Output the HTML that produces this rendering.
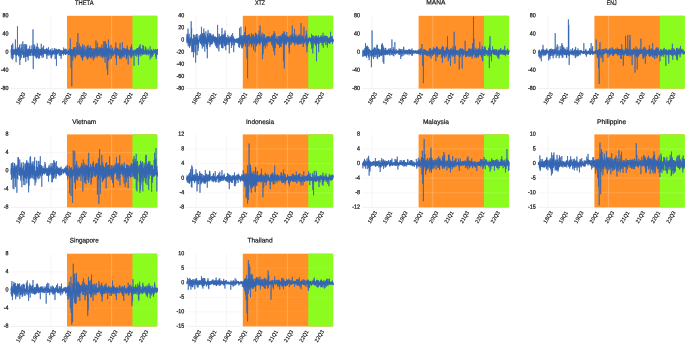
<!DOCTYPE html>
<html><head><meta charset="utf-8"><title>Returns</title>
<style>html,body{margin:0;padding:0;background:#fff;overflow:hidden}svg{display:block;font-family:"Liberation Sans",sans-serif}</style>
</head><body>
<svg width="685" height="343" viewBox="0 0 685 343">
<rect width="685" height="343" fill="#fff"/>
<g>
<line x1="11.00" x2="157.50" y1="88.60" y2="88.60" stroke="#e6e6e6" stroke-width="0.6"/>
<line x1="50.80" x2="50.80" y1="15.80" y2="88.60" stroke="#efefef" stroke-width="0.6"/>
<line x1="111.60" x2="111.60" y1="15.80" y2="88.60" stroke="#efefef" stroke-width="0.6"/>
<rect x="67.00" y="15.80" width="89.50" height="72.80" fill="#FF9128"/>
<rect x="132.45" y="15.80" width="25.05" height="72.80" fill="#8CFC1E"/>
<line x1="111.60" x2="111.60" y1="15.80" y2="88.60" stroke="#fff" stroke-opacity="0.38" stroke-width="0.6"/>
<polyline points="11.00,52.41 11.09,52.58 11.17,49.54 11.26,52.92 11.34,58.27 11.43,52.49 11.52,54.47 11.60,45.08 11.69,51.14 11.78,53.37 11.86,45.47 11.95,54.21 12.03,50.25 12.12,54.34 12.21,52.45 12.29,54.25 12.38,59.71 12.47,50.58 12.55,56.48 12.64,48.94 12.72,50.54 12.81,43.41 12.90,53.72 12.98,55.18 13.07,58.39 13.16,53.93 13.24,50.70 13.33,51.80 13.41,51.49 13.50,54.36 13.59,53.84 13.67,50.15 13.76,54.76 13.85,54.64 13.93,49.18 14.02,51.13 14.10,50.45 14.19,52.99 14.28,54.11 14.36,52.60 14.45,51.78 14.54,49.88 14.62,49.07 14.71,52.96 14.79,51.15 14.88,53.39 14.97,53.10 15.05,52.38 15.14,54.70 15.23,54.30 15.31,47.27 15.40,39.46 15.48,48.81 15.57,53.55 15.66,51.25 15.74,55.31 15.83,47.50 15.91,50.83 16.00,55.18 16.09,62.21 16.17,50.64 16.26,55.19 16.35,48.99 16.43,52.83 16.52,52.28 16.60,55.61 16.69,52.91 16.78,49.67 16.86,52.16 16.95,53.45 17.04,54.59 17.12,53.77 17.21,49.87 17.29,52.66 17.38,54.62 17.47,26.27 17.55,52.25 17.64,48.53 17.73,48.35 17.81,51.62 17.90,54.57 17.98,53.59 18.07,50.29 18.16,50.59 18.24,52.45 18.33,50.65 18.42,52.10 18.50,56.34 18.59,50.90 18.67,52.80 18.76,47.11 18.85,53.31 18.93,48.25 19.02,51.87 19.11,56.22 19.19,52.60 19.28,47.93 19.36,52.99 19.45,54.27 19.54,44.73 19.62,51.26 19.71,51.28 19.80,64.94 19.88,52.68 19.97,52.81 20.05,50.49 20.14,52.55 20.23,50.98 20.31,55.59 20.40,51.55 20.48,59.92 20.57,51.81 20.66,54.24 20.74,50.28 20.83,53.41 20.92,48.42 21.00,53.23 21.09,50.71 21.17,43.92 21.26,50.06 21.35,52.49 21.43,48.62 21.52,47.53 21.61,57.74 21.69,52.23 21.78,52.62 21.86,52.19 21.95,51.72 22.04,51.04 22.12,50.54 22.21,52.82 22.30,51.71 22.38,52.46 22.47,53.72 22.55,54.81 22.64,53.43 22.73,50.52 22.81,41.43 22.90,52.61 22.99,54.03 23.07,52.27 23.16,44.55 23.24,54.34 23.33,54.40 23.42,49.77 23.50,56.58 23.59,57.97 23.68,54.82 23.76,55.21 23.85,56.91 23.93,50.21 24.02,58.01 24.11,51.94 24.19,53.42 24.28,54.91 24.37,53.41 24.45,47.98 24.54,47.46 24.62,48.48 24.71,47.51 24.80,43.96 24.88,48.59 24.97,50.23 25.06,56.24 25.14,56.60 25.23,54.50 25.31,54.58 25.40,49.90 25.49,51.38 25.57,57.07 25.66,44.01 25.74,61.90 25.83,50.58 25.92,53.48 26.00,55.29 26.09,45.57 26.18,53.18 26.26,56.80 26.35,55.28 26.43,51.25 26.52,49.95 26.61,44.67 26.69,53.52 26.78,49.34 26.87,56.42 26.95,55.25 27.04,53.08 27.12,51.00 27.21,56.24 27.30,50.09 27.38,53.24 27.47,53.05 27.56,54.01 27.64,48.90 27.73,54.68 27.81,57.02 27.90,51.26 27.99,50.39 28.07,51.69 28.16,60.37 28.25,50.68 28.33,53.82 28.42,55.53 28.50,50.36 28.59,48.53 28.68,55.11 28.76,52.45 28.85,54.40 28.94,52.06 29.02,52.61 29.11,50.72 29.19,53.32 29.28,55.71 29.37,51.20 29.45,51.66 29.54,49.23 29.63,55.21 29.71,45.76 29.80,48.64 29.88,52.71 29.97,50.24 30.06,51.36 30.14,50.94 30.23,53.80 30.31,54.65 30.40,55.63 30.49,54.42 30.57,51.01 30.66,49.16 30.75,53.60 30.83,51.68 30.92,50.41 31.00,56.03 31.09,52.94 31.18,49.48 31.26,51.32 31.35,52.15 31.44,51.66 31.52,52.46 31.61,49.33 31.69,51.30 31.78,52.61 31.87,49.80 31.95,45.34 32.04,51.41 32.13,50.86 32.21,52.97 32.30,53.07 32.38,50.82 32.47,50.06 32.56,55.49 32.64,51.70 32.73,53.42 32.82,54.19 32.90,55.13 32.99,29.45 33.07,55.23 33.16,51.87 33.25,69.03 33.33,49.93 33.42,54.05 33.51,55.93 33.59,53.10 33.68,48.03 33.76,53.62 33.85,56.12 33.94,44.06 34.02,51.63 34.11,47.46 34.20,53.52 34.28,47.02 34.37,54.51 34.45,55.39 34.54,53.20 34.63,49.90 34.71,45.42 34.80,53.68 34.88,52.37 34.97,49.06 35.06,51.17 35.14,51.53 35.23,56.39 35.32,52.86 35.40,51.41 35.49,50.53 35.57,50.25 35.66,55.76 35.75,49.19 35.83,54.14 35.92,48.88 36.01,57.77 36.09,49.99 36.18,51.77 36.26,46.63 36.35,52.31 36.44,58.54 36.52,50.63 36.61,53.38 36.70,54.36 36.78,47.17 36.87,49.24 36.95,51.12 37.04,51.60 37.13,50.44 37.21,49.42 37.30,43.31 37.39,53.14 37.47,55.37 37.56,57.53 37.64,55.32 37.73,51.61 37.82,55.25 37.90,52.40 37.99,52.70 38.08,46.86 38.16,52.14 38.25,50.65 38.33,49.34 38.42,57.18 38.51,49.60 38.59,51.60 38.68,58.68 38.77,52.72 38.85,49.14 38.94,52.64 39.02,51.45 39.11,48.50 39.20,49.06 39.28,54.63 39.37,53.32 39.45,52.16 39.54,58.39 39.63,52.06 39.71,51.98 39.80,54.40 39.89,50.40 39.97,49.59 40.06,54.71 40.14,53.13 40.23,49.23 40.32,54.31 40.40,55.24 40.49,53.29 40.58,54.72 40.66,53.06 40.75,49.03 40.83,51.90 40.92,52.10 41.01,54.65 41.09,55.78 41.18,49.16 41.27,43.78 41.35,54.70 41.44,48.21 41.52,52.24 41.61,55.24 41.70,48.91 41.78,53.17 41.87,52.00 41.96,48.84 42.04,53.72 42.13,57.83 42.21,52.03 42.30,49.86 42.39,50.98 42.47,50.83 42.56,54.32 42.65,51.31 42.73,47.34 42.82,48.61 42.90,52.43 42.99,48.78 43.08,52.84 43.16,55.05 43.25,51.23 43.34,51.91 43.42,57.27 43.51,52.84 43.59,45.56 43.68,52.57 43.77,48.99 43.85,51.04 43.94,49.12 44.03,53.10 44.11,53.05 44.20,53.16 44.28,52.00 44.37,52.09 44.46,51.32 44.54,53.56 44.63,51.04 44.71,49.79 44.80,53.51 44.89,53.63 44.97,50.92 45.06,51.90 45.15,50.74 45.23,53.95 45.32,52.84 45.40,51.36 45.49,53.34 45.58,51.67 45.66,52.03 45.75,53.62 45.84,49.08 45.92,53.80 46.01,54.10 46.09,53.40 46.18,49.05 46.27,52.32 46.35,51.51 46.44,53.20 46.53,52.90 46.61,52.15 46.70,55.50 46.78,47.98 46.87,58.85 46.96,49.67 47.04,50.97 47.13,54.48 47.22,53.49 47.30,51.14 47.39,55.17 47.47,49.09 47.56,51.49 47.65,49.64 47.73,51.67 47.82,50.51 47.91,51.55 47.99,52.95 48.08,50.50 48.16,50.39 48.25,51.68 48.34,49.96 48.42,49.78 48.51,47.31 48.60,55.12 48.68,55.63 48.77,51.83 48.85,50.85 48.94,52.21 49.03,53.71 49.11,51.49 49.20,54.04 49.28,53.55 49.37,52.15 49.46,50.79 49.54,50.69 49.63,52.65 49.72,51.42 49.80,55.29 49.89,50.89 49.97,49.82 50.06,51.09 50.15,50.48 50.23,51.98 50.32,52.81 50.41,49.27 50.49,52.70 50.58,52.02 50.66,55.07 50.75,51.22 50.84,52.72 50.92,53.40 51.01,55.54 51.10,57.91 51.18,53.65 51.27,52.09 51.35,51.56 51.44,58.44 51.53,53.54 51.61,50.85 51.70,55.25 51.79,54.48 51.87,56.69 51.96,48.43 52.04,48.32 52.13,48.58 52.22,53.89 52.30,52.00 52.39,50.92 52.48,54.60 52.56,54.17 52.65,54.16 52.73,51.35 52.82,50.38 52.91,50.63 52.99,52.93 53.08,51.55 53.17,52.91 53.25,54.30 53.34,51.86 53.42,54.30 53.51,50.28 53.60,53.92 53.68,52.32 53.77,51.35 53.85,52.63 53.94,51.89 54.03,53.54 54.11,50.60 54.20,52.80 54.29,53.33 54.37,48.01 54.46,51.00 54.54,53.62 54.63,50.73 54.72,54.37 54.80,52.34 54.89,53.96 54.98,53.41 55.06,52.14 55.15,59.14 55.23,49.94 55.32,52.55 55.41,52.04 55.49,51.60 55.58,51.90 55.67,49.92 55.75,51.46 55.84,48.64 55.92,50.47 56.01,52.42 56.10,57.98 56.18,52.08 56.27,48.98 56.36,53.57 56.44,65.85 56.53,51.11 56.61,53.83 56.70,50.69 56.79,54.52 56.87,50.25 56.96,51.51 57.05,52.41 57.13,52.15 57.22,54.28 57.30,50.63 57.39,50.77 57.48,53.96 57.56,51.53 57.65,52.26 57.74,52.14 57.82,53.83 57.91,49.66 57.99,50.72 58.08,52.88 58.17,52.00 58.25,49.13 58.34,52.07 58.42,52.27 58.51,51.32 58.60,48.99 58.68,52.23 58.77,51.96 58.86,50.37 58.94,52.95 59.03,53.23 59.11,55.40 59.20,55.57 59.29,54.21 59.37,51.43 59.46,49.30 59.55,51.66 59.63,52.98 59.72,52.33 59.80,53.64 59.89,55.94 59.98,55.73 60.06,49.73 60.15,53.10 60.24,51.94 60.32,50.86 60.41,50.61 60.49,53.46 60.58,55.48 60.67,53.74 60.75,52.75 60.84,53.12 60.93,52.58 61.01,56.24 61.10,58.81 61.18,54.51 61.27,50.40 61.36,54.37 61.44,55.74 61.53,51.72 61.62,50.08 61.70,51.00 61.79,51.09 61.87,51.47 61.96,52.21 62.05,52.46 62.13,53.70 62.22,51.86 62.31,50.67 62.39,50.89 62.48,53.82 62.56,50.78 62.65,52.55 62.74,51.62 62.82,51.27 62.91,53.50 62.99,52.54 63.08,51.49 63.17,53.64 63.25,53.06 63.34,51.83 63.43,55.36 63.51,55.07 63.60,53.21 63.68,47.53 63.77,53.84 63.86,49.94 63.94,51.64 64.03,50.81 64.12,54.21 64.20,50.98 64.29,52.63 64.37,49.97 64.46,53.36 64.55,51.76 64.63,51.50 64.72,49.24 64.81,51.38 64.89,53.87 64.98,51.88 65.06,49.11 65.15,53.37 65.24,54.36 65.32,53.06 65.41,50.98 65.50,54.98 65.58,54.04 65.67,48.63 65.75,52.73 65.84,52.66 65.93,51.94 66.01,52.01 66.10,53.21 66.19,52.61 66.27,54.35 66.36,51.66 66.44,52.05 66.53,49.33 66.62,53.37 66.70,52.99 66.79,53.21 66.88,52.69 66.96,51.47 67.05,53.55 67.13,52.84 67.22,52.42 67.31,53.05 67.39,51.13 67.48,53.89 67.57,53.32 67.65,52.41 67.74,51.73 67.82,54.08 67.91,51.98 68.00,52.71 68.08,51.61 68.17,53.22 68.25,53.11 68.34,50.17 68.43,51.25 68.51,49.84 68.60,54.45 68.69,51.47 68.77,50.92 68.86,55.10 68.94,54.32 69.03,52.85 69.12,50.87 69.20,52.14 69.29,53.52 69.38,54.85 69.46,49.74 69.55,54.37 69.63,52.08 69.72,52.24 69.81,53.04 69.89,51.50 69.98,51.88 70.07,48.44 70.15,55.00 70.24,53.20 70.32,38.55 70.41,55.91 70.50,50.26 70.58,51.67 70.67,52.04 70.76,52.90 70.84,51.31 70.93,49.97 71.01,56.27 71.10,68.12 71.19,50.03 71.27,52.44 71.36,59.01 71.45,49.14 71.53,53.51 71.62,54.00 71.70,50.83 71.79,86.32 71.88,53.17 71.96,52.56 72.05,50.61 72.14,52.11 72.22,52.58 72.31,55.24 72.39,49.63 72.48,55.67 72.57,54.64 72.65,50.78 72.74,53.48 72.82,60.74 72.91,55.61 73.00,52.64 73.08,50.58 73.17,49.36 73.26,52.95 73.34,49.91 73.43,51.29 73.51,47.43 73.60,54.70 73.69,48.56 73.77,54.50 73.86,51.41 73.95,48.44 74.03,56.21 74.12,50.50 74.20,57.31 74.29,50.19 74.38,51.75 74.46,47.27 74.55,50.45 74.64,50.54 74.72,52.92 74.81,48.54 74.89,54.14 74.98,55.33 75.07,52.33 75.15,50.12 75.24,50.01 75.33,52.48 75.41,53.67 75.50,58.23 75.58,57.85 75.67,52.63 75.76,49.90 75.84,47.04 75.93,48.74 76.02,50.12 76.10,52.98 76.19,55.55 76.27,52.83 76.36,54.07 76.45,53.65 76.53,50.36 76.62,53.49 76.71,53.16 76.79,51.80 76.88,51.32 76.96,42.19 77.05,46.90 77.14,55.31 77.22,48.56 77.31,52.93 77.39,54.25 77.48,49.77 77.57,53.58 77.65,51.70 77.74,45.95 77.83,49.53 77.91,33.09 78.00,44.07 78.08,44.57 78.17,48.92 78.26,52.64 78.34,52.46 78.43,53.54 78.52,53.86 78.60,53.05 78.69,53.23 78.77,50.24 78.86,50.43 78.95,54.76 79.03,51.88 79.12,50.32 79.21,55.19 79.29,43.52 79.38,49.00 79.46,51.42 79.55,51.95 79.64,50.45 79.72,54.21 79.81,49.43 79.90,46.65 79.98,49.00 80.07,51.36 80.15,53.53 80.24,53.63 80.33,53.88 80.41,55.04 80.50,49.02 80.59,53.16 80.67,52.61 80.76,51.82 80.84,55.43 80.93,48.87 81.02,46.24 81.10,47.62 81.19,56.75 81.28,51.46 81.36,47.72 81.45,57.82 81.53,54.06 81.62,56.21 81.71,51.98 81.79,50.51 81.88,51.57 81.96,53.50 82.05,50.73 82.14,54.97 82.22,59.03 82.31,52.34 82.40,58.09 82.48,52.70 82.57,50.80 82.65,60.68 82.74,44.17 82.83,54.43 82.91,47.86 83.00,48.42 83.09,47.21 83.17,48.86 83.26,51.31 83.34,52.65 83.43,56.55 83.52,49.96 83.60,57.12 83.69,49.15 83.78,49.10 83.86,56.36 83.95,55.94 84.03,49.57 84.12,54.88 84.21,53.42 84.29,45.18 84.38,50.12 84.47,52.79 84.55,54.38 84.64,51.14 84.72,52.49 84.81,52.00 84.90,51.96 84.98,56.37 85.07,52.20 85.16,52.38 85.24,51.69 85.33,53.92 85.41,51.70 85.50,52.09 85.59,50.43 85.67,55.84 85.76,53.98 85.85,53.64 85.93,53.70 86.02,46.73 86.10,51.24 86.19,52.60 86.28,56.21 86.36,51.10 86.45,57.09 86.54,56.15 86.62,53.03 86.71,48.81 86.79,49.64 86.88,51.34 86.97,50.31 87.05,58.64 87.14,49.71 87.22,52.34 87.31,50.64 87.40,50.60 87.48,58.65 87.57,46.15 87.66,59.13 87.74,59.54 87.83,50.70 87.91,51.72 88.00,48.90 88.09,44.95 88.17,53.72 88.26,48.28 88.35,48.20 88.43,50.49 88.52,57.72 88.60,55.42 88.69,55.05 88.78,51.28 88.86,48.69 88.95,55.10 89.04,53.88 89.12,52.49 89.21,53.72 89.29,56.75 89.38,47.78 89.47,50.87 89.55,48.78 89.64,55.09 89.73,49.57 89.81,55.75 89.90,49.91 89.98,50.36 90.07,49.56 90.16,49.41 90.24,49.99 90.33,53.43 90.42,45.70 90.50,57.59 90.59,47.85 90.67,51.65 90.76,53.09 90.85,55.14 90.93,53.61 91.02,53.65 91.11,58.60 91.19,51.29 91.28,56.38 91.36,54.41 91.45,56.17 91.54,47.94 91.62,52.18 91.71,51.25 91.79,51.96 91.88,51.92 91.97,52.37 92.05,54.10 92.14,48.40 92.23,50.70 92.31,55.06 92.40,51.26 92.48,54.03 92.57,55.95 92.66,56.74 92.74,53.48 92.83,56.56 92.92,54.57 93.00,52.68 93.09,55.87 93.17,53.38 93.26,54.62 93.35,60.49 93.43,52.64 93.52,48.30 93.61,49.09 93.69,49.72 93.78,54.06 93.86,53.04 93.95,49.10 94.04,49.78 94.12,54.52 94.21,58.40 94.30,48.79 94.38,54.09 94.47,51.46 94.55,49.66 94.64,50.23 94.73,53.34 94.81,57.98 94.90,49.24 94.99,50.80 95.07,53.48 95.16,51.88 95.24,52.09 95.33,52.59 95.42,52.60 95.50,51.53 95.59,53.42 95.68,52.49 95.76,48.33 95.85,54.89 95.93,40.37 96.02,56.14 96.11,48.61 96.19,51.03 96.28,48.39 96.36,55.73 96.45,50.08 96.54,49.66 96.62,50.71 96.71,50.44 96.80,47.74 96.88,47.68 96.97,54.89 97.05,57.01 97.14,57.70 97.23,53.60 97.31,42.79 97.40,53.61 97.49,53.86 97.57,52.12 97.66,52.37 97.74,51.08 97.83,55.47 97.92,52.73 98.00,50.94 98.09,47.04 98.18,50.54 98.26,53.10 98.35,50.74 98.43,49.63 98.52,51.66 98.61,52.68 98.69,53.81 98.78,56.07 98.87,51.06 98.95,55.53 99.04,51.68 99.12,55.00 99.21,49.74 99.30,51.36 99.38,50.23 99.47,51.75 99.56,52.77 99.64,51.86 99.73,48.75 99.81,55.16 99.90,47.09 99.99,49.44 100.07,52.43 100.16,48.49 100.25,51.79 100.33,51.90 100.42,48.64 100.50,49.96 100.59,53.67 100.68,52.51 100.76,49.78 100.85,57.12 100.93,52.93 101.02,49.99 101.11,48.10 101.19,51.81 101.28,50.70 101.37,50.44 101.45,49.64 101.54,56.80 101.62,55.29 101.71,47.67 101.80,53.30 101.88,44.62 101.97,55.01 102.06,50.39 102.14,48.31 102.23,55.58 102.31,49.43 102.40,52.31 102.49,50.59 102.57,48.27 102.66,49.94 102.75,50.26 102.83,58.32 102.92,52.50 103.00,48.09 103.09,52.93 103.18,52.73 103.26,49.97 103.35,52.65 103.44,52.54 103.52,51.48 103.61,56.60 103.69,51.41 103.78,41.12 103.87,54.44 103.95,55.37 104.04,56.04 104.13,55.15 104.21,49.15 104.30,49.49 104.38,53.01 104.47,53.58 104.56,49.82 104.64,57.31 104.73,50.62 104.82,54.18 104.90,49.00 104.99,41.09 105.07,62.74 105.16,51.51 105.25,41.53 105.33,55.68 105.42,46.86 105.51,50.30 105.59,52.07 105.68,53.33 105.76,53.11 105.85,54.26 105.94,49.27 106.02,54.88 106.11,53.36 106.19,53.81 106.28,56.58 106.37,43.88 106.45,47.15 106.54,50.35 106.63,54.70 106.71,53.90 106.80,48.21 106.88,52.11 106.97,69.49 107.06,55.88 107.14,48.98 107.23,51.04 107.32,48.43 107.40,52.97 107.49,55.97 107.57,53.27 107.66,74.95 107.75,48.89 107.83,49.14 107.92,49.69 108.01,55.31 108.09,49.30 108.18,52.20 108.26,53.05 108.35,52.75 108.44,39.46 108.52,60.68 108.61,51.92 108.70,49.40 108.78,56.21 108.87,52.44 108.95,46.16 109.04,51.27 109.13,49.47 109.21,49.42 109.30,50.15 109.39,49.99 109.47,52.30 109.56,53.18 109.64,48.53 109.73,53.07 109.82,53.29 109.90,50.11 109.99,59.47 110.08,52.45 110.16,53.05 110.25,50.95 110.33,50.12 110.42,54.19 110.51,48.63 110.59,50.07 110.68,53.54 110.76,55.11 110.85,56.09 110.94,50.12 111.02,44.84 111.11,50.72 111.20,53.05 111.28,52.44 111.37,58.49 111.45,52.92 111.54,50.67 111.63,49.94 111.71,52.63 111.80,50.53 111.89,50.14 111.97,50.15 112.06,53.94 112.14,51.89 112.23,53.58 112.32,52.60 112.40,52.53 112.49,51.57 112.58,47.80 112.66,56.23 112.75,51.74 112.83,51.77 112.92,54.14 113.01,53.48 113.09,52.89 113.18,51.11 113.27,52.81 113.35,53.34 113.44,50.79 113.52,53.99 113.61,55.32 113.70,52.54 113.78,53.97 113.87,53.20 113.96,52.37 114.04,54.53 114.13,50.70 114.21,52.94 114.30,50.01 114.39,48.86 114.47,50.36 114.56,51.21 114.65,50.90 114.73,50.63 114.82,50.62 114.90,52.93 114.99,52.40 115.08,52.00 115.16,47.60 115.25,47.09 115.33,49.32 115.42,49.37 115.51,54.81 115.59,51.83 115.68,58.04 115.77,56.28 115.85,42.44 115.94,49.25 116.02,51.47 116.11,54.62 116.20,48.68 116.28,50.52 116.37,51.05 116.46,64.94 116.54,53.58 116.63,49.22 116.71,52.72 116.80,48.55 116.89,52.76 116.97,51.78 117.06,52.49 117.15,47.90 117.23,55.16 117.32,48.44 117.40,48.81 117.49,52.32 117.58,49.07 117.66,51.17 117.75,54.08 117.84,48.78 117.92,54.46 118.01,53.61 118.09,48.91 118.18,55.84 118.27,54.88 118.35,54.38 118.44,52.05 118.53,50.28 118.61,51.34 118.70,50.63 118.78,53.50 118.87,49.16 118.96,51.49 119.04,52.85 119.13,56.38 119.22,50.44 119.30,53.85 119.39,52.17 119.47,55.67 119.56,58.73 119.65,51.13 119.73,53.26 119.82,49.87 119.90,51.72 119.99,51.36 120.08,43.26 120.16,54.39 120.25,51.15 120.34,56.50 120.42,52.55 120.51,57.68 120.59,57.94 120.68,53.36 120.77,52.08 120.85,54.70 120.94,53.63 121.03,49.58 121.11,53.55 121.20,59.37 121.28,51.45 121.37,54.57 121.46,54.44 121.54,55.02 121.63,53.01 121.72,52.03 121.80,50.76 121.89,52.10 121.97,57.81 122.06,49.74 122.15,51.03 122.23,55.70 122.32,42.19 122.41,50.40 122.49,49.19 122.58,52.65 122.66,55.00 122.75,50.96 122.84,56.87 122.92,48.25 123.01,53.00 123.10,55.66 123.18,52.93 123.27,55.23 123.35,51.56 123.44,53.66 123.53,52.34 123.61,48.69 123.70,47.81 123.79,51.52 123.87,53.44 123.96,51.39 124.04,51.10 124.13,57.30 124.22,54.91 124.30,52.95 124.39,48.64 124.47,50.29 124.56,48.64 124.65,55.30 124.73,52.20 124.82,53.11 124.91,51.54 124.99,48.86 125.08,50.34 125.16,53.30 125.25,51.20 125.34,48.98 125.42,50.30 125.51,52.29 125.60,49.43 125.68,54.42 125.77,54.05 125.85,49.82 125.94,51.35 126.03,54.80 126.11,51.88 126.20,51.34 126.29,59.32 126.37,50.21 126.46,54.13 126.54,57.95 126.63,54.21 126.72,52.60 126.80,48.12 126.89,56.10 126.98,56.19 127.06,51.17 127.15,57.37 127.23,45.62 127.32,53.82 127.41,50.74 127.49,50.87 127.58,53.94 127.67,52.77 127.75,53.15 127.84,53.13 127.92,49.35 128.01,51.36 128.10,52.77 128.18,64.48 128.27,50.26 128.36,50.16 128.44,53.18 128.53,54.23 128.61,50.96 128.70,51.06 128.79,51.16 128.87,49.97 128.96,53.66 129.05,52.05 129.13,51.63 129.22,51.92 129.30,54.00 129.39,49.88 129.48,50.16 129.56,51.16 129.65,51.26 129.73,52.01 129.82,55.46 129.91,53.10 129.99,54.63 130.08,50.19 130.17,55.62 130.25,54.46 130.34,49.07 130.42,53.67 130.51,49.62 130.60,54.79 130.68,47.10 130.77,49.46 130.86,54.41 130.94,58.19 131.03,48.88 131.11,51.61 131.20,56.80 131.29,46.38 131.37,52.50 131.46,50.91 131.55,47.87 131.63,44.37 131.72,57.45 131.80,47.59 131.89,53.92 131.98,50.02 132.06,55.88 132.15,56.14 132.24,53.69 132.32,53.70 132.41,54.50 132.49,52.20 132.58,52.63 132.67,52.45 132.75,50.85 132.84,51.40 132.93,53.16 133.01,52.85 133.10,51.64 133.18,50.81 133.27,54.64 133.36,55.37 133.44,50.33 133.53,54.11 133.62,55.27 133.70,51.31 133.79,51.92 133.87,55.30 133.96,52.62 134.05,65.85 134.13,52.51 134.22,51.73 134.30,52.95 134.39,51.81 134.48,52.66 134.56,51.94 134.65,49.80 134.74,50.10 134.82,51.73 134.91,51.53 134.99,51.76 135.08,52.05 135.17,52.57 135.25,50.59 135.34,51.95 135.43,51.47 135.51,52.02 135.60,55.72 135.68,51.93 135.77,49.58 135.86,53.63 135.94,52.12 136.03,50.12 136.12,52.90 136.20,50.56 136.29,51.49 136.37,49.64 136.46,53.24 136.55,52.84 136.63,48.66 136.72,56.59 136.81,52.29 136.89,51.97 136.98,52.44 137.06,49.34 137.15,53.92 137.24,54.65 137.32,48.44 137.41,51.11 137.50,54.01 137.58,52.65 137.67,53.11 137.75,52.11 137.84,52.15 137.93,48.29 138.01,50.22 138.10,48.33 138.19,50.50 138.27,52.98 138.36,50.41 138.44,64.94 138.53,49.68 138.62,55.61 138.70,54.82 138.79,52.54 138.87,56.73 138.96,46.74 139.05,48.09 139.13,53.83 139.22,51.50 139.31,48.31 139.39,54.58 139.48,48.20 139.56,46.18 139.65,51.86 139.74,50.90 139.82,49.38 139.91,51.07 140.00,54.08 140.08,51.91 140.17,44.16 140.25,53.89 140.34,51.28 140.43,51.81 140.51,51.71 140.60,52.71 140.69,51.74 140.77,48.19 140.86,56.29 140.94,51.05 141.03,51.84 141.12,52.50 141.20,52.98 141.29,52.77 141.38,48.92 141.46,52.78 141.55,51.65 141.63,52.02 141.72,53.32 141.81,50.24 141.89,54.08 141.98,50.35 142.07,50.20 142.15,51.59 142.24,55.16 142.32,48.79 142.41,51.02 142.50,50.16 142.58,49.77 142.67,53.11 142.76,52.60 142.84,44.92 142.93,53.70 143.01,51.83 143.10,52.49 143.19,49.90 143.27,53.93 143.36,51.39 143.44,50.79 143.53,50.93 143.62,46.04 143.70,54.62 143.79,49.15 143.88,52.75 143.96,53.64 144.05,50.94 144.13,51.31 144.22,53.47 144.31,53.04 144.39,52.38 144.48,51.25 144.57,52.81 144.65,52.44 144.74,50.74 144.82,52.23 144.91,51.97 145.00,52.73 145.08,51.75 145.17,54.74 145.26,50.92 145.34,52.61 145.43,46.58 145.51,51.30 145.60,53.98 145.69,49.91 145.77,47.45 145.86,53.43 145.95,49.84 146.03,52.30 146.12,50.71 146.20,51.76 146.29,51.81 146.38,52.79 146.46,53.82 146.55,52.41 146.64,52.31 146.72,49.53 146.81,53.85 146.89,55.18 146.98,53.45 147.07,54.17 147.15,51.69 147.24,50.21 147.33,53.75 147.41,52.83 147.50,52.77 147.58,52.57 147.67,53.20 147.76,52.56 147.84,52.20 147.93,51.02 148.02,52.61 148.10,48.79 148.19,50.39 148.27,51.74 148.36,50.69 148.45,50.74 148.53,50.44 148.62,55.30 148.70,51.39 148.79,52.81 148.88,52.64 148.96,51.91 149.05,52.11 149.14,51.79 149.22,53.21 149.31,51.67 149.39,51.10 149.48,51.06 149.57,52.88 149.65,52.11 149.74,51.66 149.83,53.28 149.91,53.81 150.00,49.86 150.08,46.30 150.17,59.48 150.26,50.88 150.34,51.84 150.43,51.37 150.52,50.70 150.60,52.67 150.69,51.76 150.77,52.02 150.86,54.70 150.95,51.20 151.03,50.38 151.12,55.15 151.21,49.45 151.29,57.68 151.38,51.85 151.46,52.58 151.55,49.74 151.64,52.34 151.72,54.50 151.81,51.83 151.90,53.09 151.98,56.13 152.07,54.10 152.15,53.73 152.24,52.52 152.33,51.17 152.41,51.09 152.50,53.99 152.59,56.49 152.67,52.18 152.76,51.77 152.84,50.15 152.93,52.31 153.02,54.12 153.10,53.47 153.19,54.94 153.27,53.53 153.36,48.87 153.45,50.66 153.53,52.39 153.62,51.75 153.71,52.22 153.79,53.29 153.88,53.63 153.96,52.65 154.05,51.61 154.14,51.70 154.22,52.15 154.31,50.43 154.40,52.47 154.48,50.60 154.57,51.13 154.65,51.28 154.74,53.17 154.83,49.91 154.91,51.97 155.00,51.22 155.09,49.74 155.17,51.94 155.26,52.38 155.34,53.02 155.43,50.32 155.52,51.53 155.60,52.50 155.69,48.95 155.78,53.64 155.86,56.87 155.95,52.14 156.03,54.14 156.12,53.60 156.21,59.12 156.29,49.64 156.38,51.04 156.47,55.09 156.55,51.63 156.64,49.77 156.72,54.93 156.81,52.73 156.90,50.69 156.98,53.86 157.07,54.52 157.16,52.91 157.24,54.26 157.33,51.70 157.41,48.89 157.50,51.69" fill="none" stroke="#3566B2" stroke-width="0.72" stroke-linejoin="round"/>
<text transform="translate(75.00,4.60) rotate(0.03)" textLength="18.50" lengthAdjust="spacingAndGlyphs" font-size="6.7" fill="#15171c" stroke="#15171c" stroke-width="0.2">THETA</text>
<text transform="translate(8.40,17.23) rotate(0.03) scale(0.88,1)" text-anchor="end" font-size="6.1" fill="#111" stroke="#111" stroke-width="0.24">80</text>
<text transform="translate(8.40,35.43) rotate(0.03) scale(0.88,1)" text-anchor="end" font-size="6.1" fill="#111" stroke="#111" stroke-width="0.24">40</text>
<text transform="translate(8.40,53.63) rotate(0.03) scale(0.88,1)" text-anchor="end" font-size="6.1" fill="#111" stroke="#111" stroke-width="0.24">0</text>
<text transform="translate(8.40,71.83) rotate(0.03) scale(0.88,1)" text-anchor="end" font-size="6.1" fill="#111" stroke="#111" stroke-width="0.24">-40</text>
<text transform="translate(8.40,90.03) rotate(0.03) scale(0.88,1)" text-anchor="end" font-size="6.1" fill="#111" stroke="#111" stroke-width="0.24">-80</text>
<text transform="translate(20.55,98.30) rotate(-59) scale(0.96,1)" text-anchor="middle" y="1.95" font-size="5.5" fill="#000" stroke="#000" stroke-width="0.1">18Q3</text>
<text transform="translate(35.91,98.30) rotate(-59) scale(0.96,1)" text-anchor="middle" y="1.95" font-size="5.5" fill="#000" stroke="#000" stroke-width="0.1">19Q1</text>
<text transform="translate(51.27,98.30) rotate(-59) scale(0.96,1)" text-anchor="middle" y="1.95" font-size="5.5" fill="#000" stroke="#000" stroke-width="0.1">19Q3</text>
<text transform="translate(66.63,98.30) rotate(-59) scale(0.96,1)" text-anchor="middle" y="1.95" font-size="5.5" fill="#000" stroke="#000" stroke-width="0.1">20Q1</text>
<text transform="translate(81.99,98.30) rotate(-59) scale(0.96,1)" text-anchor="middle" y="1.95" font-size="5.5" fill="#000" stroke="#000" stroke-width="0.1">20Q3</text>
<text transform="translate(97.35,98.30) rotate(-59) scale(0.96,1)" text-anchor="middle" y="1.95" font-size="5.5" fill="#000" stroke="#000" stroke-width="0.1">21Q1</text>
<text transform="translate(112.71,98.30) rotate(-59) scale(0.96,1)" text-anchor="middle" y="1.95" font-size="5.5" fill="#000" stroke="#000" stroke-width="0.1">21Q3</text>
<text transform="translate(128.07,98.30) rotate(-59) scale(0.96,1)" text-anchor="middle" y="1.95" font-size="5.5" fill="#000" stroke="#000" stroke-width="0.1">22Q1</text>
<text transform="translate(143.43,98.30) rotate(-59) scale(0.96,1)" text-anchor="middle" y="1.95" font-size="5.5" fill="#000" stroke="#000" stroke-width="0.1">22Q3</text>
</g>
<g>
<line x1="186.80" x2="333.30" y1="88.60" y2="88.60" stroke="#e6e6e6" stroke-width="0.6"/>
<line x1="196.20" x2="196.20" y1="15.80" y2="88.60" stroke="#efefef" stroke-width="0.6"/>
<line x1="226.60" x2="226.60" y1="15.80" y2="88.60" stroke="#efefef" stroke-width="0.6"/>
<line x1="257.00" x2="257.00" y1="15.80" y2="88.60" stroke="#efefef" stroke-width="0.6"/>
<line x1="287.40" x2="287.40" y1="15.80" y2="88.60" stroke="#efefef" stroke-width="0.6"/>
<rect x="242.80" y="15.80" width="89.50" height="72.80" fill="#FF9128"/>
<rect x="308.25" y="15.80" width="25.05" height="72.80" fill="#8CFC1E"/>
<line x1="257.00" x2="257.00" y1="15.80" y2="88.60" stroke="#fff" stroke-opacity="0.38" stroke-width="0.6"/>
<line x1="287.40" x2="287.40" y1="15.80" y2="88.60" stroke="#fff" stroke-opacity="0.38" stroke-width="0.6"/>
<polyline points="186.80,41.98 186.89,41.01 186.97,34.06 187.06,33.83 187.14,43.39 187.23,36.23 187.32,41.68 187.40,38.04 187.49,38.98 187.58,41.22 187.66,34.41 187.75,38.45 187.83,42.83 187.92,40.07 188.01,28.55 188.09,34.71 188.18,46.42 188.27,40.28 188.35,39.55 188.44,36.46 188.52,40.09 188.61,37.92 188.70,37.87 188.78,44.78 188.87,41.72 188.96,42.04 189.04,39.92 189.13,44.18 189.21,33.80 189.30,41.22 189.39,39.59 189.47,47.83 189.56,41.71 189.65,39.39 189.73,45.11 189.82,41.26 189.90,38.39 189.99,42.45 190.08,42.96 190.16,40.29 190.25,44.01 190.34,38.21 190.42,46.10 190.51,42.99 190.59,40.13 190.68,40.61 190.77,41.92 190.85,41.97 190.94,43.00 191.03,37.20 191.11,40.62 191.20,21.26 191.28,38.98 191.37,38.75 191.46,35.89 191.54,34.04 191.63,28.33 191.71,36.08 191.80,52.18 191.89,38.11 191.97,41.73 192.06,40.29 192.15,41.51 192.23,48.36 192.32,42.24 192.40,47.16 192.49,39.05 192.58,51.46 192.66,39.59 192.75,48.05 192.84,44.06 192.92,51.68 193.01,38.73 193.09,45.37 193.18,40.83 193.27,48.91 193.35,40.88 193.44,57.45 193.53,40.65 193.61,34.74 193.70,36.69 193.78,34.75 193.87,40.67 193.96,41.12 194.04,52.51 194.13,44.62 194.22,44.15 194.30,37.06 194.39,41.98 194.47,43.87 194.56,41.39 194.65,43.06 194.73,44.35 194.82,45.07 194.91,36.98 194.99,34.99 195.08,40.78 195.16,39.35 195.25,51.66 195.34,41.82 195.42,39.36 195.51,44.47 195.60,62.51 195.68,42.93 195.77,36.85 195.85,40.78 195.94,44.23 196.03,39.23 196.11,37.07 196.20,43.28 196.28,41.07 196.37,34.03 196.46,41.49 196.54,39.91 196.63,42.73 196.72,45.00 196.80,45.04 196.89,37.01 196.97,38.78 197.06,55.23 197.15,33.90 197.23,41.24 197.32,39.78 197.41,37.78 197.49,42.04 197.58,43.17 197.66,41.85 197.75,43.69 197.84,39.70 197.92,39.39 198.01,51.00 198.10,46.57 198.18,41.80 198.27,43.88 198.35,41.37 198.44,40.30 198.53,48.30 198.61,42.60 198.70,43.65 198.79,39.81 198.87,41.61 198.96,39.65 199.04,35.50 199.13,38.47 199.22,38.95 199.30,41.32 199.39,41.88 199.48,40.82 199.56,38.38 199.65,37.86 199.73,38.52 199.82,40.43 199.91,40.15 199.99,37.75 200.08,35.49 200.17,41.18 200.25,42.39 200.34,43.70 200.42,37.32 200.51,37.66 200.60,36.82 200.68,34.19 200.77,40.52 200.86,37.07 200.94,43.47 201.03,36.13 201.11,40.35 201.20,40.49 201.29,44.07 201.37,34.96 201.46,26.72 201.54,31.80 201.63,45.40 201.72,42.94 201.80,35.65 201.89,40.62 201.98,39.23 202.06,38.60 202.15,41.80 202.23,35.25 202.32,48.56 202.41,33.62 202.49,34.04 202.58,38.04 202.67,37.16 202.75,40.56 202.84,32.99 202.92,42.15 203.01,43.16 203.10,38.71 203.18,41.75 203.27,41.02 203.36,34.93 203.44,46.83 203.53,37.80 203.61,43.37 203.70,39.55 203.79,28.53 203.87,41.03 203.96,45.85 204.05,39.95 204.13,38.31 204.22,33.85 204.30,39.11 204.39,41.11 204.48,42.67 204.56,32.98 204.65,35.99 204.74,37.46 204.82,51.60 204.91,35.59 204.99,35.28 205.08,43.60 205.17,38.35 205.25,41.04 205.34,39.47 205.43,40.42 205.51,44.22 205.60,43.01 205.68,38.96 205.77,36.31 205.86,40.66 205.94,31.34 206.03,38.48 206.11,43.37 206.20,43.38 206.29,37.91 206.37,38.53 206.46,43.05 206.55,47.05 206.63,42.56 206.72,42.41 206.80,38.68 206.89,41.65 206.98,40.65 207.06,48.94 207.15,38.31 207.24,41.88 207.32,58.27 207.41,38.52 207.49,33.57 207.58,42.74 207.67,45.74 207.75,41.72 207.84,39.08 207.93,44.07 208.01,39.58 208.10,30.08 208.18,41.85 208.27,40.86 208.36,35.29 208.44,40.69 208.53,41.96 208.62,36.81 208.70,42.04 208.79,37.86 208.87,41.90 208.96,39.97 209.05,41.26 209.13,42.28 209.22,39.62 209.31,32.88 209.39,37.24 209.48,40.22 209.56,34.69 209.65,38.70 209.74,39.50 209.82,43.18 209.91,47.11 210.00,42.19 210.08,40.64 210.17,43.58 210.25,39.73 210.34,44.89 210.43,38.45 210.51,38.37 210.60,33.30 210.68,42.05 210.77,41.44 210.86,34.35 210.94,38.91 211.03,38.93 211.12,43.89 211.20,44.74 211.29,38.07 211.37,38.91 211.46,43.74 211.55,35.67 211.63,39.38 211.72,41.33 211.81,40.95 211.89,38.31 211.98,40.68 212.06,40.91 212.15,36.66 212.24,44.16 212.32,39.13 212.41,39.09 212.50,35.87 212.58,38.71 212.67,36.66 212.75,36.34 212.84,35.37 212.93,42.69 213.01,40.78 213.10,40.40 213.19,33.96 213.27,36.67 213.36,38.43 213.44,38.02 213.53,39.70 213.62,36.12 213.70,40.25 213.79,37.72 213.88,38.84 213.96,41.96 214.05,37.10 214.13,38.33 214.22,39.70 214.31,42.03 214.39,38.17 214.48,41.32 214.57,42.59 214.65,37.00 214.74,41.71 214.82,39.15 214.91,40.55 215.00,36.20 215.08,42.83 215.17,44.70 215.25,37.10 215.34,40.88 215.43,39.31 215.51,37.55 215.60,43.54 215.69,42.01 215.77,45.40 215.86,46.21 215.94,39.03 216.03,39.99 216.12,39.76 216.20,37.33 216.29,43.98 216.38,45.72 216.46,47.95 216.55,37.65 216.63,45.27 216.72,43.76 216.81,38.54 216.89,43.98 216.98,42.59 217.07,43.65 217.15,38.33 217.24,42.76 217.32,37.73 217.41,42.27 217.50,39.40 217.58,24.90 217.67,37.70 217.76,48.54 217.84,33.52 217.93,39.15 218.01,46.49 218.10,42.82 218.19,40.57 218.27,39.87 218.36,42.41 218.45,41.39 218.53,40.67 218.62,42.51 218.70,40.04 218.79,37.29 218.88,51.32 218.96,42.79 219.05,36.70 219.14,38.90 219.22,37.87 219.31,33.94 219.39,34.66 219.48,43.85 219.57,44.57 219.65,38.59 219.74,37.05 219.83,40.75 219.91,38.59 220.00,42.02 220.08,37.52 220.17,43.86 220.26,39.25 220.34,38.13 220.43,40.61 220.51,39.90 220.60,39.78 220.69,37.10 220.77,42.40 220.86,42.93 220.95,44.81 221.03,36.01 221.12,40.37 221.20,37.19 221.29,36.01 221.38,38.51 221.46,35.60 221.55,47.76 221.64,39.70 221.72,36.08 221.81,34.74 221.89,46.37 221.98,27.93 222.07,47.55 222.15,39.61 222.24,39.74 222.33,40.06 222.41,36.09 222.50,36.05 222.58,37.14 222.67,48.39 222.76,35.32 222.84,41.80 222.93,47.95 223.02,39.36 223.10,40.61 223.19,41.11 223.27,34.93 223.36,40.74 223.45,42.78 223.53,37.09 223.62,43.03 223.71,36.58 223.79,43.13 223.88,37.71 223.96,33.83 224.05,37.04 224.14,42.16 224.22,45.18 224.31,41.32 224.40,41.49 224.48,35.22 224.57,36.62 224.65,46.31 224.74,41.19 224.83,38.44 224.91,37.20 225.00,30.43 225.08,39.77 225.17,43.38 225.26,32.95 225.34,37.53 225.43,45.77 225.52,39.92 225.60,37.71 225.69,44.44 225.77,50.19 225.86,46.10 225.95,38.84 226.03,37.21 226.12,37.89 226.21,45.37 226.29,37.02 226.38,44.15 226.46,41.93 226.55,37.72 226.64,42.64 226.72,41.63 226.81,41.10 226.90,40.71 226.98,42.60 227.07,40.16 227.15,38.40 227.24,43.42 227.33,44.77 227.41,40.83 227.50,39.85 227.59,39.00 227.67,39.32 227.76,40.21 227.84,34.94 227.93,38.46 228.02,39.72 228.10,38.42 228.19,42.11 228.28,40.40 228.36,39.26 228.45,40.85 228.53,40.96 228.62,36.58 228.71,45.02 228.79,41.66 228.88,42.06 228.97,37.84 229.05,41.06 229.14,42.87 229.22,39.10 229.31,53.41 229.40,38.04 229.48,39.84 229.57,41.22 229.65,40.00 229.74,43.15 229.83,37.88 229.91,41.79 230.00,40.53 230.09,40.82 230.17,36.17 230.26,41.11 230.34,40.01 230.43,37.34 230.52,39.35 230.60,41.24 230.69,38.26 230.78,40.43 230.86,38.41 230.95,37.11 231.03,41.57 231.12,42.36 231.21,41.24 231.29,38.77 231.38,47.91 231.47,38.63 231.55,34.74 231.64,40.92 231.72,39.85 231.81,39.25 231.90,44.82 231.98,40.99 232.07,41.26 232.16,45.45 232.24,37.14 232.33,39.45 232.41,37.75 232.50,38.49 232.59,34.98 232.67,33.12 232.76,40.26 232.85,39.77 232.93,40.75 233.02,38.93 233.10,41.98 233.19,40.07 233.28,39.94 233.36,43.06 233.45,37.01 233.54,36.53 233.62,41.77 233.71,52.20 233.79,41.83 233.88,40.37 233.97,37.97 234.05,38.54 234.14,41.27 234.22,40.71 234.31,39.03 234.40,40.24 234.48,42.33 234.57,45.33 234.66,41.10 234.74,39.24 234.83,39.50 234.91,39.63 235.00,41.82 235.09,41.19 235.17,39.40 235.26,42.35 235.35,41.42 235.43,39.77 235.52,39.70 235.60,41.51 235.69,40.70 235.78,41.03 235.86,42.82 235.95,41.81 236.04,41.95 236.12,39.47 236.21,39.93 236.29,38.74 236.38,40.72 236.47,39.70 236.55,40.40 236.64,40.67 236.73,38.59 236.81,40.60 236.90,42.95 236.98,41.56 237.07,40.45 237.16,39.01 237.24,41.34 237.33,38.43 237.42,43.34 237.50,41.21 237.59,40.20 237.67,40.93 237.76,41.54 237.85,38.81 237.93,42.48 238.02,41.24 238.11,40.85 238.19,42.22 238.28,40.41 238.36,39.89 238.45,39.72 238.54,37.91 238.62,41.84 238.71,38.14 238.79,47.23 238.88,41.69 238.97,43.17 239.05,37.96 239.14,44.45 239.23,38.40 239.31,40.11 239.40,37.57 239.48,47.75 239.57,27.93 239.66,40.11 239.74,44.16 239.83,38.33 239.92,40.21 240.00,41.08 240.09,41.17 240.17,39.05 240.26,44.37 240.35,40.60 240.43,39.59 240.52,35.40 240.61,42.64 240.69,43.67 240.78,35.26 240.86,39.40 240.95,26.62 241.04,42.93 241.12,46.13 241.21,42.09 241.30,38.69 241.38,37.74 241.47,36.92 241.55,43.81 241.64,40.42 241.73,48.37 241.81,46.06 241.90,43.22 241.99,41.46 242.07,35.61 242.16,38.28 242.24,35.58 242.33,48.12 242.42,40.02 242.50,45.31 242.59,37.66 242.68,42.29 242.76,39.97 242.85,38.33 242.93,40.49 243.02,43.54 243.11,42.59 243.19,43.14 243.28,42.37 243.37,46.29 243.45,39.00 243.54,45.41 243.62,34.96 243.71,40.78 243.80,40.28 243.88,41.87 243.97,38.04 244.05,40.55 244.14,42.26 244.23,37.60 244.31,41.16 244.40,40.50 244.49,41.78 244.57,32.20 244.66,42.15 244.74,38.70 244.83,36.84 244.92,43.55 245.00,42.84 245.09,44.19 245.18,38.99 245.26,38.57 245.35,36.95 245.43,26.72 245.52,39.89 245.61,41.35 245.69,38.99 245.78,46.90 245.87,34.97 245.95,41.71 246.04,38.23 246.12,42.22 246.21,39.52 246.30,41.31 246.38,41.40 246.47,36.25 246.56,35.50 246.64,42.96 246.73,41.14 246.81,44.59 246.90,58.27 246.99,37.43 247.07,37.91 247.16,43.81 247.25,39.54 247.33,41.27 247.42,41.86 247.50,40.00 247.59,78.29 247.68,35.82 247.76,38.26 247.85,34.99 247.94,39.24 248.02,40.34 248.11,38.07 248.19,39.32 248.28,39.56 248.37,35.02 248.45,36.69 248.54,39.32 248.62,40.56 248.71,38.03 248.80,36.89 248.88,40.60 248.97,42.81 249.06,46.56 249.14,33.97 249.23,42.83 249.31,44.95 249.40,37.16 249.49,34.52 249.57,42.91 249.66,35.23 249.75,42.17 249.83,37.00 249.92,40.78 250.00,40.09 250.09,38.37 250.18,39.10 250.26,39.74 250.35,37.22 250.44,38.29 250.52,41.77 250.61,43.96 250.69,40.17 250.78,40.03 250.87,42.89 250.95,42.56 251.04,43.55 251.13,40.60 251.21,36.80 251.30,37.59 251.38,40.77 251.47,39.47 251.56,33.14 251.64,47.15 251.73,45.50 251.82,36.37 251.90,40.28 251.99,45.20 252.07,44.91 252.16,40.68 252.25,41.48 252.33,35.24 252.42,42.62 252.51,38.47 252.59,38.77 252.68,43.04 252.76,38.78 252.85,40.56 252.94,41.40 253.02,40.03 253.11,37.09 253.19,38.70 253.28,34.22 253.37,40.36 253.45,42.12 253.54,49.67 253.63,45.37 253.71,35.60 253.80,38.63 253.88,36.18 253.97,38.41 254.06,40.26 254.14,43.41 254.23,41.67 254.32,38.61 254.40,39.19 254.49,37.55 254.57,43.37 254.66,38.36 254.75,40.77 254.83,42.64 254.92,42.21 255.01,39.28 255.09,38.34 255.18,51.90 255.26,42.05 255.35,34.49 255.44,32.79 255.52,38.20 255.61,40.57 255.70,42.43 255.78,33.03 255.87,40.17 255.95,36.60 256.04,46.33 256.13,42.83 256.21,33.62 256.30,36.97 256.39,39.17 256.47,46.06 256.56,38.20 256.64,37.92 256.73,35.69 256.82,44.67 256.90,43.41 256.99,39.81 257.08,40.02 257.16,40.87 257.25,41.61 257.33,42.84 257.42,40.13 257.51,43.63 257.59,41.25 257.68,38.50 257.76,42.23 257.85,40.67 257.94,34.86 258.02,43.08 258.11,41.46 258.20,39.25 258.28,41.40 258.37,38.06 258.45,37.03 258.54,38.23 258.63,34.41 258.71,41.30 258.80,40.22 258.89,42.77 258.97,40.98 259.06,41.02 259.14,30.65 259.23,37.80 259.32,44.13 259.40,39.29 259.49,36.32 259.58,41.02 259.66,41.29 259.75,44.95 259.83,39.56 259.92,40.21 260.01,41.53 260.09,25.51 260.18,41.79 260.27,41.70 260.35,43.26 260.44,40.24 260.52,38.27 260.61,41.67 260.70,42.23 260.78,37.18 260.87,40.70 260.96,42.57 261.04,41.70 261.13,35.32 261.21,39.56 261.30,40.86 261.39,39.66 261.47,40.06 261.56,38.47 261.65,35.51 261.73,39.94 261.82,40.78 261.90,40.93 261.99,41.35 262.08,38.18 262.16,32.73 262.25,37.39 262.34,42.79 262.42,41.18 262.51,59.16 262.59,40.19 262.68,46.12 262.77,54.89 262.85,39.29 262.94,53.41 263.02,40.30 263.11,40.22 263.20,39.49 263.28,39.74 263.37,36.74 263.46,43.30 263.54,46.70 263.63,39.27 263.71,33.96 263.80,41.81 263.89,39.01 263.97,41.30 264.06,45.19 264.15,36.79 264.23,38.07 264.32,45.64 264.40,40.75 264.49,34.46 264.58,38.33 264.66,44.36 264.75,38.08 264.84,39.67 264.92,43.84 265.01,40.93 265.09,38.17 265.18,37.47 265.27,43.39 265.35,48.51 265.44,40.05 265.53,39.11 265.61,41.84 265.70,42.10 265.78,39.82 265.87,42.94 265.96,44.04 266.04,41.75 266.13,41.95 266.22,40.29 266.30,38.39 266.39,40.31 266.47,42.25 266.56,39.31 266.65,43.08 266.73,40.17 266.82,36.49 266.91,40.38 266.99,45.85 267.08,46.26 267.16,37.61 267.25,38.01 267.34,40.19 267.42,36.72 267.51,38.82 267.59,40.55 267.68,42.42 267.77,36.98 267.85,38.64 267.94,36.25 268.03,40.54 268.11,39.33 268.20,37.55 268.28,40.57 268.37,38.40 268.46,41.28 268.54,37.12 268.63,37.19 268.72,36.40 268.80,38.71 268.89,42.51 268.97,39.27 269.06,39.41 269.15,40.22 269.23,39.99 269.32,36.28 269.41,39.11 269.49,37.82 269.58,38.65 269.66,41.20 269.75,39.04 269.84,40.42 269.92,37.59 270.01,41.41 270.10,42.21 270.18,39.89 270.27,39.39 270.35,40.83 270.44,40.71 270.53,38.84 270.61,40.01 270.70,40.54 270.79,38.00 270.87,39.51 270.96,37.84 271.04,38.72 271.13,41.98 271.22,40.30 271.30,37.28 271.39,39.34 271.48,35.90 271.56,39.88 271.65,40.45 271.73,42.15 271.82,44.82 271.91,42.29 271.99,35.57 272.08,44.78 272.16,38.45 272.25,37.40 272.34,37.61 272.42,42.15 272.51,35.86 272.60,35.63 272.68,37.34 272.77,38.65 272.85,36.11 272.94,38.61 273.03,47.73 273.11,42.22 273.20,45.35 273.29,40.97 273.37,33.59 273.46,38.99 273.54,48.24 273.63,38.33 273.72,51.53 273.80,41.01 273.89,39.29 273.98,42.02 274.06,38.25 274.15,31.16 274.23,42.73 274.32,35.11 274.41,46.07 274.49,37.70 274.58,36.01 274.67,55.23 274.75,39.81 274.84,39.73 274.92,33.07 275.01,39.76 275.10,40.98 275.18,40.90 275.27,48.08 275.36,41.32 275.44,38.60 275.53,41.26 275.61,40.83 275.70,39.72 275.79,37.80 275.87,39.50 275.96,39.69 276.05,39.57 276.13,42.14 276.22,42.14 276.30,42.05 276.39,38.51 276.48,39.47 276.56,40.50 276.65,41.68 276.73,40.40 276.82,38.34 276.91,36.17 276.99,39.45 277.08,44.02 277.17,40.69 277.25,39.24 277.34,38.89 277.42,41.53 277.51,43.88 277.60,40.36 277.68,41.51 277.77,41.84 277.86,43.62 277.94,44.58 278.03,44.38 278.11,41.84 278.20,41.06 278.29,41.46 278.37,40.62 278.46,36.42 278.55,36.20 278.63,40.87 278.72,42.98 278.80,44.33 278.89,43.96 278.98,43.64 279.06,37.87 279.15,38.97 279.24,45.07 279.32,43.38 279.41,35.97 279.49,47.71 279.58,39.12 279.67,36.63 279.75,42.58 279.84,38.37 279.93,38.87 280.01,40.20 280.10,44.04 280.18,40.83 280.27,44.66 280.36,44.52 280.44,35.79 280.53,42.29 280.62,46.62 280.70,37.74 280.79,36.95 280.87,37.00 280.96,38.65 281.05,39.46 281.13,47.03 281.22,38.27 281.31,42.42 281.39,40.83 281.48,37.11 281.56,38.99 281.65,39.83 281.74,37.04 281.82,35.88 281.91,41.47 281.99,41.88 282.08,33.98 282.17,41.51 282.25,39.94 282.34,41.85 282.43,35.43 282.51,34.44 282.60,33.65 282.68,40.76 282.77,43.65 282.86,35.78 282.94,38.79 283.03,34.19 283.12,37.69 283.20,38.83 283.29,41.94 283.37,38.83 283.46,61.30 283.55,36.59 283.63,38.80 283.72,37.86 283.81,38.11 283.89,37.75 283.98,31.34 284.06,39.42 284.15,35.62 284.24,68.58 284.32,47.98 284.41,32.35 284.50,37.02 284.58,43.80 284.67,44.67 284.75,36.33 284.84,39.64 284.93,40.07 285.01,42.40 285.10,36.73 285.19,38.59 285.27,41.66 285.36,43.40 285.44,43.75 285.53,34.68 285.62,41.59 285.70,41.02 285.79,41.60 285.88,43.51 285.96,43.08 286.05,39.11 286.13,44.75 286.22,37.33 286.31,43.33 286.39,44.21 286.48,39.58 286.56,40.01 286.65,41.19 286.74,31.95 286.82,38.57 286.91,40.53 287.00,38.26 287.08,39.31 287.17,39.82 287.25,39.08 287.34,36.47 287.43,40.86 287.51,36.17 287.60,39.81 287.69,37.04 287.77,37.90 287.86,42.63 287.94,41.69 288.03,37.64 288.12,39.60 288.20,37.21 288.29,39.39 288.38,39.82 288.46,41.64 288.55,41.25 288.63,37.69 288.72,41.02 288.81,40.17 288.89,41.34 288.98,38.78 289.07,47.66 289.15,41.25 289.24,35.86 289.32,53.41 289.41,40.01 289.50,39.13 289.58,45.34 289.67,41.73 289.76,40.45 289.84,38.20 289.93,38.70 290.01,41.07 290.10,41.95 290.19,40.02 290.27,42.02 290.36,38.59 290.45,36.39 290.53,37.36 290.62,37.76 290.70,41.85 290.79,44.98 290.88,42.73 290.96,38.50 291.05,34.67 291.13,37.00 291.22,38.92 291.31,41.51 291.39,38.87 291.48,41.57 291.57,43.62 291.65,42.16 291.74,42.82 291.82,35.27 291.91,41.47 292.00,35.58 292.08,39.34 292.17,39.75 292.26,25.51 292.34,38.39 292.43,35.31 292.51,41.84 292.60,36.22 292.69,38.94 292.77,38.23 292.86,42.42 292.95,40.52 293.03,36.22 293.12,39.96 293.20,40.28 293.29,40.49 293.38,41.55 293.46,37.26 293.55,42.44 293.64,38.44 293.72,38.17 293.81,41.50 293.89,38.20 293.98,36.98 294.07,33.58 294.15,41.88 294.24,39.60 294.33,38.39 294.41,43.59 294.50,28.91 294.58,36.88 294.67,42.32 294.76,45.48 294.84,43.79 294.93,40.72 295.02,41.28 295.10,36.05 295.19,38.91 295.27,41.08 295.36,37.82 295.45,39.39 295.53,42.22 295.62,43.23 295.70,41.06 295.79,35.63 295.88,37.52 295.96,34.47 296.05,41.00 296.14,38.51 296.22,41.74 296.31,41.60 296.39,42.49 296.48,38.58 296.57,37.01 296.65,40.62 296.74,40.47 296.83,43.60 296.91,40.38 297.00,39.69 297.08,39.42 297.17,39.27 297.26,43.13 297.34,44.48 297.43,39.08 297.52,40.31 297.60,35.97 297.69,41.12 297.77,39.32 297.86,41.53 297.95,44.68 298.03,36.93 298.12,44.55 298.21,38.02 298.29,36.88 298.38,43.11 298.46,41.44 298.55,40.53 298.64,41.62 298.72,37.75 298.81,34.66 298.90,43.82 298.98,39.71 299.07,42.99 299.15,38.20 299.24,43.09 299.33,42.24 299.41,36.69 299.50,41.99 299.59,43.19 299.67,40.79 299.76,39.96 299.84,40.15 299.93,40.84 300.02,34.17 300.10,43.74 300.19,40.42 300.27,38.08 300.36,44.03 300.45,37.31 300.53,38.15 300.62,44.19 300.71,36.06 300.79,36.05 300.88,44.18 300.96,37.95 301.05,23.08 301.14,40.57 301.22,38.73 301.31,38.42 301.40,40.99 301.48,42.63 301.57,37.04 301.65,42.07 301.74,40.64 301.83,41.82 301.91,39.98 302.00,42.58 302.09,39.78 302.17,39.95 302.26,39.06 302.34,38.69 302.43,35.41 302.52,40.20 302.60,40.19 302.69,37.48 302.78,42.23 302.86,42.21 302.95,41.34 303.03,44.18 303.12,41.73 303.21,38.03 303.29,46.97 303.38,36.72 303.47,38.19 303.55,39.75 303.64,41.73 303.72,41.76 303.81,38.52 303.90,32.52 303.98,26.72 304.07,43.40 304.16,39.08 304.24,42.91 304.33,39.18 304.41,40.63 304.50,40.65 304.59,40.62 304.67,41.56 304.76,40.46 304.85,39.13 304.93,39.86 305.02,39.19 305.10,40.33 305.19,40.17 305.28,41.66 305.36,40.16 305.45,36.71 305.53,39.41 305.62,37.73 305.71,41.02 305.79,36.39 305.88,35.72 305.97,41.24 306.05,38.05 306.14,44.80 306.22,41.19 306.31,30.66 306.40,38.75 306.48,37.68 306.57,40.82 306.66,38.47 306.74,40.26 306.83,34.36 306.91,52.20 307.00,40.92 307.09,42.28 307.17,39.74 307.26,45.26 307.35,47.11 307.43,38.76 307.52,39.11 307.60,44.53 307.69,40.82 307.78,39.61 307.86,40.40 307.95,40.67 308.04,43.87 308.12,42.27 308.21,40.81 308.29,38.30 308.38,43.02 308.47,40.06 308.55,41.27 308.64,40.10 308.73,38.32 308.81,40.41 308.90,40.34 308.98,38.77 309.07,41.19 309.16,40.07 309.24,40.94 309.33,37.08 309.42,40.43 309.50,38.68 309.59,37.61 309.67,41.15 309.76,38.22 309.85,38.30 309.93,40.35 310.02,41.23 310.10,38.42 310.19,39.59 310.28,40.64 310.36,39.54 310.45,40.41 310.54,39.64 310.62,38.18 310.71,42.19 310.79,41.48 310.88,39.58 310.97,42.21 311.05,42.84 311.14,39.62 311.23,38.01 311.31,44.72 311.40,36.95 311.48,33.91 311.57,35.53 311.66,48.62 311.74,38.39 311.83,39.58 311.92,37.99 312.00,36.59 312.09,39.36 312.17,43.77 312.26,41.55 312.35,39.68 312.43,35.59 312.52,38.35 312.61,39.75 312.69,36.30 312.78,53.41 312.86,41.49 312.95,37.86 313.04,47.70 313.12,35.54 313.21,41.81 313.30,43.74 313.38,40.61 313.47,38.22 313.55,41.29 313.64,41.76 313.73,38.91 313.81,39.82 313.90,39.57 313.99,40.40 314.07,42.35 314.16,36.03 314.24,41.20 314.33,38.12 314.42,43.15 314.50,41.03 314.59,42.81 314.67,42.43 314.76,42.72 314.85,39.01 314.93,40.42 315.02,39.06 315.11,39.16 315.19,43.51 315.28,41.01 315.36,44.74 315.45,35.95 315.54,38.36 315.62,40.63 315.71,45.13 315.80,37.01 315.88,42.64 315.97,44.16 316.05,45.80 316.14,35.38 316.23,37.30 316.31,41.63 316.40,37.94 316.49,61.30 316.57,45.27 316.66,39.51 316.74,36.15 316.83,38.72 316.92,41.85 317.00,43.85 317.09,37.57 317.18,42.51 317.26,38.18 317.35,37.52 317.43,42.15 317.52,39.61 317.61,37.94 317.69,39.67 317.78,41.45 317.87,43.37 317.95,39.14 318.04,40.63 318.12,41.61 318.21,37.01 318.30,43.55 318.38,35.40 318.47,40.23 318.56,37.79 318.64,52.20 318.73,37.07 318.81,40.04 318.90,39.28 318.99,41.30 319.07,41.18 319.16,44.08 319.24,43.45 319.33,37.85 319.42,38.42 319.50,40.02 319.59,39.67 319.68,37.37 319.76,40.05 319.85,40.95 319.93,39.52 320.02,40.81 320.11,38.38 320.19,40.34 320.28,42.48 320.37,42.88 320.45,38.80 320.54,37.00 320.62,40.03 320.71,39.12 320.80,36.98 320.88,40.61 320.97,35.38 321.06,40.34 321.14,39.08 321.23,41.60 321.31,39.19 321.40,40.96 321.49,41.83 321.57,36.10 321.66,38.70 321.75,42.78 321.83,43.22 321.92,42.40 322.00,35.86 322.09,41.12 322.18,45.44 322.26,41.66 322.35,39.28 322.44,41.55 322.52,37.78 322.61,37.39 322.69,41.43 322.78,37.14 322.87,41.71 322.95,36.19 323.04,32.79 323.13,36.59 323.21,40.16 323.30,47.72 323.38,41.10 323.47,39.57 323.56,42.77 323.64,38.71 323.73,36.60 323.82,42.92 323.90,39.92 323.99,38.66 324.07,42.48 324.16,39.27 324.25,36.55 324.33,39.83 324.42,41.38 324.50,41.12 324.59,35.66 324.68,40.66 324.76,39.36 324.85,40.79 324.94,38.65 325.02,37.26 325.11,41.68 325.19,36.13 325.28,39.89 325.37,40.52 325.45,39.10 325.54,39.76 325.63,39.72 325.71,45.09 325.80,35.66 325.88,38.90 325.97,36.43 326.06,37.35 326.14,37.21 326.23,40.63 326.32,36.66 326.40,40.17 326.49,40.10 326.57,35.99 326.66,39.53 326.75,38.84 326.83,42.53 326.92,44.39 327.01,38.30 327.09,38.27 327.18,37.33 327.26,36.26 327.35,39.80 327.44,47.35 327.52,38.33 327.61,42.26 327.70,40.11 327.78,40.58 327.87,39.58 327.95,37.88 328.04,40.10 328.13,41.02 328.21,41.17 328.30,41.29 328.39,40.04 328.47,42.97 328.56,39.31 328.64,40.01 328.73,40.43 328.82,40.08 328.90,40.54 328.99,37.89 329.07,42.31 329.16,43.26 329.25,37.71 329.33,42.75 329.42,39.53 329.51,37.75 329.59,44.14 329.68,40.20 329.76,38.67 329.85,41.13 329.94,42.04 330.02,37.25 330.11,42.78 330.20,39.79 330.28,38.33 330.37,42.36 330.45,40.59 330.54,31.76 330.63,37.50 330.71,40.13 330.80,37.34 330.89,37.75 330.97,37.79 331.06,42.10 331.14,39.66 331.23,41.35 331.32,36.09 331.40,40.43 331.49,40.26 331.58,41.50 331.66,40.28 331.75,41.80 331.83,39.46 331.92,39.14 332.01,41.81 332.09,41.55 332.18,38.97 332.27,41.04 332.35,39.41 332.44,41.63 332.52,36.31 332.61,44.21 332.70,39.96 332.78,39.12 332.87,38.86 332.96,41.96 333.04,40.67 333.13,40.16 333.21,40.92 333.30,39.08" fill="none" stroke="#3566B2" stroke-width="0.72" stroke-linejoin="round"/>
<text transform="translate(254.95,4.60) rotate(0.03)" textLength="10.20" lengthAdjust="spacingAndGlyphs" font-size="6.7" fill="#15171c" stroke="#15171c" stroke-width="0.2">XTZ</text>
<text transform="translate(184.20,17.23) rotate(0.03) scale(0.88,1)" text-anchor="end" font-size="6.1" fill="#111" stroke="#111" stroke-width="0.24">40</text>
<text transform="translate(184.20,29.36) rotate(0.03) scale(0.88,1)" text-anchor="end" font-size="6.1" fill="#111" stroke="#111" stroke-width="0.24">20</text>
<text transform="translate(184.20,41.50) rotate(0.03) scale(0.88,1)" text-anchor="end" font-size="6.1" fill="#111" stroke="#111" stroke-width="0.24">0</text>
<text transform="translate(184.20,53.63) rotate(0.03) scale(0.88,1)" text-anchor="end" font-size="6.1" fill="#111" stroke="#111" stroke-width="0.24">-20</text>
<text transform="translate(184.20,65.76) rotate(0.03) scale(0.88,1)" text-anchor="end" font-size="6.1" fill="#111" stroke="#111" stroke-width="0.24">-40</text>
<text transform="translate(184.20,77.90) rotate(0.03) scale(0.88,1)" text-anchor="end" font-size="6.1" fill="#111" stroke="#111" stroke-width="0.24">-60</text>
<text transform="translate(184.20,90.03) rotate(0.03) scale(0.88,1)" text-anchor="end" font-size="6.1" fill="#111" stroke="#111" stroke-width="0.24">-80</text>
<text transform="translate(196.35,98.30) rotate(-59) scale(0.96,1)" text-anchor="middle" y="1.95" font-size="5.5" fill="#000" stroke="#000" stroke-width="0.1">18Q3</text>
<text transform="translate(211.71,98.30) rotate(-59) scale(0.96,1)" text-anchor="middle" y="1.95" font-size="5.5" fill="#000" stroke="#000" stroke-width="0.1">19Q1</text>
<text transform="translate(227.07,98.30) rotate(-59) scale(0.96,1)" text-anchor="middle" y="1.95" font-size="5.5" fill="#000" stroke="#000" stroke-width="0.1">19Q3</text>
<text transform="translate(242.43,98.30) rotate(-59) scale(0.96,1)" text-anchor="middle" y="1.95" font-size="5.5" fill="#000" stroke="#000" stroke-width="0.1">20Q1</text>
<text transform="translate(257.79,98.30) rotate(-59) scale(0.96,1)" text-anchor="middle" y="1.95" font-size="5.5" fill="#000" stroke="#000" stroke-width="0.1">20Q3</text>
<text transform="translate(273.15,98.30) rotate(-59) scale(0.96,1)" text-anchor="middle" y="1.95" font-size="5.5" fill="#000" stroke="#000" stroke-width="0.1">21Q1</text>
<text transform="translate(288.51,98.30) rotate(-59) scale(0.96,1)" text-anchor="middle" y="1.95" font-size="5.5" fill="#000" stroke="#000" stroke-width="0.1">21Q3</text>
<text transform="translate(303.87,98.30) rotate(-59) scale(0.96,1)" text-anchor="middle" y="1.95" font-size="5.5" fill="#000" stroke="#000" stroke-width="0.1">22Q1</text>
<text transform="translate(319.23,98.30) rotate(-59) scale(0.96,1)" text-anchor="middle" y="1.95" font-size="5.5" fill="#000" stroke="#000" stroke-width="0.1">22Q3</text>
</g>
<g>
<line x1="362.60" x2="509.10" y1="88.60" y2="88.60" stroke="#e6e6e6" stroke-width="0.6"/>
<line x1="372.00" x2="372.00" y1="15.80" y2="88.60" stroke="#efefef" stroke-width="0.6"/>
<line x1="432.80" x2="432.80" y1="15.80" y2="88.60" stroke="#efefef" stroke-width="0.6"/>
<rect x="418.60" y="15.80" width="89.50" height="72.80" fill="#FF9128"/>
<rect x="484.05" y="15.80" width="25.05" height="72.80" fill="#8CFC1E"/>
<line x1="432.80" x2="432.80" y1="15.80" y2="88.60" stroke="#fff" stroke-opacity="0.38" stroke-width="0.6"/>
<polyline points="362.60,51.21 362.69,56.76 362.77,54.34 362.86,53.08 362.94,51.30 363.03,50.85 363.12,49.65 363.20,51.13 363.29,53.10 363.38,53.14 363.46,52.62 363.55,51.18 363.63,52.30 363.72,50.56 363.81,56.48 363.89,53.28 363.98,55.68 364.07,53.36 364.15,50.00 364.24,52.30 364.32,52.55 364.41,51.06 364.50,52.78 364.58,50.74 364.67,55.99 364.76,52.17 364.84,50.14 364.93,55.86 365.01,47.88 365.10,53.19 365.19,48.24 365.27,48.15 365.36,48.12 365.45,50.25 365.53,43.10 365.62,55.60 365.70,50.66 365.79,56.25 365.88,51.40 365.96,51.66 366.05,52.80 366.14,52.24 366.22,54.84 366.31,48.53 366.39,52.50 366.48,48.83 366.57,46.29 366.65,57.80 366.74,48.54 366.83,54.39 366.91,54.82 367.00,50.27 367.08,55.12 367.17,45.61 367.26,52.68 367.34,46.91 367.43,51.31 367.51,51.29 367.60,46.72 367.69,49.61 367.77,50.01 367.86,49.10 367.95,53.71 368.03,55.49 368.12,47.06 368.20,53.72 368.29,52.18 368.38,55.48 368.46,49.95 368.55,57.34 368.64,52.16 368.72,49.88 368.81,49.49 368.89,50.67 368.98,52.95 369.07,50.86 369.15,60.17 369.24,50.50 369.33,48.93 369.41,52.18 369.50,49.36 369.58,51.26 369.67,52.53 369.76,51.48 369.84,52.26 369.93,52.38 370.02,52.44 370.10,56.32 370.19,52.95 370.27,52.09 370.36,50.33 370.45,53.21 370.53,52.40 370.62,50.84 370.71,52.80 370.79,52.19 370.88,53.27 370.96,53.22 371.05,53.98 371.14,55.94 371.22,50.75 371.31,52.60 371.40,67.22 371.48,55.04 371.57,53.96 371.65,53.36 371.74,57.77 371.83,50.58 371.91,52.97 372.00,55.13 372.08,30.36 372.17,53.15 372.26,56.34 372.34,53.58 372.43,49.62 372.52,54.45 372.60,50.55 372.69,53.66 372.77,53.27 372.86,53.45 372.95,51.30 373.03,52.93 373.12,50.95 373.21,53.59 373.29,55.29 373.38,49.33 373.46,52.37 373.55,59.10 373.64,51.99 373.72,53.33 373.81,49.53 373.90,52.26 373.98,48.53 374.07,50.12 374.15,56.94 374.24,47.50 374.33,50.98 374.41,50.75 374.50,47.66 374.59,53.84 374.67,52.31 374.76,54.85 374.84,49.20 374.93,50.04 375.02,49.82 375.10,56.15 375.19,57.18 375.28,51.31 375.36,47.74 375.45,50.52 375.53,52.17 375.62,52.10 375.71,55.14 375.79,49.74 375.88,52.79 375.97,53.19 376.05,52.49 376.14,53.84 376.22,55.28 376.31,53.69 376.40,51.62 376.48,53.84 376.57,53.50 376.66,49.34 376.74,49.55 376.83,52.25 376.91,51.68 377.00,45.48 377.09,58.10 377.17,44.62 377.26,50.48 377.34,53.06 377.43,53.61 377.52,54.48 377.60,59.19 377.69,52.84 377.78,48.76 377.86,50.24 377.95,52.21 378.03,48.53 378.12,53.69 378.21,51.99 378.29,52.46 378.38,49.79 378.47,54.83 378.55,53.68 378.64,48.89 378.72,52.74 378.81,50.61 378.90,51.41 378.98,50.58 379.07,56.52 379.16,55.51 379.24,57.12 379.33,52.48 379.41,57.04 379.50,50.86 379.59,54.97 379.67,54.75 379.76,51.68 379.85,49.13 379.93,51.68 380.02,53.29 380.10,49.60 380.19,52.95 380.28,51.41 380.36,54.26 380.45,53.38 380.54,51.05 380.62,54.29 380.71,51.80 380.79,54.93 380.88,51.31 380.97,55.91 381.05,52.08 381.14,50.69 381.23,56.06 381.31,53.50 381.40,54.38 381.48,52.63 381.57,50.29 381.66,44.51 381.74,55.65 381.83,44.97 381.91,52.96 382.00,52.67 382.09,51.73 382.17,49.77 382.26,54.32 382.35,43.09 382.43,52.38 382.52,50.61 382.60,54.08 382.69,53.81 382.78,54.79 382.86,50.67 382.95,45.23 383.04,49.22 383.12,62.21 383.21,47.42 383.29,54.96 383.38,52.10 383.47,49.26 383.55,54.19 383.64,50.38 383.73,47.78 383.81,63.75 383.90,57.48 383.98,52.64 384.07,52.34 384.16,51.28 384.24,50.14 384.33,51.09 384.42,50.06 384.50,51.07 384.59,54.63 384.67,50.83 384.76,49.76 384.85,53.87 384.93,54.46 385.02,51.43 385.11,51.56 385.19,47.90 385.28,54.74 385.36,54.73 385.45,53.66 385.54,48.96 385.62,50.59 385.71,47.87 385.80,55.21 385.88,53.92 385.97,52.51 386.05,49.95 386.14,54.59 386.23,51.96 386.31,52.19 386.40,52.76 386.48,51.44 386.57,50.65 386.66,50.08 386.74,53.54 386.83,50.23 386.92,50.75 387.00,51.57 387.09,53.86 387.17,50.88 387.26,53.47 387.35,52.99 387.43,50.17 387.52,54.83 387.61,51.30 387.69,50.88 387.78,52.78 387.86,51.69 387.95,50.99 388.04,53.87 388.12,54.81 388.21,52.30 388.30,48.97 388.38,53.49 388.47,51.17 388.55,53.24 388.64,51.05 388.73,49.26 388.81,53.07 388.90,52.48 388.99,53.14 389.07,48.38 389.16,53.03 389.24,53.60 389.33,53.50 389.42,53.81 389.50,53.56 389.59,50.60 389.68,52.77 389.76,55.64 389.85,50.60 389.93,50.80 390.02,50.13 390.11,52.00 390.19,52.35 390.28,50.90 390.37,48.53 390.45,52.40 390.54,52.16 390.62,50.79 390.71,48.44 390.80,51.59 390.88,51.24 390.97,54.43 391.05,52.85 391.14,53.31 391.23,53.87 391.31,55.06 391.40,50.30 391.49,50.34 391.57,51.81 391.66,52.90 391.74,52.53 391.83,51.13 391.92,39.46 392.00,47.14 392.09,52.58 392.18,53.73 392.26,52.30 392.35,52.47 392.43,51.08 392.52,51.17 392.61,53.27 392.69,51.97 392.78,52.87 392.87,49.38 392.95,55.49 393.04,51.58 393.12,52.02 393.21,54.01 393.30,53.55 393.38,54.94 393.47,47.31 393.56,48.99 393.64,49.89 393.73,51.01 393.81,56.28 393.90,49.56 393.99,51.53 394.07,52.54 394.16,52.86 394.25,50.72 394.33,52.31 394.42,51.32 394.50,53.68 394.59,51.83 394.68,53.19 394.76,51.69 394.85,42.19 394.94,50.10 395.02,52.70 395.11,51.93 395.19,50.90 395.28,52.84 395.37,51.72 395.45,54.62 395.54,53.42 395.63,50.66 395.71,52.73 395.80,52.54 395.88,52.68 395.97,52.26 396.06,52.99 396.14,49.06 396.23,50.92 396.31,52.61 396.40,51.62 396.49,53.84 396.57,53.67 396.66,51.07 396.75,51.33 396.83,51.79 396.92,52.20 397.00,51.66 397.09,52.44 397.18,52.88 397.26,50.25 397.35,52.84 397.44,51.22 397.52,52.17 397.61,52.37 397.69,52.72 397.78,51.21 397.87,52.49 397.95,51.77 398.04,52.07 398.13,54.07 398.21,54.40 398.30,50.25 398.38,52.76 398.47,51.12 398.56,52.52 398.64,51.20 398.73,52.23 398.82,51.55 398.90,51.45 398.99,50.36 399.07,49.92 399.16,48.63 399.25,54.84 399.33,49.98 399.42,54.64 399.51,52.93 399.59,52.95 399.68,50.04 399.76,50.01 399.85,52.02 399.94,49.90 400.02,51.87 400.11,48.97 400.20,53.20 400.28,51.59 400.37,52.51 400.45,53.40 400.54,50.84 400.63,50.30 400.71,59.03 400.80,51.71 400.88,51.47 400.97,49.66 401.06,52.82 401.14,50.22 401.23,50.02 401.32,49.35 401.40,52.27 401.49,53.78 401.57,51.56 401.66,56.59 401.75,53.96 401.83,53.24 401.92,51.53 402.01,51.26 402.09,53.27 402.18,49.19 402.26,51.32 402.35,53.97 402.44,54.32 402.52,51.83 402.61,51.09 402.70,52.48 402.78,52.14 402.87,53.60 402.95,56.09 403.04,53.67 403.13,51.23 403.21,51.23 403.30,52.72 403.39,51.11 403.47,49.14 403.56,46.72 403.64,50.92 403.73,47.38 403.82,52.88 403.90,51.80 403.99,50.87 404.08,54.56 404.16,53.48 404.25,54.33 404.33,50.04 404.42,51.32 404.51,52.04 404.59,51.48 404.68,52.55 404.77,52.79 404.85,53.20 404.94,49.79 405.02,52.12 405.11,51.58 405.20,54.03 405.28,52.88 405.37,53.21 405.45,51.65 405.54,51.42 405.63,52.93 405.71,51.94 405.80,52.08 405.89,54.30 405.97,53.24 406.06,51.64 406.14,49.76 406.23,52.99 406.32,53.65 406.40,50.84 406.49,52.10 406.58,50.27 406.66,52.67 406.75,50.19 406.83,51.10 406.92,53.22 407.01,51.10 407.09,51.85 407.18,51.82 407.27,50.34 407.35,54.61 407.44,53.70 407.52,50.35 407.61,53.49 407.70,52.29 407.78,53.34 407.87,50.86 407.96,53.92 408.04,50.53 408.13,51.26 408.21,51.98 408.30,50.56 408.39,51.54 408.47,53.11 408.56,52.27 408.65,50.34 408.73,49.29 408.82,52.82 408.90,52.32 408.99,53.71 409.08,54.63 409.16,55.27 409.25,52.49 409.34,53.19 409.42,49.30 409.51,51.58 409.59,50.79 409.68,53.65 409.77,49.50 409.85,52.46 409.94,51.83 410.02,51.48 410.11,53.33 410.20,52.24 410.28,51.19 410.37,53.20 410.46,50.79 410.54,50.05 410.63,54.08 410.71,49.81 410.80,54.04 410.89,51.87 410.97,52.05 411.06,50.02 411.15,51.41 411.23,50.96 411.32,50.14 411.40,51.42 411.49,52.43 411.58,52.62 411.66,55.45 411.75,53.48 411.84,52.36 411.92,48.46 412.01,48.64 412.09,52.35 412.18,52.26 412.27,52.93 412.35,55.71 412.44,52.71 412.53,51.82 412.61,53.55 412.70,52.28 412.78,54.06 412.87,50.87 412.96,52.97 413.04,50.00 413.13,50.92 413.22,51.11 413.30,50.85 413.39,52.49 413.47,53.16 413.56,52.59 413.65,52.79 413.73,51.45 413.82,50.81 413.91,51.63 413.99,51.41 414.08,51.69 414.16,53.66 414.25,52.48 414.34,52.25 414.42,51.73 414.51,51.60 414.59,52.98 414.68,52.08 414.77,50.57 414.85,51.07 414.94,53.44 415.03,51.28 415.11,51.27 415.20,51.95 415.28,51.45 415.37,50.37 415.46,51.54 415.54,52.57 415.63,52.03 415.72,51.38 415.80,52.63 415.89,51.19 415.97,50.62 416.06,53.14 416.15,53.65 416.23,52.86 416.32,50.73 416.41,52.51 416.49,51.62 416.58,52.23 416.66,53.66 416.75,52.82 416.84,52.44 416.92,51.80 417.01,51.41 417.10,53.52 417.18,51.87 417.27,53.05 417.35,51.95 417.44,53.65 417.53,53.10 417.61,50.66 417.70,52.31 417.79,52.05 417.87,52.96 417.96,50.70 418.04,52.81 418.13,53.35 418.22,51.90 418.30,49.82 418.39,52.79 418.48,52.51 418.56,54.00 418.65,52.77 418.73,51.18 418.82,54.36 418.91,49.22 418.99,50.58 419.08,53.64 419.17,52.64 419.25,51.10 419.34,51.99 419.42,50.26 419.51,52.29 419.60,54.33 419.68,51.69 419.77,50.88 419.85,51.90 419.94,53.10 420.03,49.63 420.11,51.40 420.20,53.03 420.29,49.89 420.37,50.25 420.46,51.60 420.54,55.18 420.63,55.11 420.72,50.09 420.80,54.45 420.89,49.53 420.98,53.03 421.06,47.98 421.15,52.83 421.23,52.82 421.32,53.36 421.41,52.74 421.49,52.99 421.58,51.77 421.67,51.79 421.75,52.34 421.84,51.01 421.92,44.01 422.01,50.37 422.10,50.67 422.18,50.75 422.27,53.07 422.36,52.37 422.44,55.25 422.53,52.37 422.61,53.26 422.70,65.85 422.79,52.56 422.87,52.96 422.96,52.37 423.05,52.94 423.13,53.33 423.22,49.69 423.30,52.67 423.39,83.14 423.48,51.14 423.56,51.01 423.65,49.31 423.74,52.62 423.82,52.61 423.91,52.06 423.99,50.63 424.08,53.21 424.17,49.94 424.25,50.62 424.34,54.30 424.42,52.23 424.51,51.03 424.60,49.54 424.68,51.40 424.77,53.04 424.86,54.18 424.94,54.46 425.03,49.62 425.11,54.62 425.20,51.75 425.29,51.88 425.37,50.99 425.46,52.72 425.55,52.17 425.63,53.40 425.72,54.38 425.80,53.39 425.89,54.45 425.98,50.29 426.06,51.18 426.15,54.81 426.24,52.68 426.32,50.89 426.41,53.39 426.49,55.69 426.58,52.61 426.67,52.45 426.75,52.83 426.84,51.47 426.93,52.37 427.01,52.39 427.10,52.70 427.18,51.78 427.27,50.75 427.36,51.34 427.44,56.31 427.53,52.28 427.62,52.49 427.70,53.86 427.79,50.97 427.87,52.85 427.96,51.02 428.05,53.05 428.13,51.21 428.22,53.23 428.31,52.61 428.39,52.94 428.48,53.59 428.56,53.01 428.65,53.13 428.74,56.05 428.82,52.92 428.91,51.19 428.99,52.59 429.08,51.52 429.17,54.11 429.25,51.50 429.34,52.77 429.43,48.59 429.51,52.80 429.60,52.96 429.68,55.87 429.77,50.59 429.86,48.44 429.94,55.40 430.03,56.85 430.12,55.45 430.20,51.97 430.29,54.59 430.37,49.51 430.46,48.50 430.55,54.63 430.63,54.30 430.72,49.85 430.81,52.68 430.89,49.85 430.98,52.28 431.06,58.68 431.15,56.04 431.24,52.74 431.32,53.92 431.41,53.16 431.50,51.37 431.58,53.05 431.67,51.25 431.75,50.05 431.84,52.03 431.93,53.30 432.01,54.34 432.10,53.00 432.19,51.47 432.27,52.49 432.36,49.82 432.44,56.08 432.53,53.85 432.62,50.51 432.70,54.14 432.79,54.14 432.88,49.92 432.96,52.12 433.05,52.53 433.13,52.86 433.22,55.03 433.31,49.68 433.39,50.06 433.48,47.04 433.56,51.38 433.65,52.41 433.74,53.17 433.82,50.62 433.91,53.79 434.00,52.94 434.08,50.41 434.17,51.15 434.25,53.24 434.34,51.06 434.43,48.15 434.51,52.94 434.60,52.61 434.69,52.68 434.77,48.40 434.86,51.30 434.94,54.19 435.03,51.41 435.12,52.90 435.20,53.84 435.29,50.17 435.38,53.39 435.46,48.80 435.55,55.34 435.63,53.82 435.72,53.09 435.81,53.35 435.89,61.30 435.98,51.39 436.07,51.82 436.15,50.36 436.24,54.38 436.32,50.22 436.41,51.56 436.50,48.71 436.58,50.23 436.67,46.33 436.76,53.34 436.84,47.81 436.93,52.85 437.01,49.06 437.10,50.48 437.19,55.73 437.27,48.24 437.36,50.09 437.45,57.09 437.53,47.24 437.62,56.86 437.70,48.50 437.79,53.31 437.88,51.67 437.96,54.51 438.05,51.47 438.14,50.71 438.22,50.78 438.31,51.84 438.39,52.84 438.48,52.05 438.57,53.22 438.65,54.46 438.74,54.63 438.82,48.74 438.91,54.23 439.00,51.92 439.08,51.49 439.17,51.97 439.26,53.81 439.34,50.13 439.43,53.38 439.51,50.08 439.60,53.07 439.69,54.81 439.77,51.54 439.86,53.91 439.95,49.06 440.03,52.37 440.12,53.18 440.20,51.21 440.29,49.81 440.38,53.74 440.46,51.00 440.55,53.28 440.64,51.79 440.72,53.11 440.81,53.93 440.89,52.35 440.98,52.99 441.07,53.86 441.15,52.86 441.24,54.20 441.33,54.61 441.41,57.73 441.50,55.27 441.58,49.47 441.67,50.57 441.76,47.52 441.84,54.22 441.93,50.66 442.02,52.75 442.10,50.61 442.19,53.53 442.27,48.93 442.36,48.27 442.45,62.85 442.53,45.82 442.62,46.59 442.71,56.70 442.79,51.32 442.88,55.82 442.96,52.60 443.05,49.94 443.14,51.76 443.22,53.19 443.31,51.95 443.39,47.04 443.48,55.24 443.57,50.39 443.65,50.35 443.74,50.70 443.83,51.58 443.91,53.28 444.00,52.45 444.08,55.55 444.17,55.79 444.26,50.96 444.34,51.94 444.43,58.14 444.52,52.38 444.60,51.18 444.69,51.04 444.77,54.74 444.86,54.56 444.95,52.19 445.03,51.94 445.12,49.69 445.21,52.27 445.29,53.35 445.38,52.08 445.46,52.91 445.55,50.33 445.64,52.87 445.72,50.96 445.81,50.42 445.90,57.25 445.98,50.35 446.07,54.15 446.15,52.53 446.24,47.79 446.33,52.92 446.41,51.91 446.50,55.72 446.59,50.19 446.67,54.66 446.76,53.38 446.84,50.39 446.93,47.88 447.02,52.05 447.10,46.71 447.19,50.70 447.28,52.92 447.36,49.08 447.45,53.23 447.53,36.27 447.62,51.08 447.71,53.39 447.79,49.62 447.88,52.41 447.96,49.92 448.05,53.67 448.14,50.36 448.22,61.21 448.31,54.99 448.40,49.18 448.48,52.58 448.57,49.90 448.65,54.79 448.74,51.12 448.83,49.73 448.91,53.13 449.00,58.81 449.09,52.32 449.17,55.69 449.26,53.81 449.34,52.21 449.43,53.78 449.52,51.59 449.60,57.06 449.69,53.00 449.78,50.32 449.86,51.92 449.95,50.04 450.03,54.88 450.12,53.05 450.21,53.38 450.29,52.31 450.38,50.40 450.47,65.85 450.55,50.07 450.64,49.05 450.72,48.38 450.81,50.36 450.90,49.62 450.98,54.48 451.07,51.52 451.16,51.81 451.24,48.54 451.33,51.58 451.41,51.32 451.50,50.97 451.59,51.55 451.67,52.21 451.76,53.90 451.85,52.09 451.93,55.12 452.02,54.15 452.10,49.70 452.19,54.77 452.28,56.51 452.36,50.25 452.45,54.60 452.53,51.37 452.62,53.83 452.71,51.98 452.79,55.57 452.88,56.05 452.97,53.81 453.05,46.48 453.14,50.09 453.22,54.34 453.31,51.37 453.40,51.94 453.48,54.91 453.57,52.37 453.66,49.93 453.74,54.41 453.83,48.91 453.91,55.40 454.00,56.53 454.09,54.29 454.17,31.73 454.26,53.36 454.35,54.43 454.43,51.57 454.52,52.50 454.60,52.83 454.69,52.66 454.78,49.73 454.86,63.58 454.95,54.05 455.04,50.51 455.12,53.80 455.21,51.07 455.29,51.36 455.38,55.53 455.47,45.91 455.55,49.97 455.64,51.76 455.73,52.36 455.81,50.30 455.90,50.40 455.98,52.65 456.07,50.09 456.16,52.62 456.24,54.91 456.33,50.45 456.42,54.05 456.50,53.58 456.59,52.07 456.67,54.35 456.76,52.12 456.85,51.15 456.93,52.77 457.02,51.41 457.11,53.18 457.19,51.12 457.28,50.38 457.36,50.84 457.45,52.13 457.54,54.10 457.62,52.93 457.71,52.01 457.79,54.01 457.88,53.43 457.97,51.61 458.05,51.58 458.14,55.56 458.23,51.25 458.31,52.41 458.40,52.62 458.48,52.86 458.57,51.47 458.66,54.43 458.74,50.90 458.83,49.97 458.92,53.67 459.00,52.69 459.09,53.60 459.17,52.22 459.26,69.49 459.35,50.97 459.43,49.68 459.52,54.49 459.61,49.73 459.69,55.76 459.78,56.69 459.86,49.30 459.95,49.95 460.04,54.50 460.12,57.13 460.21,54.98 460.30,51.18 460.38,48.13 460.47,53.00 460.55,52.34 460.64,50.36 460.73,54.27 460.81,52.31 460.90,54.35 460.99,50.55 461.07,51.42 461.16,52.13 461.24,49.80 461.33,53.40 461.42,50.49 461.50,54.08 461.59,52.82 461.68,49.97 461.76,48.80 461.85,50.95 461.93,48.90 462.02,53.37 462.11,55.00 462.19,68.58 462.28,51.37 462.36,50.50 462.45,48.63 462.54,49.08 462.62,53.07 462.71,56.24 462.80,54.32 462.88,49.62 462.97,51.44 463.05,52.19 463.14,52.31 463.23,54.73 463.31,49.58 463.40,52.10 463.49,50.59 463.57,55.32 463.66,50.93 463.74,51.32 463.83,52.73 463.92,50.78 464.00,53.77 464.09,51.38 464.18,50.80 464.26,52.20 464.35,52.91 464.43,50.82 464.52,52.04 464.61,51.76 464.69,50.48 464.78,50.46 464.87,54.67 464.95,52.30 465.04,52.37 465.12,40.83 465.21,47.59 465.30,49.90 465.38,51.30 465.47,55.69 465.56,53.67 465.64,56.95 465.73,51.26 465.81,52.85 465.90,53.85 465.99,51.35 466.07,57.33 466.16,51.42 466.25,53.18 466.33,54.45 466.42,51.47 466.50,53.12 466.59,53.14 466.68,52.25 466.76,56.34 466.85,51.97 466.93,51.04 467.02,51.10 467.11,51.96 467.19,51.52 467.28,51.80 467.37,54.13 467.45,52.76 467.54,55.74 467.62,50.86 467.71,52.91 467.80,52.74 467.88,53.52 467.97,53.03 468.06,53.58 468.14,53.26 468.23,51.66 468.31,51.33 468.40,50.92 468.49,48.75 468.57,51.80 468.66,54.22 468.75,51.04 468.83,50.12 468.92,56.62 469.00,51.33 469.09,56.15 469.18,56.84 469.26,55.02 469.35,49.54 469.44,54.22 469.52,48.54 469.61,51.91 469.69,54.26 469.78,51.36 469.87,52.53 469.95,51.21 470.04,50.97 470.13,51.43 470.21,54.33 470.30,53.69 470.38,51.67 470.47,48.72 470.56,56.45 470.64,52.04 470.73,49.25 470.82,50.42 470.90,51.25 470.99,52.69 471.07,55.54 471.16,49.25 471.25,50.86 471.33,51.76 471.42,52.17 471.50,54.37 471.59,52.96 471.68,50.67 471.76,55.38 471.85,52.15 471.94,53.91 472.02,52.89 472.11,58.61 472.19,50.91 472.28,48.15 472.37,56.10 472.45,55.00 472.54,50.05 472.63,43.30 472.71,51.65 472.80,49.59 472.88,54.93 472.97,52.33 473.06,50.72 473.14,50.73 473.23,48.05 473.32,50.63 473.40,53.31 473.49,16.71 473.57,54.15 473.66,55.20 473.75,54.13 473.83,51.37 473.92,38.55 474.01,50.58 474.09,51.08 474.18,49.73 474.26,54.07 474.35,51.16 474.44,51.72 474.52,50.21 474.61,52.65 474.70,51.91 474.78,49.40 474.87,51.18 474.95,55.54 475.04,57.82 475.13,54.67 475.21,54.98 475.30,53.16 475.39,50.08 475.47,51.07 475.56,56.42 475.64,51.53 475.73,55.45 475.82,53.18 475.90,47.81 475.99,53.61 476.07,54.15 476.16,51.58 476.25,49.85 476.33,53.30 476.42,54.97 476.51,57.99 476.59,52.78 476.68,51.52 476.76,51.84 476.85,51.23 476.94,50.17 477.02,55.58 477.11,50.19 477.20,50.08 477.28,52.96 477.37,50.82 477.45,50.94 477.54,54.40 477.63,52.52 477.71,56.18 477.80,51.53 477.89,53.21 477.97,57.44 478.06,48.84 478.14,55.79 478.23,49.75 478.32,50.10 478.40,56.69 478.49,50.45 478.58,52.88 478.66,48.43 478.75,54.58 478.83,51.41 478.92,54.75 479.01,52.16 479.09,53.38 479.18,50.00 479.27,52.09 479.35,51.06 479.44,52.59 479.52,51.75 479.61,53.42 479.70,53.76 479.78,42.19 479.87,54.93 479.96,51.98 480.04,49.80 480.13,53.27 480.21,50.94 480.30,55.23 480.39,50.73 480.47,50.55 480.56,50.26 480.65,52.02 480.73,53.30 480.82,52.76 480.90,52.10 480.99,52.89 481.08,51.52 481.16,54.35 481.25,48.82 481.33,53.99 481.42,56.40 481.51,51.51 481.59,52.00 481.68,57.23 481.77,54.32 481.85,53.38 481.94,52.71 482.02,51.31 482.11,50.25 482.20,45.94 482.28,53.95 482.37,60.49 482.46,52.34 482.54,47.50 482.63,47.15 482.71,61.30 482.80,50.99 482.89,53.06 482.97,53.27 483.06,48.89 483.15,53.65 483.23,50.69 483.32,54.70 483.40,51.29 483.49,52.05 483.58,49.69 483.66,51.35 483.75,51.56 483.84,51.65 483.92,54.03 484.01,52.93 484.09,53.96 484.18,53.62 484.27,55.47 484.35,50.28 484.44,53.47 484.53,46.97 484.61,50.04 484.70,50.09 484.78,55.98 484.87,54.94 484.96,55.69 485.04,53.71 485.13,46.41 485.22,52.75 485.30,49.56 485.39,48.65 485.47,51.76 485.56,52.27 485.65,52.34 485.73,49.66 485.82,50.84 485.90,50.91 485.99,54.89 486.08,52.69 486.16,53.70 486.25,53.52 486.34,54.04 486.42,51.64 486.51,50.39 486.59,50.08 486.68,53.86 486.77,51.96 486.85,52.86 486.94,52.93 487.03,52.44 487.11,52.57 487.20,51.14 487.28,50.84 487.37,53.21 487.46,51.95 487.54,50.63 487.63,56.01 487.72,56.21 487.80,55.41 487.89,53.01 487.97,53.16 488.06,51.87 488.15,51.20 488.23,51.50 488.32,50.45 488.41,50.07 488.49,53.08 488.58,52.06 488.66,55.48 488.75,47.78 488.84,54.87 488.92,49.33 489.01,51.48 489.10,53.98 489.18,51.60 489.27,52.94 489.35,68.12 489.44,45.45 489.53,52.78 489.61,52.02 489.70,53.22 489.79,53.32 489.87,49.49 489.96,52.01 490.04,36.27 490.13,52.32 490.22,50.20 490.30,53.99 490.39,48.66 490.47,55.55 490.56,50.33 490.65,53.20 490.73,52.49 490.82,52.85 490.91,52.07 490.99,56.55 491.08,52.46 491.16,53.10 491.25,50.22 491.34,51.73 491.42,53.81 491.51,61.30 491.60,52.90 491.68,51.32 491.77,52.32 491.85,50.56 491.94,51.16 492.03,52.46 492.11,52.27 492.20,52.54 492.29,52.62 492.37,51.70 492.46,52.45 492.54,46.56 492.63,50.44 492.72,52.56 492.80,50.73 492.89,52.33 492.98,50.87 493.06,53.74 493.15,53.89 493.23,50.48 493.32,54.01 493.41,52.87 493.49,52.34 493.58,53.22 493.67,49.28 493.75,50.90 493.84,54.76 493.92,51.18 494.01,51.92 494.10,50.80 494.18,51.33 494.27,50.71 494.36,49.32 494.44,54.54 494.53,51.42 494.61,50.13 494.70,52.79 494.79,53.55 494.87,53.12 494.96,49.77 495.04,54.59 495.13,51.55 495.22,52.83 495.30,52.37 495.39,55.14 495.48,51.34 495.56,51.56 495.65,53.37 495.73,54.05 495.82,49.49 495.91,54.43 495.99,51.38 496.08,52.12 496.17,53.61 496.25,52.75 496.34,52.67 496.42,49.45 496.51,52.50 496.60,54.81 496.68,51.46 496.77,53.24 496.86,52.01 496.94,54.38 497.03,49.69 497.11,56.08 497.20,52.84 497.29,52.13 497.37,55.61 497.46,53.56 497.55,57.56 497.63,55.03 497.72,56.29 497.80,53.00 497.89,52.40 497.98,52.59 498.06,53.49 498.15,56.49 498.24,55.44 498.32,50.66 498.41,56.40 498.49,52.47 498.58,51.28 498.67,51.40 498.75,50.27 498.84,59.03 498.93,54.25 499.01,49.55 499.10,53.83 499.18,55.05 499.27,51.70 499.36,53.40 499.44,49.94 499.53,51.67 499.62,52.64 499.70,53.09 499.79,49.89 499.87,52.26 499.96,54.76 500.05,54.51 500.13,50.16 500.22,52.96 500.30,53.65 500.39,51.26 500.48,51.82 500.56,52.01 500.65,47.95 500.74,52.75 500.82,53.63 500.91,53.84 500.99,53.43 501.08,51.72 501.17,53.48 501.25,49.57 501.34,52.93 501.43,51.99 501.51,51.48 501.60,51.99 501.68,52.49 501.77,51.22 501.86,51.82 501.94,54.78 502.03,50.01 502.12,53.03 502.20,52.69 502.29,51.12 502.37,50.26 502.46,52.70 502.55,53.94 502.63,50.97 502.72,52.56 502.81,53.46 502.89,51.73 502.98,49.99 503.06,53.03 503.15,52.32 503.24,54.21 503.32,54.90 503.41,49.55 503.50,53.40 503.58,53.43 503.67,51.93 503.75,54.33 503.84,52.72 503.93,50.82 504.01,53.92 504.10,51.30 504.19,52.38 504.27,50.07 504.36,51.65 504.44,54.64 504.53,53.06 504.62,51.75 504.70,45.83 504.79,50.25 504.87,54.69 504.96,53.07 505.05,51.36 505.13,51.51 505.22,52.44 505.31,53.67 505.39,56.24 505.48,50.26 505.56,53.57 505.65,52.50 505.74,50.71 505.82,51.44 505.91,54.55 506.00,51.18 506.08,50.44 506.17,52.26 506.25,54.13 506.34,52.11 506.43,52.08 506.51,53.95 506.60,52.16 506.69,52.67 506.77,51.56 506.86,52.84 506.94,51.42 507.03,51.08 507.12,49.98 507.20,53.46 507.29,53.47 507.38,51.07 507.46,54.60 507.55,48.56 507.63,50.52 507.72,50.83 507.81,53.34 507.89,52.61 507.98,52.60 508.07,52.13 508.15,53.06 508.24,52.78 508.32,50.83 508.41,53.07 508.50,52.41 508.58,54.77 508.67,54.04 508.76,51.97 508.84,51.87 508.93,51.76 509.01,50.14 509.10,52.35" fill="none" stroke="#3566B2" stroke-width="0.72" stroke-linejoin="round"/>
<text transform="translate(426.25,4.60) rotate(0.03)" textLength="19.20" lengthAdjust="spacingAndGlyphs" font-size="6.7" fill="#15171c" stroke="#15171c" stroke-width="0.2">MANA</text>
<text transform="translate(360.00,17.23) rotate(0.03) scale(0.88,1)" text-anchor="end" font-size="6.1" fill="#111" stroke="#111" stroke-width="0.24">80</text>
<text transform="translate(360.00,35.43) rotate(0.03) scale(0.88,1)" text-anchor="end" font-size="6.1" fill="#111" stroke="#111" stroke-width="0.24">40</text>
<text transform="translate(360.00,53.63) rotate(0.03) scale(0.88,1)" text-anchor="end" font-size="6.1" fill="#111" stroke="#111" stroke-width="0.24">0</text>
<text transform="translate(360.00,71.83) rotate(0.03) scale(0.88,1)" text-anchor="end" font-size="6.1" fill="#111" stroke="#111" stroke-width="0.24">-40</text>
<text transform="translate(360.00,90.03) rotate(0.03) scale(0.88,1)" text-anchor="end" font-size="6.1" fill="#111" stroke="#111" stroke-width="0.24">-80</text>
<text transform="translate(372.15,98.30) rotate(-59) scale(0.96,1)" text-anchor="middle" y="1.95" font-size="5.5" fill="#000" stroke="#000" stroke-width="0.1">18Q3</text>
<text transform="translate(387.51,98.30) rotate(-59) scale(0.96,1)" text-anchor="middle" y="1.95" font-size="5.5" fill="#000" stroke="#000" stroke-width="0.1">19Q1</text>
<text transform="translate(402.87,98.30) rotate(-59) scale(0.96,1)" text-anchor="middle" y="1.95" font-size="5.5" fill="#000" stroke="#000" stroke-width="0.1">19Q3</text>
<text transform="translate(418.23,98.30) rotate(-59) scale(0.96,1)" text-anchor="middle" y="1.95" font-size="5.5" fill="#000" stroke="#000" stroke-width="0.1">20Q1</text>
<text transform="translate(433.59,98.30) rotate(-59) scale(0.96,1)" text-anchor="middle" y="1.95" font-size="5.5" fill="#000" stroke="#000" stroke-width="0.1">20Q3</text>
<text transform="translate(448.95,98.30) rotate(-59) scale(0.96,1)" text-anchor="middle" y="1.95" font-size="5.5" fill="#000" stroke="#000" stroke-width="0.1">21Q1</text>
<text transform="translate(464.31,98.30) rotate(-59) scale(0.96,1)" text-anchor="middle" y="1.95" font-size="5.5" fill="#000" stroke="#000" stroke-width="0.1">21Q3</text>
<text transform="translate(479.67,98.30) rotate(-59) scale(0.96,1)" text-anchor="middle" y="1.95" font-size="5.5" fill="#000" stroke="#000" stroke-width="0.1">22Q1</text>
<text transform="translate(495.03,98.30) rotate(-59) scale(0.96,1)" text-anchor="middle" y="1.95" font-size="5.5" fill="#000" stroke="#000" stroke-width="0.1">22Q3</text>
</g>
<g>
<line x1="538.40" x2="684.90" y1="88.60" y2="88.60" stroke="#e6e6e6" stroke-width="0.6"/>
<line x1="547.80" x2="547.80" y1="15.80" y2="88.60" stroke="#efefef" stroke-width="0.6"/>
<line x1="608.60" x2="608.60" y1="15.80" y2="88.60" stroke="#efefef" stroke-width="0.6"/>
<rect x="594.40" y="15.80" width="89.50" height="72.80" fill="#FF9128"/>
<rect x="659.85" y="15.80" width="25.05" height="72.80" fill="#8CFC1E"/>
<line x1="608.60" x2="608.60" y1="15.80" y2="88.60" stroke="#fff" stroke-opacity="0.38" stroke-width="0.6"/>
<polyline points="538.40,51.36 538.49,52.88 538.57,50.61 538.66,50.86 538.74,50.87 538.83,50.98 538.92,51.25 539.00,56.68 539.09,51.67 539.18,56.33 539.26,50.02 539.35,53.69 539.43,53.26 539.52,49.79 539.61,51.08 539.69,54.09 539.78,52.79 539.87,53.96 539.95,58.57 540.04,54.25 540.12,51.71 540.21,52.57 540.30,53.77 540.38,52.61 540.47,53.50 540.56,54.35 540.64,53.19 540.73,57.32 540.81,52.85 540.90,51.71 540.99,54.28 541.07,52.12 541.16,50.66 541.25,54.95 541.33,61.30 541.42,54.16 541.50,51.18 541.59,52.21 541.68,50.09 541.76,53.48 541.85,52.56 541.94,54.80 542.02,49.05 542.11,51.52 542.19,50.27 542.28,53.79 542.37,54.55 542.45,52.70 542.54,51.79 542.63,51.37 542.71,49.55 542.80,52.28 542.88,51.12 542.97,44.89 543.06,53.85 543.14,56.22 543.23,52.72 543.31,49.93 543.40,49.47 543.49,51.49 543.57,50.50 543.66,53.22 543.75,53.57 543.83,51.20 543.92,49.89 544.00,55.12 544.09,52.79 544.18,55.17 544.26,54.46 544.35,51.01 544.44,51.68 544.52,52.72 544.61,52.34 544.69,50.42 544.78,53.58 544.87,50.88 544.95,52.31 545.04,55.70 545.13,51.12 545.21,49.66 545.30,54.34 545.38,52.75 545.47,53.38 545.56,53.82 545.64,52.13 545.73,55.18 545.82,51.36 545.90,52.19 545.99,52.68 546.07,50.59 546.16,52.72 546.25,51.07 546.33,50.88 546.42,50.59 546.51,53.22 546.59,53.01 546.68,48.58 546.76,54.47 546.85,51.73 546.94,52.76 547.02,49.55 547.11,52.76 547.20,52.90 547.28,52.21 547.37,53.06 547.45,50.81 547.54,51.00 547.63,51.45 547.71,51.05 547.80,53.03 547.88,52.69 547.97,51.06 548.06,52.73 548.14,52.59 548.23,53.87 548.32,50.67 548.40,52.73 548.49,52.15 548.57,51.95 548.66,60.39 548.75,51.03 548.83,52.06 548.92,51.38 549.01,52.11 549.09,53.47 549.18,51.76 549.26,50.35 549.35,53.09 549.44,54.44 549.52,57.19 549.61,49.38 549.70,51.26 549.78,50.96 549.87,52.38 549.95,59.18 550.04,53.10 550.13,55.47 550.21,49.57 550.30,50.85 550.39,49.15 550.47,50.86 550.56,49.31 550.64,56.00 550.73,49.01 550.82,52.50 550.90,50.89 550.99,54.04 551.08,54.14 551.16,48.57 551.25,55.78 551.33,50.86 551.42,51.10 551.51,51.01 551.59,54.08 551.68,51.22 551.77,51.91 551.85,53.57 551.94,53.03 552.02,50.16 552.11,52.35 552.20,52.24 552.28,50.88 552.37,50.23 552.46,53.75 552.54,49.00 552.63,51.43 552.71,52.02 552.80,55.20 552.89,55.97 552.97,51.80 553.06,50.76 553.14,58.32 553.23,52.81 553.32,52.50 553.40,54.54 553.49,54.07 553.58,50.53 553.66,52.78 553.75,51.06 553.83,51.14 553.92,49.23 554.01,53.53 554.09,52.26 554.18,55.34 554.27,53.17 554.35,52.70 554.44,49.80 554.52,53.56 554.61,53.43 554.70,49.69 554.78,48.90 554.87,50.88 554.96,51.76 555.04,49.94 555.13,53.79 555.21,33.09 555.30,53.80 555.39,50.13 555.47,50.95 555.56,50.57 555.65,49.95 555.73,52.49 555.82,53.85 555.90,53.67 555.99,51.83 556.08,50.20 556.16,58.01 556.25,47.37 556.34,49.20 556.42,49.43 556.51,50.47 556.59,51.15 556.68,51.54 556.77,51.92 556.85,52.51 556.94,55.35 557.03,51.77 557.11,49.97 557.20,44.49 557.28,44.33 557.37,51.32 557.46,52.42 557.54,53.60 557.63,52.24 557.71,52.91 557.80,55.90 557.89,49.36 557.97,46.03 558.06,51.75 558.15,50.61 558.23,54.60 558.32,52.69 558.40,52.40 558.49,50.61 558.58,53.98 558.66,51.40 558.75,53.85 558.84,50.93 558.92,54.43 559.01,53.50 559.09,53.04 559.18,58.23 559.27,52.82 559.35,53.94 559.44,52.70 559.53,56.18 559.61,52.84 559.70,53.43 559.78,52.73 559.87,50.09 559.96,50.81 560.04,52.22 560.13,49.84 560.22,46.24 560.30,53.34 560.39,54.01 560.47,55.15 560.56,55.27 560.65,49.31 560.73,53.50 560.82,54.01 560.91,51.58 560.99,54.79 561.08,53.80 561.16,50.80 561.25,51.78 561.34,51.23 561.42,49.87 561.51,55.52 561.60,55.17 561.68,49.95 561.77,51.52 561.85,43.10 561.94,52.46 562.03,51.06 562.11,49.70 562.20,57.86 562.28,51.19 562.37,45.16 562.46,53.69 562.54,50.27 562.63,44.91 562.72,53.68 562.80,52.96 562.89,57.62 562.97,53.58 563.06,51.50 563.15,50.45 563.23,48.76 563.32,51.83 563.41,51.34 563.49,54.11 563.58,47.48 563.66,50.62 563.75,52.35 563.84,47.40 563.92,52.21 564.01,52.21 564.10,52.87 564.18,55.12 564.27,49.77 564.35,52.58 564.44,49.66 564.53,53.92 564.61,51.20 564.70,49.46 564.79,51.74 564.87,54.51 564.96,54.83 565.04,52.19 565.13,48.59 565.22,52.04 565.30,55.08 565.39,50.55 565.48,54.92 565.56,51.20 565.65,51.07 565.73,50.70 565.82,54.45 565.91,54.38 565.99,51.65 566.08,50.39 566.17,52.57 566.25,53.83 566.34,55.36 566.42,57.48 566.51,52.45 566.60,54.41 566.68,58.08 566.77,49.66 566.85,50.34 566.94,50.17 567.03,53.17 567.11,47.11 567.20,55.08 567.29,52.47 567.37,52.41 567.46,49.74 567.54,54.53 567.63,50.99 567.72,50.35 567.80,50.68 567.89,51.15 567.98,50.49 568.06,51.43 568.15,53.26 568.23,54.52 568.32,54.76 568.41,19.44 568.49,54.18 568.58,52.91 568.67,52.58 568.75,24.90 568.84,50.54 568.92,55.94 569.01,50.36 569.10,52.03 569.18,64.94 569.27,55.85 569.36,52.00 569.44,55.43 569.53,53.92 569.61,54.36 569.70,55.01 569.79,51.00 569.87,52.18 569.96,51.67 570.05,54.29 570.13,53.71 570.22,52.67 570.30,52.09 570.39,53.89 570.48,51.72 570.56,52.50 570.65,53.95 570.74,51.93 570.82,52.91 570.91,49.20 570.99,50.55 571.08,51.19 571.17,51.95 571.25,51.35 571.34,51.17 571.43,54.47 571.51,50.70 571.60,54.24 571.68,54.41 571.77,53.77 571.86,52.13 571.94,51.42 572.03,50.72 572.11,54.36 572.20,52.99 572.29,53.53 572.37,51.74 572.46,52.71 572.55,48.05 572.63,50.32 572.72,51.86 572.80,55.06 572.89,52.19 572.98,53.19 573.06,51.89 573.15,52.92 573.24,52.72 573.32,55.55 573.41,53.35 573.49,50.69 573.58,52.42 573.67,51.62 573.75,52.69 573.84,53.35 573.93,53.41 574.01,54.23 574.10,50.55 574.18,52.43 574.27,52.47 574.36,54.09 574.44,50.30 574.53,52.99 574.62,52.68 574.70,51.92 574.79,49.29 574.87,53.02 574.96,55.73 575.05,55.40 575.13,54.46 575.22,52.74 575.31,58.05 575.39,50.15 575.48,50.91 575.56,49.04 575.65,46.90 575.74,51.68 575.82,53.22 575.91,57.26 576.00,51.39 576.08,52.40 576.17,52.09 576.25,53.43 576.34,50.96 576.43,53.75 576.51,50.19 576.60,53.66 576.68,53.50 576.77,51.20 576.86,55.69 576.94,56.26 577.03,50.95 577.12,50.65 577.20,54.31 577.29,52.66 577.37,50.07 577.46,53.94 577.55,53.13 577.63,53.67 577.72,55.99 577.81,51.80 577.89,52.83 577.98,48.39 578.06,50.03 578.15,50.88 578.24,51.08 578.32,55.28 578.41,56.22 578.50,51.14 578.58,51.93 578.67,51.32 578.75,51.55 578.84,51.02 578.93,50.32 579.01,50.14 579.10,52.78 579.19,53.91 579.27,54.04 579.36,52.31 579.44,54.36 579.53,54.75 579.62,52.08 579.70,52.93 579.79,53.02 579.88,52.14 579.96,52.88 580.05,50.37 580.13,54.61 580.22,55.29 580.31,51.04 580.39,51.13 580.48,50.76 580.57,53.77 580.65,50.06 580.74,50.40 580.82,52.44 580.91,52.94 581.00,53.36 581.08,51.29 581.17,50.42 581.25,51.23 581.34,52.45 581.43,50.83 581.51,52.52 581.60,52.34 581.69,50.79 581.77,50.86 581.86,50.99 581.94,51.12 582.03,52.36 582.12,51.80 582.20,51.83 582.29,52.73 582.38,52.57 582.46,51.05 582.55,51.92 582.63,53.35 582.72,52.84 582.81,53.17 582.89,53.59 582.98,51.66 583.07,51.71 583.15,52.23 583.24,53.90 583.32,52.66 583.41,54.01 583.50,52.14 583.58,52.51 583.67,52.12 583.76,53.41 583.84,43.10 583.93,52.91 584.01,50.90 584.10,52.72 584.19,52.46 584.27,51.16 584.36,51.46 584.45,52.52 584.53,52.50 584.62,53.16 584.70,51.88 584.79,53.53 584.88,51.05 584.96,52.06 585.05,51.95 585.14,52.85 585.22,50.57 585.31,50.64 585.39,52.87 585.48,54.05 585.57,50.02 585.65,54.41 585.74,51.45 585.82,54.94 585.91,48.86 586.00,51.01 586.08,53.87 586.17,52.76 586.26,51.51 586.34,56.66 586.43,55.26 586.51,56.02 586.60,51.73 586.69,51.89 586.77,52.22 586.86,52.65 586.95,51.00 587.03,50.72 587.12,53.33 587.20,52.36 587.29,52.77 587.38,53.27 587.46,51.87 587.55,53.69 587.64,52.07 587.72,54.38 587.81,51.48 587.89,51.94 587.98,51.15 588.07,52.27 588.15,53.53 588.24,52.16 588.33,51.06 588.41,51.82 588.50,50.67 588.58,53.62 588.67,52.76 588.76,51.88 588.84,52.46 588.93,51.18 589.02,51.17 589.10,52.51 589.19,53.50 589.27,52.06 589.36,52.96 589.45,53.94 589.53,52.43 589.62,51.10 589.71,48.16 589.79,52.01 589.88,48.93 589.96,54.01 590.05,52.35 590.14,54.99 590.22,52.41 590.31,55.03 590.39,52.15 590.48,49.96 590.57,51.91 590.65,52.15 590.74,54.18 590.83,53.99 590.91,52.79 591.00,47.74 591.08,46.62 591.17,43.10 591.26,53.18 591.34,50.68 591.43,53.38 591.52,51.83 591.60,53.24 591.69,53.45 591.77,52.43 591.86,51.02 591.95,53.85 592.03,52.38 592.12,51.24 592.21,48.35 592.29,53.11 592.38,53.71 592.46,50.81 592.55,50.87 592.64,46.10 592.72,53.28 592.81,55.09 592.90,51.92 592.98,51.36 593.07,53.86 593.15,51.77 593.24,53.80 593.33,52.33 593.41,54.24 593.50,53.57 593.59,51.78 593.67,52.63 593.76,51.75 593.84,52.00 593.93,51.49 594.02,53.11 594.10,52.54 594.19,51.50 594.28,51.60 594.36,53.10 594.45,51.75 594.53,51.95 594.62,53.58 594.71,52.11 594.79,53.57 594.88,52.18 594.97,53.86 595.05,52.34 595.14,52.69 595.22,51.97 595.31,50.61 595.40,50.93 595.48,52.97 595.57,53.22 595.65,50.06 595.74,51.90 595.83,53.34 595.91,52.00 596.00,52.58 596.09,52.18 596.17,52.28 596.26,39.46 596.34,51.48 596.43,52.79 596.52,52.34 596.60,54.43 596.69,51.60 596.78,53.41 596.86,52.31 596.95,50.27 597.03,52.64 597.12,51.91 597.21,52.11 597.29,57.84 597.38,52.98 597.47,50.13 597.55,56.17 597.64,57.62 597.72,53.13 597.81,52.24 597.90,53.19 597.98,51.39 598.07,50.91 598.16,53.44 598.24,55.81 598.33,51.41 598.41,52.82 598.50,68.12 598.59,49.52 598.67,50.86 598.76,53.47 598.85,51.84 598.93,53.28 599.02,49.16 599.10,50.62 599.19,84.05 599.28,52.47 599.36,52.83 599.45,48.93 599.54,55.36 599.62,52.01 599.71,53.70 599.79,51.02 599.88,50.23 599.97,42.19 600.05,54.50 600.14,51.51 600.22,50.94 600.31,55.03 600.40,51.94 600.48,50.55 600.57,52.74 600.66,52.18 600.74,52.38 600.83,52.69 600.91,57.60 601.00,52.48 601.09,53.59 601.17,52.77 601.26,49.48 601.35,55.43 601.43,51.66 601.52,52.22 601.60,52.78 601.69,53.82 601.78,52.39 601.86,53.46 601.95,58.29 602.04,52.49 602.12,54.48 602.21,51.86 602.29,52.96 602.38,53.68 602.47,52.27 602.55,52.18 602.64,52.26 602.73,51.28 602.81,49.48 602.90,62.21 602.98,49.03 603.07,53.13 603.16,53.18 603.24,54.23 603.33,53.23 603.42,53.26 603.50,52.76 603.59,52.00 603.67,52.30 603.76,49.86 603.85,51.69 603.93,48.74 604.02,53.19 604.11,53.95 604.19,52.55 604.28,50.88 604.36,54.35 604.45,53.22 604.54,53.25 604.62,51.93 604.71,49.81 604.79,51.66 604.88,51.72 604.97,52.26 605.05,52.64 605.14,51.54 605.23,51.69 605.31,51.22 605.40,52.21 605.48,51.27 605.57,52.45 605.66,52.74 605.74,51.55 605.83,50.49 605.92,51.14 606.00,48.17 606.09,52.18 606.17,49.56 606.26,48.93 606.35,52.25 606.43,49.45 606.52,49.12 606.61,51.43 606.69,53.03 606.78,51.42 606.86,54.06 606.95,50.08 607.04,53.17 607.12,51.35 607.21,51.11 607.30,52.58 607.38,53.91 607.47,50.17 607.55,52.93 607.64,53.26 607.73,51.80 607.81,52.21 607.90,53.73 607.99,57.51 608.07,51.93 608.16,52.20 608.24,51.19 608.33,52.96 608.42,51.10 608.50,49.55 608.59,49.96 608.68,52.61 608.76,50.84 608.85,51.36 608.93,54.21 609.02,53.27 609.11,52.00 609.19,50.29 609.28,52.88 609.36,52.41 609.45,56.13 609.54,52.12 609.62,53.30 609.71,52.17 609.80,52.17 609.88,53.43 609.97,48.53 610.05,53.49 610.14,48.47 610.23,51.53 610.31,54.71 610.40,52.15 610.49,52.57 610.57,52.55 610.66,53.34 610.74,49.83 610.83,52.30 610.92,53.66 611.00,53.12 611.09,50.14 611.18,51.59 611.26,53.09 611.35,53.85 611.43,53.94 611.52,51.03 611.61,53.08 611.69,51.51 611.78,50.15 611.87,50.14 611.95,53.30 612.04,52.98 612.12,47.39 612.21,53.98 612.30,51.29 612.38,53.65 612.47,51.22 612.56,55.55 612.64,48.06 612.73,53.59 612.81,54.62 612.90,55.97 612.99,51.92 613.07,51.61 613.16,52.53 613.25,55.01 613.33,52.32 613.42,49.40 613.50,55.48 613.59,52.81 613.68,52.36 613.76,49.50 613.85,53.98 613.94,50.29 614.02,50.31 614.11,52.31 614.19,51.46 614.28,50.25 614.37,51.18 614.45,52.48 614.54,51.24 614.62,54.36 614.71,51.53 614.80,52.82 614.88,51.36 614.97,52.53 615.06,52.52 615.14,49.17 615.23,53.10 615.31,53.11 615.40,50.69 615.49,52.37 615.57,52.70 615.66,48.81 615.75,51.86 615.83,52.80 615.92,53.52 616.00,53.29 616.09,52.64 616.18,53.67 616.26,48.94 616.35,51.68 616.44,52.92 616.52,53.95 616.61,51.88 616.69,53.89 616.78,50.22 616.87,51.79 616.95,50.76 617.04,50.90 617.13,50.65 617.21,51.21 617.30,47.55 617.38,53.64 617.47,50.14 617.56,51.53 617.64,53.40 617.73,52.66 617.82,55.74 617.90,54.22 617.99,54.31 618.07,53.08 618.16,52.70 618.25,54.60 618.33,50.00 618.42,52.29 618.51,54.81 618.59,52.30 618.68,48.99 618.76,52.84 618.85,51.41 618.94,51.26 619.02,49.63 619.11,55.00 619.19,49.12 619.28,53.45 619.37,51.70 619.45,49.55 619.54,50.37 619.63,52.13 619.71,49.18 619.80,51.33 619.88,50.90 619.97,52.12 620.06,52.64 620.14,51.15 620.23,51.27 620.32,56.23 620.40,54.47 620.49,58.61 620.57,50.78 620.66,49.22 620.75,52.84 620.83,51.93 620.92,50.51 621.01,55.79 621.09,51.80 621.18,52.33 621.26,49.14 621.35,53.56 621.44,49.59 621.52,59.02 621.61,53.73 621.70,49.91 621.78,44.19 621.87,51.05 621.95,51.31 622.04,53.46 622.13,52.51 622.21,50.26 622.30,51.46 622.39,54.17 622.47,53.27 622.56,53.06 622.64,52.49 622.73,48.86 622.82,54.95 622.90,53.34 622.99,50.48 623.08,52.70 623.16,52.52 623.25,53.72 623.33,65.85 623.42,50.63 623.51,51.38 623.59,51.98 623.68,52.43 623.76,52.77 623.85,50.92 623.94,52.69 624.02,52.48 624.11,55.66 624.20,51.84 624.28,53.93 624.37,51.56 624.45,53.12 624.54,52.32 624.63,49.97 624.71,53.91 624.80,52.62 624.89,54.35 624.97,52.32 625.06,52.14 625.14,53.93 625.23,53.75 625.32,48.25 625.40,53.01 625.49,51.09 625.58,35.82 625.66,50.64 625.75,52.63 625.83,53.95 625.92,53.68 626.01,49.32 626.09,53.42 626.18,49.39 626.27,52.20 626.35,48.32 626.44,48.97 626.52,54.23 626.61,49.14 626.70,51.99 626.78,55.75 626.87,50.75 626.96,53.14 627.04,54.94 627.13,49.94 627.21,50.59 627.30,53.42 627.39,56.05 627.47,55.20 627.56,50.99 627.65,55.62 627.73,34.91 627.82,53.17 627.90,50.55 627.99,49.20 628.08,54.62 628.16,50.09 628.25,51.14 628.33,49.19 628.42,51.13 628.51,53.91 628.59,52.33 628.68,55.63 628.77,50.32 628.85,50.13 628.94,49.66 629.02,51.53 629.11,51.41 629.20,54.44 629.28,51.43 629.37,54.23 629.46,50.65 629.54,51.66 629.63,46.21 629.71,40.69 629.80,51.43 629.89,56.55 629.97,34.91 630.06,51.93 630.15,53.71 630.23,51.61 630.32,51.77 630.40,52.25 630.49,55.08 630.58,53.16 630.66,55.16 630.75,53.96 630.84,55.37 630.92,49.71 631.01,49.40 631.09,50.22 631.18,52.57 631.27,52.96 631.35,51.61 631.44,50.07 631.53,49.70 631.61,53.67 631.70,55.42 631.78,50.73 631.87,50.62 631.96,52.15 632.04,54.01 632.13,64.94 632.22,49.91 632.30,49.68 632.39,49.65 632.47,51.45 632.56,54.28 632.65,53.15 632.73,53.59 632.82,49.98 632.91,52.85 632.99,50.24 633.08,53.11 633.16,51.01 633.25,51.61 633.34,50.59 633.42,54.72 633.51,52.62 633.59,53.15 633.68,53.50 633.77,47.92 633.85,51.86 633.94,50.50 634.03,54.17 634.11,50.94 634.20,52.69 634.28,51.70 634.37,51.33 634.46,49.37 634.54,52.92 634.63,50.24 634.72,51.59 634.80,51.23 634.89,51.68 634.97,53.17 635.06,72.67 635.15,54.23 635.23,51.55 635.32,54.43 635.41,50.05 635.49,53.22 635.58,56.06 635.66,51.96 635.75,55.61 635.84,52.39 635.92,46.59 636.01,52.34 636.10,55.33 636.18,49.40 636.27,55.93 636.35,53.36 636.44,55.20 636.53,53.43 636.61,57.73 636.70,50.39 636.79,52.47 636.87,52.32 636.96,51.62 637.04,49.59 637.13,52.58 637.22,54.82 637.30,69.49 637.39,53.18 637.48,50.62 637.56,52.42 637.65,48.33 637.73,49.54 637.82,53.16 637.91,56.83 637.99,52.32 638.08,51.88 638.16,51.48 638.25,53.92 638.34,52.35 638.42,52.85 638.51,50.14 638.60,56.21 638.68,50.62 638.77,50.22 638.85,52.31 638.94,51.81 639.03,53.22 639.11,49.45 639.20,52.35 639.29,53.05 639.37,52.13 639.46,54.70 639.54,49.94 639.63,49.52 639.72,52.08 639.80,53.78 639.89,51.51 639.98,52.42 640.06,48.55 640.15,51.69 640.23,50.67 640.32,53.70 640.41,51.67 640.49,51.23 640.58,51.98 640.67,49.62 640.75,52.40 640.84,54.13 640.92,38.55 641.01,49.08 641.10,51.81 641.18,50.40 641.27,52.14 641.36,52.37 641.44,51.77 641.53,50.70 641.61,50.64 641.70,53.19 641.79,50.45 641.87,51.11 641.96,53.50 642.05,52.50 642.13,53.73 642.22,51.49 642.30,51.17 642.39,49.96 642.48,51.10 642.56,53.52 642.65,48.89 642.73,50.70 642.82,50.72 642.91,58.70 642.99,52.43 643.08,52.16 643.17,54.31 643.25,55.86 643.34,51.93 643.42,52.61 643.51,58.52 643.60,51.78 643.68,47.46 643.77,50.84 643.86,51.36 643.94,51.25 644.03,49.28 644.11,51.32 644.20,49.23 644.29,50.68 644.37,51.19 644.46,50.16 644.55,54.85 644.63,56.97 644.72,46.71 644.80,51.90 644.89,53.26 644.98,52.16 645.06,49.87 645.15,49.91 645.24,50.53 645.32,63.58 645.41,52.71 645.49,49.12 645.58,55.31 645.67,52.41 645.75,49.86 645.84,48.57 645.93,51.80 646.01,51.54 646.10,54.64 646.18,56.15 646.27,51.20 646.36,53.17 646.44,54.48 646.53,54.11 646.62,52.25 646.70,52.33 646.79,53.16 646.87,50.81 646.96,50.92 647.05,50.33 647.13,50.96 647.22,51.05 647.30,49.90 647.39,53.72 647.48,52.78 647.56,51.34 647.65,53.05 647.74,51.98 647.82,52.17 647.91,51.39 647.99,54.03 648.08,52.47 648.17,51.22 648.25,54.05 648.34,52.15 648.43,54.30 648.51,49.66 648.60,51.26 648.68,49.33 648.77,52.53 648.86,50.63 648.94,52.95 649.03,52.54 649.12,55.96 649.20,49.12 649.29,51.58 649.37,45.46 649.46,55.52 649.55,53.68 649.63,56.52 649.72,52.98 649.81,56.35 649.89,52.96 649.98,52.55 650.06,50.42 650.15,51.53 650.24,51.92 650.32,51.00 650.41,52.80 650.50,50.43 650.58,50.69 650.67,56.21 650.75,53.65 650.84,49.06 650.93,53.85 651.01,54.58 651.10,51.46 651.19,52.27 651.27,53.68 651.36,48.33 651.44,55.11 651.53,53.21 651.62,50.46 651.70,55.43 651.79,52.17 651.87,51.05 651.96,52.93 652.05,50.67 652.13,52.71 652.22,51.67 652.31,50.29 652.39,52.85 652.48,50.06 652.56,57.16 652.65,43.10 652.74,47.21 652.82,52.58 652.91,54.72 653.00,52.31 653.08,52.27 653.17,52.69 653.25,51.92 653.34,54.45 653.43,52.74 653.51,51.87 653.60,53.13 653.69,55.17 653.77,49.72 653.86,57.86 653.94,50.92 654.03,50.31 654.12,53.93 654.20,52.88 654.29,54.29 654.38,55.14 654.46,50.05 654.55,52.38 654.63,52.22 654.72,51.92 654.81,59.16 654.89,51.48 654.98,50.51 655.07,52.77 655.15,51.00 655.24,51.10 655.32,55.36 655.41,50.92 655.50,48.84 655.58,53.01 655.67,51.49 655.76,54.13 655.84,52.80 655.93,52.38 656.01,55.87 656.10,52.74 656.19,49.86 656.27,49.64 656.36,47.89 656.45,55.52 656.53,53.10 656.62,47.53 656.70,55.73 656.79,49.28 656.88,58.21 656.96,54.35 657.05,50.09 657.13,56.26 657.22,53.37 657.31,48.99 657.39,52.02 657.48,52.40 657.57,55.22 657.65,52.14 657.74,53.75 657.82,52.52 657.91,50.73 658.00,47.48 658.08,50.94 658.17,48.72 658.26,54.37 658.34,54.77 658.43,52.15 658.51,50.97 658.60,53.44 658.69,49.63 658.77,50.49 658.86,53.13 658.95,51.95 659.03,52.38 659.12,52.45 659.20,51.92 659.29,52.88 659.38,54.95 659.46,52.08 659.55,54.40 659.64,54.70 659.72,51.28 659.81,53.55 659.89,53.18 659.98,61.30 660.07,54.84 660.15,51.30 660.24,53.13 660.33,51.01 660.41,56.21 660.50,49.24 660.58,52.43 660.67,50.23 660.76,50.80 660.84,53.09 660.93,51.89 661.02,52.04 661.10,54.84 661.19,49.76 661.27,49.47 661.36,53.03 661.45,53.80 661.53,51.73 661.62,55.94 661.70,56.40 661.79,50.85 661.88,54.18 661.96,52.17 662.05,49.75 662.14,50.01 662.22,51.91 662.31,54.81 662.39,52.84 662.48,53.61 662.57,51.04 662.65,52.46 662.74,55.45 662.83,53.67 662.91,50.16 663.00,50.17 663.08,54.22 663.17,50.75 663.26,52.00 663.34,51.64 663.43,53.78 663.52,48.68 663.60,50.09 663.69,52.18 663.77,56.86 663.86,50.81 663.95,53.12 664.03,52.58 664.12,51.26 664.21,52.28 664.29,47.84 664.38,51.67 664.46,50.34 664.55,53.32 664.64,52.86 664.72,54.32 664.81,52.59 664.90,53.67 664.98,52.24 665.07,53.15 665.15,50.41 665.24,49.75 665.33,53.37 665.41,50.91 665.50,52.64 665.59,52.21 665.67,54.19 665.76,51.89 665.84,65.85 665.93,54.39 666.02,54.85 666.10,49.05 666.19,51.19 666.27,50.48 666.36,55.04 666.45,51.88 666.53,50.78 666.62,54.23 666.71,55.02 666.79,52.12 666.88,51.38 666.96,53.48 667.05,50.71 667.14,50.16 667.22,53.52 667.31,53.32 667.40,52.82 667.48,54.06 667.57,53.41 667.65,52.76 667.74,52.05 667.83,55.14 667.91,52.30 668.00,51.01 668.09,50.20 668.17,50.44 668.26,52.42 668.34,52.24 668.43,57.67 668.52,52.08 668.60,49.81 668.69,52.95 668.78,63.58 668.86,51.02 668.95,54.75 669.03,51.21 669.12,52.60 669.21,49.51 669.29,54.42 669.38,52.62 669.47,54.18 669.55,49.84 669.64,52.84 669.72,53.59 669.81,50.41 669.90,53.25 669.98,50.38 670.07,54.12 670.16,50.07 670.24,50.10 670.33,50.66 670.41,52.81 670.50,50.43 670.59,50.84 670.67,54.60 670.76,52.12 670.84,53.11 670.93,52.82 671.02,50.45 671.10,52.30 671.19,50.82 671.28,53.45 671.36,55.57 671.45,53.29 671.53,54.58 671.62,52.94 671.71,52.70 671.79,51.92 671.88,48.38 671.97,51.02 672.05,52.83 672.14,49.61 672.22,53.79 672.31,52.15 672.40,43.72 672.48,51.76 672.57,55.96 672.66,50.31 672.74,59.97 672.83,52.81 672.91,49.44 673.00,52.13 673.09,51.88 673.17,48.21 673.26,52.97 673.35,51.44 673.43,52.02 673.52,51.67 673.60,50.02 673.69,55.48 673.78,53.50 673.86,50.65 673.95,52.70 674.04,50.45 674.12,50.58 674.21,51.84 674.29,54.49 674.38,48.85 674.47,49.61 674.55,50.95 674.64,50.36 674.73,54.99 674.81,53.97 674.90,53.16 674.98,52.32 675.07,51.36 675.16,50.21 675.24,52.79 675.33,53.81 675.42,53.09 675.50,53.50 675.59,52.92 675.67,52.20 675.76,52.92 675.85,51.95 675.93,53.62 676.02,56.22 676.10,51.15 676.19,55.01 676.28,51.90 676.36,54.04 676.45,48.45 676.54,59.46 676.62,48.05 676.71,54.39 676.79,52.62 676.88,53.60 676.97,52.93 677.05,47.85 677.14,50.68 677.23,54.58 677.31,52.63 677.40,53.73 677.48,53.90 677.57,60.39 677.66,49.32 677.74,52.12 677.83,52.69 677.92,55.16 678.00,50.16 678.09,48.62 678.17,53.08 678.26,51.07 678.35,52.85 678.43,52.40 678.52,53.63 678.61,49.68 678.69,52.94 678.78,51.04 678.86,49.86 678.95,51.56 679.04,54.29 679.12,53.12 679.21,50.74 679.30,52.19 679.38,51.17 679.47,53.99 679.55,48.41 679.64,54.29 679.73,49.89 679.81,53.81 679.90,53.89 679.99,50.38 680.07,57.24 680.16,50.42 680.24,52.13 680.33,52.72 680.42,49.08 680.50,45.83 680.59,52.61 680.67,54.77 680.76,53.68 680.85,54.43 680.93,50.65 681.02,52.14 681.11,50.90 681.19,49.65 681.28,52.24 681.36,52.64 681.45,51.39 681.54,48.79 681.62,52.09 681.71,50.96 681.80,51.25 681.88,49.67 681.97,52.38 682.05,50.19 682.14,50.48 682.23,52.22 682.31,51.41 682.40,52.08 682.49,53.50 682.57,52.44 682.66,52.58 682.74,53.21 682.83,49.47 682.92,49.67 683.00,52.07 683.09,52.35 683.18,52.85 683.26,50.28 683.35,53.76 683.43,53.47 683.52,54.10 683.61,52.72 683.69,51.42 683.78,54.43 683.87,52.82 683.95,53.28 684.04,52.83 684.12,52.81 684.21,53.97 684.30,53.74 684.38,53.12 684.47,52.94 684.56,52.60 684.64,52.12 684.73,51.09 684.81,53.24 684.90,52.74" fill="none" stroke="#3566B2" stroke-width="0.72" stroke-linejoin="round"/>
<text transform="translate(606.65,4.60) rotate(0.03)" textLength="10.00" lengthAdjust="spacingAndGlyphs" font-size="6.7" fill="#15171c" stroke="#15171c" stroke-width="0.2">ENJ</text>
<text transform="translate(535.80,17.23) rotate(0.03) scale(0.88,1)" text-anchor="end" font-size="6.1" fill="#111" stroke="#111" stroke-width="0.24">80</text>
<text transform="translate(535.80,35.43) rotate(0.03) scale(0.88,1)" text-anchor="end" font-size="6.1" fill="#111" stroke="#111" stroke-width="0.24">40</text>
<text transform="translate(535.80,53.63) rotate(0.03) scale(0.88,1)" text-anchor="end" font-size="6.1" fill="#111" stroke="#111" stroke-width="0.24">0</text>
<text transform="translate(535.80,71.83) rotate(0.03) scale(0.88,1)" text-anchor="end" font-size="6.1" fill="#111" stroke="#111" stroke-width="0.24">-40</text>
<text transform="translate(535.80,90.03) rotate(0.03) scale(0.88,1)" text-anchor="end" font-size="6.1" fill="#111" stroke="#111" stroke-width="0.24">-80</text>
<text transform="translate(547.95,98.30) rotate(-59) scale(0.96,1)" text-anchor="middle" y="1.95" font-size="5.5" fill="#000" stroke="#000" stroke-width="0.1">18Q3</text>
<text transform="translate(563.31,98.30) rotate(-59) scale(0.96,1)" text-anchor="middle" y="1.95" font-size="5.5" fill="#000" stroke="#000" stroke-width="0.1">19Q1</text>
<text transform="translate(578.67,98.30) rotate(-59) scale(0.96,1)" text-anchor="middle" y="1.95" font-size="5.5" fill="#000" stroke="#000" stroke-width="0.1">19Q3</text>
<text transform="translate(594.03,98.30) rotate(-59) scale(0.96,1)" text-anchor="middle" y="1.95" font-size="5.5" fill="#000" stroke="#000" stroke-width="0.1">20Q1</text>
<text transform="translate(609.39,98.30) rotate(-59) scale(0.96,1)" text-anchor="middle" y="1.95" font-size="5.5" fill="#000" stroke="#000" stroke-width="0.1">20Q3</text>
<text transform="translate(624.75,98.30) rotate(-59) scale(0.96,1)" text-anchor="middle" y="1.95" font-size="5.5" fill="#000" stroke="#000" stroke-width="0.1">21Q1</text>
<text transform="translate(640.11,98.30) rotate(-59) scale(0.96,1)" text-anchor="middle" y="1.95" font-size="5.5" fill="#000" stroke="#000" stroke-width="0.1">21Q3</text>
<text transform="translate(655.47,98.30) rotate(-59) scale(0.96,1)" text-anchor="middle" y="1.95" font-size="5.5" fill="#000" stroke="#000" stroke-width="0.1">22Q1</text>
<text transform="translate(670.83,98.30) rotate(-59) scale(0.96,1)" text-anchor="middle" y="1.95" font-size="5.5" fill="#000" stroke="#000" stroke-width="0.1">22Q3</text>
</g>
<g>
<line x1="11.00" x2="157.50" y1="152.65" y2="152.65" stroke="#f3f3f3" stroke-width="0.6"/>
<line x1="11.00" x2="157.50" y1="170.90" y2="170.90" stroke="#f3f3f3" stroke-width="0.6"/>
<line x1="11.00" x2="157.50" y1="189.15" y2="189.15" stroke="#f3f3f3" stroke-width="0.6"/>
<line x1="11.00" x2="157.50" y1="207.40" y2="207.40" stroke="#e6e6e6" stroke-width="0.6"/>
<line x1="50.80" x2="50.80" y1="134.40" y2="207.40" stroke="#efefef" stroke-width="0.6"/>
<line x1="111.60" x2="111.60" y1="134.40" y2="207.40" stroke="#efefef" stroke-width="0.6"/>
<rect x="67.00" y="134.40" width="89.50" height="73.00" fill="#FF9128"/>
<rect x="132.45" y="134.40" width="25.05" height="73.00" fill="#8CFC1E"/>
<line x1="67.00" x2="157.50" y1="152.65" y2="152.65" stroke="#fff" stroke-opacity="0.28" stroke-width="0.6"/>
<line x1="67.00" x2="157.50" y1="170.90" y2="170.90" stroke="#fff" stroke-opacity="0.28" stroke-width="0.6"/>
<line x1="67.00" x2="157.50" y1="189.15" y2="189.15" stroke="#fff" stroke-opacity="0.28" stroke-width="0.6"/>
<line x1="111.60" x2="111.60" y1="134.40" y2="207.40" stroke="#fff" stroke-opacity="0.38" stroke-width="0.6"/>
<polyline points="11.00,174.99 11.09,172.32 11.17,168.43 11.26,173.71 11.34,163.29 11.43,179.88 11.52,174.99 11.60,170.68 11.69,172.01 11.78,174.79 11.86,163.68 11.95,164.21 12.03,166.72 12.12,169.54 12.21,175.74 12.29,178.45 12.38,166.30 12.47,163.52 12.55,165.44 12.64,168.42 12.72,169.55 12.81,169.76 12.90,162.27 12.98,178.93 13.07,188.61 13.16,170.11 13.24,168.88 13.33,171.02 13.41,167.80 13.50,169.70 13.59,171.51 13.67,173.91 13.76,176.30 13.85,170.37 13.93,189.15 14.02,165.85 14.10,177.78 14.19,170.55 14.28,173.82 14.36,170.59 14.45,176.27 14.54,162.99 14.62,175.98 14.71,169.29 14.79,166.33 14.88,164.45 14.97,172.80 15.05,178.69 15.14,167.39 15.23,170.32 15.31,172.53 15.40,172.29 15.48,176.46 15.57,186.85 15.66,174.87 15.74,168.25 15.83,173.13 15.91,165.72 16.00,169.58 16.09,173.08 16.17,172.58 16.26,167.73 16.35,170.73 16.43,173.44 16.52,169.25 16.60,171.15 16.69,172.82 16.78,165.83 16.86,192.80 16.95,174.34 17.04,178.79 17.12,169.18 17.21,164.68 17.29,170.44 17.38,172.82 17.47,169.97 17.55,174.36 17.64,169.46 17.73,177.00 17.81,179.49 17.90,175.77 17.98,169.35 18.07,157.33 18.16,171.08 18.24,171.04 18.33,157.21 18.42,167.88 18.50,159.88 18.59,166.39 18.67,166.35 18.76,169.21 18.85,175.17 18.93,173.56 19.02,174.60 19.11,168.57 19.19,171.19 19.28,171.61 19.36,169.89 19.45,173.23 19.54,168.31 19.62,175.69 19.71,159.49 19.80,166.20 19.88,168.26 19.97,168.47 20.05,167.72 20.14,167.25 20.23,173.56 20.31,170.74 20.40,167.56 20.48,171.50 20.57,170.23 20.66,172.39 20.74,180.71 20.83,167.78 20.92,175.51 21.00,170.76 21.09,171.35 21.17,162.47 21.26,177.65 21.35,169.61 21.43,169.51 21.52,164.19 21.61,167.92 21.69,166.00 21.78,170.52 21.86,187.23 21.95,170.61 22.04,170.17 22.12,171.95 22.21,169.00 22.30,174.19 22.38,173.76 22.47,170.98 22.55,173.88 22.64,168.44 22.73,175.53 22.81,175.41 22.90,172.40 22.99,171.42 23.07,171.09 23.16,174.28 23.24,162.18 23.33,180.94 23.42,173.58 23.50,166.32 23.59,172.47 23.68,173.56 23.76,173.06 23.85,185.02 23.93,174.71 24.02,171.64 24.11,171.16 24.19,177.67 24.28,171.45 24.37,171.69 24.45,170.08 24.54,178.03 24.62,172.61 24.71,174.78 24.80,175.22 24.88,163.52 24.97,185.09 25.06,171.69 25.14,173.79 25.23,176.90 25.31,176.20 25.40,177.52 25.49,173.08 25.57,166.49 25.66,171.14 25.74,165.75 25.83,176.53 25.92,172.28 26.00,162.85 26.09,178.93 26.18,174.02 26.26,164.26 26.35,175.08 26.43,176.10 26.52,173.47 26.61,160.60 26.69,160.82 26.78,183.42 26.87,160.55 26.95,169.42 27.04,178.64 27.12,169.83 27.21,171.41 27.30,167.41 27.38,163.50 27.47,170.88 27.56,172.59 27.64,170.22 27.73,176.45 27.81,175.21 27.90,168.92 27.99,163.06 28.07,171.30 28.16,166.75 28.25,162.41 28.33,172.56 28.42,183.09 28.50,166.76 28.59,192.34 28.68,173.08 28.76,174.27 28.85,173.15 28.94,168.99 29.02,185.77 29.11,180.12 29.19,168.89 29.28,163.83 29.37,164.10 29.45,177.95 29.54,166.14 29.63,167.99 29.71,171.37 29.80,168.10 29.88,175.01 29.97,173.89 30.06,157.21 30.14,179.10 30.23,171.33 30.31,175.80 30.40,163.78 30.49,168.93 30.57,156.30 30.66,168.60 30.75,176.75 30.83,167.69 30.92,173.23 31.00,166.59 31.09,163.46 31.18,178.05 31.26,169.17 31.35,172.79 31.44,171.05 31.52,165.65 31.61,167.61 31.69,169.02 31.78,173.84 31.87,172.68 31.95,171.67 32.04,168.44 32.13,169.90 32.21,161.69 32.30,177.82 32.38,170.08 32.47,164.11 32.56,170.97 32.64,174.54 32.73,169.82 32.82,173.82 32.90,170.38 32.99,164.95 33.07,178.76 33.16,171.74 33.25,173.06 33.33,169.43 33.42,169.91 33.51,169.05 33.59,170.46 33.68,166.75 33.76,175.40 33.85,161.23 33.94,169.40 34.02,167.66 34.11,166.22 34.20,166.36 34.28,180.01 34.37,169.50 34.45,165.18 34.54,173.60 34.63,157.11 34.71,165.52 34.80,177.95 34.88,176.85 34.97,170.44 35.06,185.48 35.14,174.80 35.23,175.70 35.32,172.19 35.40,172.17 35.49,174.57 35.57,178.34 35.66,179.86 35.75,173.13 35.83,170.88 35.92,182.44 36.01,177.81 36.09,172.07 36.18,169.78 36.26,166.55 36.35,169.68 36.44,172.70 36.52,160.66 36.61,175.31 36.70,171.64 36.78,170.92 36.87,176.47 36.95,172.15 37.04,171.22 37.13,169.59 37.21,169.14 37.30,167.77 37.39,178.14 37.47,172.73 37.56,167.05 37.64,170.19 37.73,173.55 37.82,173.93 37.90,174.46 37.99,170.15 38.08,163.35 38.16,161.14 38.25,179.34 38.33,171.36 38.42,173.52 38.51,175.75 38.59,169.95 38.68,174.76 38.77,169.41 38.85,170.64 38.94,173.44 39.02,160.89 39.11,169.98 39.20,164.60 39.28,172.46 39.37,174.25 39.45,168.67 39.54,174.15 39.63,165.20 39.71,178.36 39.80,174.92 39.89,172.66 39.97,168.68 40.06,170.96 40.14,168.61 40.23,174.85 40.32,156.30 40.40,176.30 40.49,170.62 40.58,166.34 40.66,170.18 40.75,167.62 40.83,166.88 40.92,168.41 41.01,165.68 41.09,173.90 41.18,165.06 41.27,172.20 41.35,172.37 41.44,166.66 41.52,169.37 41.61,173.85 41.70,171.20 41.78,186.87 41.87,171.23 41.96,170.21 42.04,171.10 42.13,170.28 42.21,174.63 42.30,172.93 42.39,172.48 42.47,168.15 42.56,175.66 42.65,168.02 42.73,173.74 42.82,171.12 42.90,165.92 42.99,172.33 43.08,172.08 43.16,170.77 43.25,169.77 43.34,172.48 43.42,167.93 43.51,171.29 43.59,172.87 43.68,173.72 43.77,173.61 43.85,172.85 43.94,169.24 44.03,170.55 44.11,169.25 44.20,171.03 44.28,172.21 44.37,174.36 44.46,172.65 44.54,169.55 44.63,167.97 44.71,173.57 44.80,170.72 44.89,169.86 44.97,161.93 45.06,171.50 45.15,168.14 45.23,168.00 45.32,163.99 45.40,172.68 45.49,173.14 45.58,172.78 45.66,169.04 45.75,170.87 45.84,169.40 45.92,173.30 46.01,172.94 46.09,169.85 46.18,169.78 46.27,172.72 46.35,171.50 46.44,173.56 46.53,172.86 46.61,175.40 46.70,167.66 46.78,170.11 46.87,169.90 46.96,170.74 47.04,169.12 47.13,169.85 47.22,175.84 47.30,175.92 47.39,172.53 47.47,175.32 47.56,168.57 47.65,171.26 47.73,168.14 47.82,171.16 47.91,171.66 47.99,175.90 48.08,174.01 48.16,172.09 48.25,169.53 48.34,170.47 48.42,172.92 48.51,181.64 48.60,168.01 48.68,172.49 48.77,167.06 48.85,167.28 48.94,166.54 49.03,171.80 49.11,168.90 49.20,164.76 49.28,175.51 49.37,172.76 49.46,169.36 49.54,169.89 49.63,171.15 49.72,171.53 49.80,171.91 49.89,175.06 49.97,172.24 50.06,169.44 50.15,170.38 50.23,167.87 50.32,173.47 50.41,170.45 50.49,169.78 50.58,169.02 50.66,170.67 50.75,171.41 50.84,166.63 50.92,173.02 51.01,162.94 51.10,168.23 51.18,171.05 51.27,168.16 51.35,170.29 51.44,169.14 51.53,175.17 51.61,169.41 51.70,169.96 51.79,166.40 51.87,170.85 51.96,175.46 52.04,182.31 52.13,167.65 52.22,182.08 52.30,172.00 52.39,169.80 52.48,177.46 52.56,170.92 52.65,163.43 52.73,166.38 52.82,175.03 52.91,169.20 52.99,167.84 53.08,173.80 53.17,177.88 53.25,173.98 53.34,173.11 53.42,172.13 53.51,179.06 53.60,173.82 53.68,173.22 53.77,169.52 53.85,160.00 53.94,172.12 54.03,171.34 54.11,161.50 54.20,174.75 54.29,165.44 54.37,172.38 54.46,168.88 54.54,162.62 54.63,173.98 54.72,169.55 54.80,177.81 54.89,169.88 54.98,168.84 55.06,170.94 55.15,172.09 55.23,162.72 55.32,169.08 55.41,171.16 55.49,170.08 55.58,173.96 55.67,171.58 55.75,172.81 55.84,172.56 55.92,178.81 56.01,174.21 56.10,170.22 56.18,169.25 56.27,165.82 56.36,161.17 56.44,176.20 56.53,171.97 56.61,170.57 56.70,168.43 56.79,173.66 56.87,166.04 56.96,170.93 57.05,170.63 57.13,171.69 57.22,167.11 57.30,166.76 57.39,169.45 57.48,170.79 57.56,173.83 57.65,170.40 57.74,171.49 57.82,173.06 57.91,169.61 57.99,172.38 58.08,168.52 58.17,169.91 58.25,168.36 58.34,173.35 58.42,170.96 58.51,175.12 58.60,167.78 58.68,171.84 58.77,169.45 58.86,169.64 58.94,168.55 59.03,173.20 59.11,172.35 59.20,174.31 59.29,171.73 59.37,171.72 59.46,171.29 59.55,169.04 59.63,174.45 59.72,169.84 59.80,176.18 59.89,167.56 59.98,171.77 60.06,170.75 60.15,169.81 60.24,168.43 60.32,174.78 60.41,172.73 60.49,174.57 60.58,168.61 60.67,171.24 60.75,170.26 60.84,172.52 60.93,175.20 61.01,170.09 61.10,166.68 61.18,167.94 61.27,174.43 61.36,169.60 61.44,171.63 61.53,170.50 61.62,171.65 61.70,174.78 61.79,170.52 61.87,170.40 61.96,170.57 62.05,171.29 62.13,172.28 62.22,171.37 62.31,169.44 62.39,168.84 62.48,171.54 62.56,169.89 62.65,171.46 62.74,170.94 62.82,169.63 62.91,170.71 62.99,172.33 63.08,170.58 63.17,171.28 63.25,173.78 63.34,169.53 63.43,170.57 63.51,171.93 63.60,171.40 63.68,173.23 63.77,170.76 63.86,172.34 63.94,171.49 64.03,168.63 64.12,170.16 64.20,172.15 64.29,171.53 64.37,171.71 64.46,170.92 64.55,171.90 64.63,170.03 64.72,167.81 64.81,171.75 64.89,169.40 64.98,172.35 65.06,170.03 65.15,170.05 65.24,168.89 65.32,173.09 65.41,171.50 65.50,170.82 65.58,172.48 65.67,166.62 65.75,173.56 65.84,172.07 65.93,166.91 66.01,172.39 66.10,172.17 66.19,168.88 66.27,174.54 66.36,172.92 66.44,171.93 66.53,168.30 66.62,169.60 66.70,174.27 66.79,172.22 66.88,174.22 66.96,167.99 67.05,176.01 67.13,165.37 67.22,169.36 67.31,164.96 67.39,165.86 67.48,168.38 67.57,173.54 67.65,179.35 67.74,167.36 67.82,168.64 67.91,173.54 68.00,174.54 68.08,169.59 68.17,171.07 68.25,173.30 68.34,172.83 68.43,176.25 68.51,173.91 68.60,171.24 68.69,174.34 68.77,174.75 68.86,175.74 68.94,171.81 69.03,170.68 69.12,169.62 69.20,171.97 69.29,169.95 69.38,165.91 69.46,172.92 69.55,170.43 69.63,193.71 69.72,173.78 69.81,173.12 69.89,175.34 69.98,177.62 70.07,169.04 70.15,172.84 70.24,172.54 70.32,173.26 70.41,170.84 70.50,172.69 70.58,168.80 70.67,177.80 70.76,175.19 70.84,169.86 70.93,170.88 71.01,168.08 71.10,195.99 71.19,167.21 71.27,171.64 71.36,167.75 71.45,172.85 71.53,171.16 71.62,177.79 71.70,173.97 71.79,172.55 71.88,174.34 71.96,172.26 72.05,171.12 72.14,169.94 72.22,174.12 72.31,170.25 72.39,171.12 72.48,171.60 72.57,202.84 72.65,174.33 72.74,170.33 72.82,175.98 72.91,174.44 73.00,170.81 73.08,176.12 73.17,176.03 73.26,150.37 73.34,172.65 73.43,168.57 73.51,173.89 73.60,172.73 73.69,172.96 73.77,172.76 73.86,168.27 73.95,168.60 74.03,172.37 74.12,171.70 74.20,169.05 74.29,171.25 74.38,170.93 74.46,170.17 74.55,170.70 74.64,183.16 74.72,151.28 74.81,163.95 74.89,167.84 74.98,170.48 75.07,165.73 75.15,180.56 75.24,172.28 75.33,167.06 75.41,170.98 75.50,189.15 75.58,175.98 75.67,174.43 75.76,168.23 75.84,174.21 75.93,164.83 76.02,163.99 76.10,178.46 76.19,172.87 76.27,169.69 76.36,168.11 76.45,179.59 76.53,172.23 76.62,160.93 76.71,169.88 76.79,174.96 76.88,164.88 76.96,168.84 77.05,170.73 77.14,173.86 77.22,169.66 77.31,176.27 77.39,169.59 77.48,174.74 77.57,168.42 77.65,180.61 77.74,173.19 77.83,168.95 77.91,171.22 78.00,174.19 78.08,169.46 78.17,176.18 78.26,172.84 78.34,176.19 78.43,168.31 78.52,170.44 78.60,172.33 78.69,166.58 78.77,174.11 78.86,171.11 78.95,177.04 79.03,169.79 79.12,171.51 79.21,168.69 79.29,175.36 79.38,170.97 79.46,175.49 79.55,175.05 79.64,170.44 79.72,168.86 79.81,175.07 79.90,168.38 79.98,175.85 80.07,171.01 80.15,169.91 80.24,168.11 80.33,171.43 80.41,171.98 80.50,172.74 80.59,172.14 80.67,171.20 80.76,166.39 80.84,176.01 80.93,180.94 81.02,169.73 81.10,170.01 81.19,171.52 81.28,169.82 81.36,172.93 81.45,169.55 81.53,168.99 81.62,163.21 81.71,169.71 81.79,169.20 81.88,171.32 81.96,164.69 82.05,168.68 82.14,175.30 82.22,165.24 82.31,173.27 82.40,176.76 82.48,173.92 82.57,178.00 82.65,168.09 82.74,168.88 82.83,191.43 82.91,167.29 83.00,167.76 83.09,168.73 83.17,168.48 83.26,159.51 83.34,166.16 83.43,165.93 83.52,169.51 83.60,169.99 83.69,175.20 83.78,169.59 83.86,168.82 83.95,169.24 84.03,175.60 84.12,167.25 84.21,174.62 84.29,173.10 84.38,182.86 84.47,176.16 84.55,170.53 84.64,170.77 84.72,165.32 84.81,163.26 84.90,174.57 84.98,172.99 85.07,170.69 85.16,180.39 85.24,165.10 85.33,180.92 85.41,178.48 85.50,175.27 85.59,167.66 85.67,171.04 85.76,173.94 85.85,184.12 85.93,172.83 86.02,179.61 86.10,175.02 86.19,175.63 86.28,167.65 86.36,174.85 86.45,165.95 86.54,165.76 86.62,169.88 86.71,164.96 86.79,172.58 86.88,170.89 86.97,174.73 87.05,173.16 87.14,172.44 87.22,170.41 87.31,170.48 87.40,165.74 87.48,169.96 87.57,172.83 87.66,169.18 87.74,174.28 87.83,179.80 87.91,167.37 88.00,168.70 88.09,171.15 88.17,170.90 88.26,177.03 88.35,158.39 88.43,182.78 88.52,167.73 88.60,173.33 88.69,152.79 88.78,169.07 88.86,181.44 88.95,168.69 89.04,167.06 89.12,176.12 89.21,176.79 89.29,168.87 89.38,174.90 89.47,171.72 89.55,167.78 89.64,169.58 89.73,177.63 89.81,168.48 89.90,169.16 89.98,171.06 90.07,172.41 90.16,171.87 90.24,169.30 90.33,170.87 90.42,172.42 90.50,171.79 90.59,163.96 90.67,169.61 90.76,169.64 90.85,167.13 90.93,166.65 91.02,184.72 91.11,172.52 91.19,170.51 91.28,166.33 91.36,182.73 91.45,171.51 91.54,171.57 91.62,175.67 91.71,172.32 91.79,170.12 91.88,169.59 91.97,177.41 92.05,174.03 92.14,175.77 92.23,167.56 92.31,168.34 92.40,167.99 92.48,176.70 92.57,177.68 92.66,163.02 92.74,176.30 92.83,166.83 92.92,168.88 93.00,163.45 93.09,168.03 93.17,167.60 93.26,169.43 93.35,165.14 93.43,161.06 93.52,171.23 93.61,166.87 93.69,167.19 93.78,165.38 93.86,167.91 93.95,174.40 94.04,175.33 94.12,168.25 94.21,170.60 94.30,167.05 94.38,171.72 94.47,175.03 94.55,171.37 94.64,172.13 94.73,172.23 94.81,176.11 94.90,176.41 94.99,170.25 95.07,171.07 95.16,169.65 95.24,170.69 95.33,171.56 95.42,177.01 95.50,165.90 95.59,163.70 95.68,171.13 95.76,164.75 95.85,169.95 95.93,171.20 96.02,166.03 96.11,172.85 96.19,168.39 96.28,173.30 96.36,175.25 96.45,172.03 96.54,163.04 96.62,167.79 96.71,170.58 96.80,173.15 96.88,173.31 96.97,172.08 97.05,163.13 97.14,168.54 97.23,173.53 97.31,172.29 97.40,194.62 97.49,175.37 97.57,173.18 97.66,165.50 97.74,173.84 97.83,171.09 97.92,169.83 98.00,164.48 98.09,166.66 98.18,179.93 98.26,173.96 98.35,168.70 98.43,160.12 98.52,165.67 98.61,180.04 98.69,172.70 98.78,157.91 98.87,203.75 98.95,185.02 99.04,176.60 99.12,169.30 99.21,165.94 99.30,167.86 99.38,169.50 99.47,174.16 99.56,172.57 99.64,149.00 99.73,175.50 99.81,164.50 99.90,171.04 99.99,174.20 100.07,166.73 100.16,173.71 100.25,166.94 100.33,193.71 100.42,169.08 100.50,175.68 100.59,169.61 100.68,169.17 100.76,166.43 100.85,165.50 100.93,173.91 101.02,165.93 101.11,175.48 101.19,171.94 101.28,166.56 101.37,172.92 101.45,170.36 101.54,170.13 101.62,169.59 101.71,173.49 101.80,154.93 101.88,176.67 101.97,177.53 102.06,170.43 102.14,171.77 102.23,174.20 102.31,182.08 102.40,173.88 102.49,179.10 102.57,176.70 102.66,165.20 102.75,162.31 102.83,180.17 102.92,171.35 103.00,166.59 103.09,178.26 103.18,165.20 103.26,180.44 103.35,171.55 103.44,171.62 103.52,169.70 103.61,166.32 103.69,176.13 103.78,178.75 103.87,168.73 103.95,178.22 104.04,174.82 104.13,178.38 104.21,172.31 104.30,174.87 104.38,177.71 104.47,168.26 104.56,167.25 104.64,175.75 104.73,170.37 104.82,173.74 104.90,178.00 104.99,174.16 105.07,167.50 105.16,171.22 105.25,168.24 105.33,170.43 105.42,176.41 105.51,163.16 105.59,176.31 105.68,176.62 105.76,177.05 105.85,172.28 105.94,173.58 106.02,174.36 106.11,188.45 106.19,175.01 106.28,167.95 106.37,169.14 106.45,168.96 106.54,170.03 106.63,162.02 106.71,162.37 106.80,175.41 106.88,171.65 106.97,177.96 107.06,165.50 107.14,172.50 107.23,167.78 107.32,170.09 107.40,165.58 107.49,174.77 107.57,173.54 107.66,169.77 107.75,171.65 107.83,172.33 107.92,175.49 108.01,174.04 108.09,169.74 108.18,175.30 108.26,175.64 108.35,174.34 108.44,165.03 108.52,171.81 108.61,168.68 108.70,171.76 108.78,167.50 108.87,164.79 108.95,173.15 109.04,176.66 109.13,173.58 109.21,168.73 109.30,176.59 109.39,167.62 109.47,172.25 109.56,163.82 109.64,156.57 109.73,176.67 109.82,167.26 109.90,165.08 109.99,166.62 110.08,173.14 110.16,173.18 110.25,170.11 110.33,171.55 110.42,173.56 110.51,169.78 110.59,171.12 110.68,174.50 110.76,170.73 110.85,169.05 110.94,170.41 111.02,175.31 111.11,171.80 111.20,179.92 111.28,171.33 111.37,174.74 111.45,165.24 111.54,173.10 111.63,169.69 111.71,170.36 111.80,177.78 111.89,168.25 111.97,172.02 112.06,173.26 112.14,173.42 112.23,175.38 112.32,168.73 112.40,169.03 112.49,171.93 112.58,183.11 112.66,173.20 112.75,175.10 112.83,165.45 112.92,175.18 113.01,180.27 113.09,168.59 113.18,175.50 113.27,176.50 113.35,178.15 113.44,167.86 113.52,187.32 113.61,173.21 113.70,173.44 113.78,169.21 113.87,169.61 113.96,170.54 114.04,170.80 114.13,169.73 114.21,166.95 114.30,171.02 114.39,164.90 114.47,174.43 114.56,170.43 114.65,170.04 114.73,171.91 114.82,172.05 114.90,168.28 114.99,168.77 115.08,172.79 115.16,173.07 115.25,167.78 115.33,165.38 115.42,170.78 115.51,169.59 115.59,169.83 115.68,170.96 115.77,173.30 115.85,173.36 115.94,163.29 116.02,172.93 116.11,170.46 116.20,171.56 116.28,170.23 116.37,169.74 116.46,157.21 116.54,173.40 116.63,176.72 116.71,179.62 116.80,172.84 116.89,175.10 116.97,170.73 117.06,166.14 117.15,173.41 117.23,172.72 117.32,173.60 117.40,163.53 117.49,173.52 117.58,178.46 117.66,171.29 117.75,167.01 117.84,170.14 117.92,168.72 118.01,167.17 118.09,171.52 118.18,175.52 118.27,180.90 118.35,169.01 118.44,169.67 118.53,163.31 118.61,173.96 118.70,163.47 118.78,174.84 118.87,173.76 118.96,169.56 119.04,167.44 119.13,168.57 119.22,166.16 119.30,171.49 119.39,170.34 119.47,178.60 119.56,167.70 119.65,173.12 119.73,155.30 119.82,177.04 119.90,175.92 119.99,185.52 120.08,171.14 120.16,171.43 120.25,173.95 120.34,169.09 120.42,173.79 120.51,169.95 120.59,167.30 120.68,169.92 120.77,166.34 120.85,172.78 120.94,169.96 121.03,169.82 121.11,164.93 121.20,167.38 121.28,172.00 121.37,171.03 121.46,167.80 121.54,171.58 121.63,166.83 121.72,171.93 121.80,168.94 121.89,171.68 121.97,174.62 122.06,163.87 122.15,171.75 122.23,167.74 122.32,174.90 122.41,165.11 122.49,168.19 122.58,171.11 122.66,168.08 122.75,173.96 122.84,168.10 122.92,172.42 123.01,169.45 123.10,170.65 123.18,176.73 123.27,171.61 123.35,169.96 123.44,172.97 123.53,165.79 123.61,167.62 123.70,170.67 123.79,168.09 123.87,173.31 123.96,171.84 124.04,174.37 124.13,183.39 124.22,162.42 124.30,173.42 124.39,170.38 124.47,166.45 124.56,171.08 124.65,169.45 124.73,167.99 124.82,174.35 124.91,171.44 124.99,173.92 125.08,168.60 125.16,168.40 125.25,186.87 125.34,169.80 125.42,169.27 125.51,168.28 125.60,172.93 125.68,177.44 125.77,169.98 125.85,171.37 125.94,175.77 126.03,170.40 126.11,170.98 126.20,174.75 126.29,168.48 126.37,182.22 126.46,172.28 126.54,164.56 126.63,175.27 126.72,174.27 126.80,171.31 126.89,166.16 126.98,169.25 127.06,170.85 127.15,175.51 127.23,177.66 127.32,164.74 127.41,174.71 127.49,168.40 127.58,165.36 127.67,168.68 127.75,167.91 127.84,168.09 127.92,177.65 128.01,168.30 128.10,170.85 128.18,188.24 128.27,172.12 128.36,166.83 128.44,170.25 128.53,174.69 128.61,174.72 128.70,165.84 128.79,175.48 128.87,169.51 128.96,165.42 129.05,172.52 129.13,168.44 129.22,169.61 129.30,168.60 129.39,173.35 129.48,175.63 129.56,173.01 129.65,170.15 129.73,167.58 129.82,170.90 129.91,175.93 129.99,169.38 130.08,167.81 130.17,176.34 130.25,170.89 130.34,170.97 130.42,177.74 130.51,170.37 130.60,165.35 130.68,172.80 130.77,170.40 130.86,169.14 130.94,166.76 131.03,171.12 131.11,177.11 131.20,169.58 131.29,163.18 131.37,172.00 131.46,168.98 131.55,170.09 131.63,173.26 131.72,171.06 131.80,170.82 131.89,168.13 131.98,166.42 132.06,163.95 132.15,172.59 132.24,171.46 132.32,171.63 132.41,173.57 132.49,176.46 132.58,175.61 132.67,172.17 132.75,173.08 132.84,164.60 132.93,171.53 133.01,167.64 133.10,172.28 133.18,159.31 133.27,173.21 133.36,176.82 133.44,170.91 133.53,174.74 133.62,162.01 133.70,167.91 133.79,175.42 133.87,170.36 133.96,172.24 134.05,156.30 134.13,170.00 134.22,161.32 134.30,178.81 134.39,169.61 134.48,175.91 134.56,175.01 134.65,169.69 134.74,164.93 134.82,174.69 134.91,175.48 134.99,169.06 135.08,177.94 135.17,173.96 135.25,158.86 135.34,164.67 135.43,179.16 135.51,162.95 135.60,175.54 135.68,171.41 135.77,174.72 135.86,171.45 135.94,172.07 136.03,161.96 136.12,170.98 136.20,153.79 136.29,189.56 136.37,168.62 136.46,171.56 136.55,169.82 136.63,166.74 136.72,176.37 136.81,168.75 136.89,168.96 136.98,191.43 137.06,175.98 137.15,175.09 137.24,161.19 137.32,169.99 137.41,176.04 137.50,180.26 137.58,161.04 137.67,167.64 137.75,166.52 137.84,174.20 137.93,174.33 138.01,169.22 138.10,169.30 138.19,165.62 138.27,170.77 138.36,171.35 138.44,171.09 138.53,170.83 138.62,171.98 138.70,168.81 138.79,169.90 138.87,170.65 138.96,172.23 139.05,169.32 139.13,171.31 139.22,181.88 139.31,179.16 139.39,173.28 139.48,166.83 139.56,176.24 139.65,165.03 139.74,168.47 139.82,177.18 139.91,192.80 140.00,172.70 140.08,164.61 140.17,171.09 140.25,168.20 140.34,173.05 140.43,189.87 140.51,160.77 140.60,176.07 140.69,172.95 140.77,169.72 140.86,185.02 140.94,168.90 141.03,176.62 141.12,162.04 141.20,174.94 141.29,173.48 141.38,174.51 141.46,163.65 141.55,178.63 141.63,171.63 141.72,168.77 141.81,171.10 141.89,177.26 141.98,175.91 142.07,182.39 142.15,173.72 142.24,174.80 142.32,170.61 142.41,169.77 142.50,161.35 142.58,169.34 142.67,165.36 142.76,176.12 142.84,191.43 142.93,171.12 143.01,168.55 143.10,173.50 143.19,170.78 143.27,173.12 143.36,167.91 143.44,168.49 143.53,173.84 143.62,171.88 143.70,170.59 143.79,181.03 143.88,172.65 143.96,164.80 144.05,162.83 144.13,175.70 144.22,169.90 144.31,168.13 144.39,171.00 144.48,177.97 144.57,167.69 144.65,178.00 144.74,172.41 144.82,165.17 144.91,165.22 145.00,168.62 145.08,169.48 145.17,173.16 145.26,174.21 145.34,173.15 145.43,166.49 145.51,166.02 145.60,183.29 145.69,170.87 145.77,155.39 145.86,171.44 145.95,173.34 146.03,175.85 146.12,177.30 146.20,172.21 146.29,154.88 146.38,168.67 146.46,168.19 146.55,178.35 146.64,176.22 146.72,169.60 146.81,165.85 146.89,166.36 146.98,177.62 147.07,184.92 147.15,171.31 147.24,167.00 147.33,168.05 147.41,163.48 147.50,171.80 147.58,171.18 147.67,166.94 147.76,165.74 147.84,170.20 147.93,174.24 148.02,170.54 148.10,175.40 148.19,170.57 148.27,170.83 148.36,174.14 148.45,166.29 148.53,170.11 148.62,161.73 148.70,190.06 148.79,162.35 148.88,160.94 148.96,173.18 149.05,178.95 149.14,164.46 149.22,165.81 149.31,163.97 149.39,169.88 149.48,174.09 149.57,169.78 149.65,167.64 149.74,172.19 149.83,170.49 149.91,161.54 150.00,171.91 150.08,171.57 150.17,170.29 150.26,173.90 150.34,175.27 150.43,165.90 150.52,168.16 150.60,168.67 150.69,172.20 150.77,175.35 150.86,169.82 150.95,164.74 151.03,165.89 151.12,172.96 151.21,171.92 151.29,166.65 151.38,166.49 151.46,171.67 151.55,175.89 151.64,191.89 151.72,176.11 151.81,175.19 151.90,165.41 151.98,164.89 152.07,168.04 152.15,165.48 152.24,172.06 152.33,182.67 152.41,173.90 152.50,165.85 152.59,179.62 152.67,169.77 152.76,171.54 152.84,171.94 152.93,169.63 153.02,174.78 153.10,171.29 153.19,172.38 153.27,176.51 153.36,169.21 153.45,174.60 153.53,176.52 153.62,174.33 153.71,174.98 153.79,169.86 153.88,173.31 153.96,175.14 154.05,170.35 154.14,160.10 154.22,171.01 154.31,168.98 154.40,169.27 154.48,176.32 154.57,152.65 154.65,162.86 154.74,166.47 154.83,175.62 154.91,172.00 155.00,170.67 155.09,168.98 155.17,171.07 155.26,173.85 155.34,170.67 155.43,172.53 155.52,158.40 155.60,173.03 155.69,175.06 155.78,163.01 155.86,158.85 155.95,165.83 156.03,148.09 156.12,173.90 156.21,166.70 156.29,168.60 156.38,172.51 156.47,175.06 156.55,173.06 156.64,174.45 156.72,169.98 156.81,191.43 156.90,165.85 156.98,170.61 157.07,171.63 157.16,172.84 157.24,173.38 157.33,176.50 157.41,171.95 157.50,175.51" fill="none" stroke="#3566B2" stroke-width="0.72" stroke-linejoin="round"/>
<text transform="translate(72.15,124.00) rotate(0.03)" textLength="24.20" lengthAdjust="spacingAndGlyphs" font-size="6.7" fill="#15171c" stroke="#15171c" stroke-width="0.2">Vietnam</text>
<text transform="translate(8.40,135.83) rotate(0.03) scale(0.88,1)" text-anchor="end" font-size="6.1" fill="#111" stroke="#111" stroke-width="0.24">8</text>
<text transform="translate(8.40,154.08) rotate(0.03) scale(0.88,1)" text-anchor="end" font-size="6.1" fill="#111" stroke="#111" stroke-width="0.24">4</text>
<text transform="translate(8.40,172.33) rotate(0.03) scale(0.88,1)" text-anchor="end" font-size="6.1" fill="#111" stroke="#111" stroke-width="0.24">0</text>
<text transform="translate(8.40,190.58) rotate(0.03) scale(0.88,1)" text-anchor="end" font-size="6.1" fill="#111" stroke="#111" stroke-width="0.24">-4</text>
<text transform="translate(8.40,208.83) rotate(0.03) scale(0.88,1)" text-anchor="end" font-size="6.1" fill="#111" stroke="#111" stroke-width="0.24">-8</text>
<text transform="translate(20.55,217.10) rotate(-59) scale(0.96,1)" text-anchor="middle" y="1.95" font-size="5.5" fill="#000" stroke="#000" stroke-width="0.1">18Q3</text>
<text transform="translate(35.91,217.10) rotate(-59) scale(0.96,1)" text-anchor="middle" y="1.95" font-size="5.5" fill="#000" stroke="#000" stroke-width="0.1">19Q1</text>
<text transform="translate(51.27,217.10) rotate(-59) scale(0.96,1)" text-anchor="middle" y="1.95" font-size="5.5" fill="#000" stroke="#000" stroke-width="0.1">19Q3</text>
<text transform="translate(66.63,217.10) rotate(-59) scale(0.96,1)" text-anchor="middle" y="1.95" font-size="5.5" fill="#000" stroke="#000" stroke-width="0.1">20Q1</text>
<text transform="translate(81.99,217.10) rotate(-59) scale(0.96,1)" text-anchor="middle" y="1.95" font-size="5.5" fill="#000" stroke="#000" stroke-width="0.1">20Q3</text>
<text transform="translate(97.35,217.10) rotate(-59) scale(0.96,1)" text-anchor="middle" y="1.95" font-size="5.5" fill="#000" stroke="#000" stroke-width="0.1">21Q1</text>
<text transform="translate(112.71,217.10) rotate(-59) scale(0.96,1)" text-anchor="middle" y="1.95" font-size="5.5" fill="#000" stroke="#000" stroke-width="0.1">21Q3</text>
<text transform="translate(128.07,217.10) rotate(-59) scale(0.96,1)" text-anchor="middle" y="1.95" font-size="5.5" fill="#000" stroke="#000" stroke-width="0.1">22Q1</text>
<text transform="translate(143.43,217.10) rotate(-59) scale(0.96,1)" text-anchor="middle" y="1.95" font-size="5.5" fill="#000" stroke="#000" stroke-width="0.1">22Q3</text>
</g>
<g>
<line x1="186.80" x2="333.30" y1="149.00" y2="149.00" stroke="#f3f3f3" stroke-width="0.6"/>
<line x1="186.80" x2="333.30" y1="163.60" y2="163.60" stroke="#f3f3f3" stroke-width="0.6"/>
<line x1="186.80" x2="333.30" y1="178.20" y2="178.20" stroke="#f3f3f3" stroke-width="0.6"/>
<line x1="186.80" x2="333.30" y1="192.80" y2="192.80" stroke="#f3f3f3" stroke-width="0.6"/>
<line x1="186.80" x2="333.30" y1="207.40" y2="207.40" stroke="#e6e6e6" stroke-width="0.6"/>
<line x1="196.20" x2="196.20" y1="134.40" y2="207.40" stroke="#efefef" stroke-width="0.6"/>
<line x1="226.60" x2="226.60" y1="134.40" y2="207.40" stroke="#efefef" stroke-width="0.6"/>
<line x1="257.00" x2="257.00" y1="134.40" y2="207.40" stroke="#efefef" stroke-width="0.6"/>
<line x1="287.40" x2="287.40" y1="134.40" y2="207.40" stroke="#efefef" stroke-width="0.6"/>
<rect x="242.80" y="134.40" width="89.50" height="73.00" fill="#FF9128"/>
<rect x="308.25" y="134.40" width="25.05" height="73.00" fill="#8CFC1E"/>
<line x1="242.80" x2="333.30" y1="149.00" y2="149.00" stroke="#fff" stroke-opacity="0.28" stroke-width="0.6"/>
<line x1="242.80" x2="333.30" y1="163.60" y2="163.60" stroke="#fff" stroke-opacity="0.28" stroke-width="0.6"/>
<line x1="242.80" x2="333.30" y1="178.20" y2="178.20" stroke="#fff" stroke-opacity="0.28" stroke-width="0.6"/>
<line x1="242.80" x2="333.30" y1="192.80" y2="192.80" stroke="#fff" stroke-opacity="0.28" stroke-width="0.6"/>
<line x1="257.00" x2="257.00" y1="134.40" y2="207.40" stroke="#fff" stroke-opacity="0.38" stroke-width="0.6"/>
<line x1="287.40" x2="287.40" y1="134.40" y2="207.40" stroke="#fff" stroke-opacity="0.38" stroke-width="0.6"/>
<polyline points="186.80,180.48 186.89,177.08 186.97,180.40 187.06,178.88 187.14,175.31 187.23,176.90 187.32,182.40 187.40,176.70 187.49,180.25 187.58,176.03 187.66,179.19 187.75,178.30 187.83,175.92 187.92,178.20 188.01,180.93 188.09,177.21 188.18,181.62 188.27,182.95 188.35,178.51 188.44,179.82 188.52,176.56 188.61,178.43 188.70,175.47 188.78,174.24 188.87,182.65 188.96,175.84 189.04,178.42 189.13,176.09 189.21,179.27 189.30,179.64 189.39,183.86 189.47,178.46 189.56,183.02 189.65,180.44 189.73,173.26 189.82,175.12 189.90,177.76 189.99,172.49 190.08,176.02 190.16,178.17 190.25,180.45 190.34,174.81 190.42,174.63 190.51,169.23 190.59,177.01 190.68,180.41 190.77,177.11 190.85,182.14 190.94,178.97 191.03,176.54 191.11,178.50 191.20,179.34 191.28,178.38 191.37,186.97 191.46,179.99 191.54,180.76 191.63,179.85 191.71,180.19 191.80,165.35 191.89,187.54 191.97,179.12 192.06,179.90 192.15,177.69 192.23,167.04 192.32,177.19 192.40,178.42 192.49,180.47 192.58,177.00 192.66,169.44 192.75,179.77 192.84,178.84 192.92,177.96 193.01,179.99 193.09,180.87 193.18,175.70 193.27,179.50 193.35,179.14 193.44,175.19 193.53,176.48 193.61,178.05 193.70,180.01 193.78,180.75 193.87,175.67 193.96,180.58 194.04,178.69 194.13,177.89 194.22,179.73 194.30,181.30 194.39,174.21 194.47,180.50 194.56,179.82 194.65,183.19 194.73,175.34 194.82,177.20 194.91,179.66 194.99,175.07 195.08,174.53 195.16,178.47 195.25,180.20 195.34,176.27 195.42,175.31 195.51,177.84 195.60,180.56 195.68,178.78 195.77,181.28 195.85,179.40 195.94,169.26 196.03,178.33 196.11,177.56 196.20,178.93 196.28,181.12 196.37,181.31 196.46,176.49 196.54,176.70 196.63,178.91 196.72,178.35 196.80,172.69 196.89,174.08 196.97,177.66 197.06,191.34 197.15,175.88 197.23,177.62 197.32,178.77 197.41,179.41 197.49,174.86 197.58,176.21 197.66,173.56 197.75,181.12 197.84,176.55 197.92,177.06 198.01,184.40 198.10,176.33 198.18,176.37 198.27,179.16 198.35,176.97 198.44,180.17 198.53,178.51 198.61,184.00 198.70,176.36 198.79,176.76 198.87,177.67 198.96,175.81 199.04,180.69 199.13,178.42 199.22,176.70 199.30,177.56 199.39,179.97 199.48,174.56 199.56,174.95 199.65,178.45 199.73,171.13 199.82,179.66 199.91,180.41 199.99,192.80 200.08,182.25 200.17,177.55 200.25,180.97 200.34,173.08 200.42,175.10 200.51,175.23 200.60,175.27 200.68,181.84 200.77,184.40 200.86,179.06 200.94,176.43 201.03,178.13 201.11,176.42 201.20,179.61 201.29,178.62 201.37,183.39 201.46,178.40 201.54,180.14 201.63,173.88 201.72,177.29 201.80,175.28 201.89,182.68 201.98,173.80 202.06,181.36 202.15,179.29 202.23,178.98 202.32,180.80 202.41,178.04 202.49,181.34 202.58,178.89 202.67,178.05 202.75,178.90 202.84,180.24 202.92,177.05 203.01,179.30 203.10,178.91 203.18,178.35 203.27,178.91 203.36,177.87 203.44,182.35 203.53,175.70 203.61,180.94 203.70,179.43 203.79,174.91 203.87,177.19 203.96,177.65 204.05,183.45 204.13,179.30 204.22,179.04 204.30,177.24 204.39,176.10 204.48,182.47 204.56,176.82 204.65,180.47 204.74,178.29 204.82,179.04 204.91,180.34 204.99,183.89 205.08,181.54 205.17,176.70 205.25,177.78 205.34,169.96 205.43,178.94 205.51,174.94 205.60,183.07 205.68,181.19 205.77,178.77 205.86,178.61 205.94,178.10 206.03,177.55 206.11,181.89 206.20,178.15 206.29,175.71 206.37,174.00 206.46,176.36 206.55,180.79 206.63,178.00 206.72,178.93 206.80,173.73 206.89,181.54 206.98,178.18 207.06,175.02 207.15,180.84 207.24,178.55 207.32,187.69 207.41,177.94 207.49,177.53 207.58,178.90 207.67,179.73 207.75,176.58 207.84,180.70 207.93,177.47 208.01,175.04 208.10,177.40 208.18,177.61 208.27,180.18 208.36,178.05 208.44,180.46 208.53,174.89 208.62,178.94 208.70,177.50 208.79,176.92 208.87,174.44 208.96,181.42 209.05,176.97 209.13,179.85 209.22,178.47 209.31,177.40 209.39,176.49 209.48,170.75 209.56,179.31 209.65,181.11 209.74,173.96 209.82,179.76 209.91,171.46 210.00,178.59 210.08,176.77 210.17,179.31 210.25,178.38 210.34,177.66 210.43,177.84 210.51,178.54 210.60,178.72 210.68,178.03 210.77,178.40 210.86,176.40 210.94,176.90 211.03,180.35 211.12,178.12 211.20,178.16 211.29,177.53 211.37,180.14 211.46,177.45 211.55,178.57 211.63,178.32 211.72,178.34 211.81,178.31 211.89,175.97 211.98,178.29 212.06,177.62 212.15,177.32 212.24,175.84 212.32,181.70 212.41,181.25 212.50,177.88 212.58,176.48 212.67,180.61 212.75,176.96 212.84,179.37 212.93,177.60 213.01,179.17 213.10,178.54 213.19,176.82 213.27,174.08 213.36,179.01 213.44,182.20 213.53,177.42 213.62,173.05 213.70,178.51 213.79,176.37 213.88,180.05 213.96,179.19 214.05,176.16 214.13,178.81 214.22,177.95 214.31,175.76 214.39,180.95 214.48,179.60 214.57,177.27 214.65,177.06 214.74,180.87 214.82,180.16 214.91,177.61 215.00,178.69 215.08,178.46 215.17,175.79 215.25,171.12 215.34,181.52 215.43,178.07 215.51,178.77 215.60,177.60 215.69,182.34 215.77,179.05 215.86,178.17 215.94,179.62 216.03,177.18 216.12,181.97 216.20,176.86 216.29,179.19 216.38,179.52 216.46,176.91 216.55,179.47 216.63,177.05 216.72,177.89 216.81,176.82 216.89,176.35 216.98,177.36 217.07,178.42 217.15,176.81 217.24,177.35 217.32,178.37 217.41,175.45 217.50,178.08 217.58,178.36 217.67,176.20 217.76,175.14 217.84,176.68 217.93,177.20 218.01,176.96 218.10,175.72 218.19,182.50 218.27,177.22 218.36,176.48 218.45,175.13 218.53,180.52 218.62,176.69 218.70,180.07 218.79,173.28 218.88,179.13 218.96,175.85 219.05,182.54 219.14,177.19 219.22,179.16 219.31,177.06 219.39,180.04 219.48,176.83 219.57,180.39 219.65,177.80 219.74,180.05 219.83,171.86 219.91,176.81 220.00,180.46 220.08,177.96 220.17,180.31 220.26,176.75 220.34,181.61 220.43,175.89 220.51,177.28 220.60,178.34 220.69,177.00 220.77,177.76 220.86,177.27 220.95,176.29 221.03,176.59 221.12,180.09 221.20,180.51 221.29,176.81 221.38,179.35 221.46,178.96 221.55,180.02 221.64,180.80 221.72,177.58 221.81,175.49 221.89,176.86 221.98,170.17 222.07,177.93 222.15,176.40 222.24,178.73 222.33,178.28 222.41,178.74 222.50,176.88 222.58,179.08 222.67,176.25 222.76,180.66 222.84,179.29 222.93,176.50 223.02,176.73 223.10,177.58 223.19,180.73 223.27,177.92 223.36,179.37 223.45,178.75 223.53,176.58 223.62,175.28 223.71,177.29 223.79,179.87 223.88,179.43 223.96,178.70 224.05,177.84 224.14,177.02 224.22,173.67 224.31,177.03 224.40,178.63 224.48,175.65 224.57,177.90 224.65,178.40 224.74,179.18 224.83,178.07 224.91,177.62 225.00,177.57 225.08,177.78 225.17,177.40 225.26,180.94 225.34,179.28 225.43,179.31 225.52,177.67 225.60,179.39 225.69,177.35 225.77,180.42 225.86,177.27 225.95,179.07 226.03,177.43 226.12,177.47 226.21,179.61 226.29,180.74 226.38,179.30 226.46,176.51 226.55,179.24 226.64,178.38 226.72,177.52 226.81,180.06 226.90,178.87 226.98,176.16 227.07,181.54 227.15,177.02 227.24,176.62 227.33,181.99 227.41,176.40 227.50,172.98 227.59,177.42 227.67,177.36 227.76,178.12 227.84,174.36 227.93,175.78 228.02,178.47 228.10,178.53 228.19,182.35 228.28,178.23 228.36,175.76 228.45,178.74 228.53,178.46 228.62,173.90 228.71,178.94 228.79,180.60 228.88,177.53 228.97,176.72 229.05,179.36 229.14,182.89 229.22,179.91 229.31,189.15 229.40,179.01 229.48,174.85 229.57,180.19 229.65,178.36 229.74,179.30 229.83,176.37 229.91,176.73 230.00,179.11 230.09,176.93 230.17,175.88 230.26,175.67 230.34,176.82 230.43,177.01 230.52,181.18 230.60,176.96 230.69,181.59 230.78,175.28 230.86,178.56 230.95,179.70 231.03,178.68 231.12,177.66 231.21,176.93 231.29,178.15 231.38,178.52 231.47,181.40 231.55,178.73 231.64,182.83 231.72,177.85 231.81,177.94 231.90,177.98 231.98,176.47 232.07,180.58 232.16,176.03 232.24,183.01 232.33,179.20 232.41,177.28 232.50,180.15 232.59,180.37 232.67,175.43 232.76,176.31 232.85,175.71 232.93,178.45 233.02,177.56 233.10,177.81 233.19,178.82 233.28,176.54 233.36,177.85 233.45,177.87 233.54,178.17 233.62,179.53 233.71,178.91 233.79,175.99 233.88,180.20 233.97,177.40 234.05,177.11 234.14,174.68 234.22,178.31 234.31,175.74 234.40,185.97 234.48,172.46 234.57,174.61 234.66,174.97 234.74,178.50 234.83,176.56 234.91,181.71 235.00,183.10 235.09,180.34 235.17,186.23 235.26,179.19 235.35,177.76 235.43,175.81 235.52,179.95 235.60,180.62 235.69,177.23 235.78,178.82 235.86,183.65 235.95,176.36 236.04,179.66 236.12,179.31 236.21,178.59 236.29,177.69 236.38,177.29 236.47,178.92 236.55,177.63 236.64,179.28 236.73,174.84 236.81,175.08 236.90,176.21 236.98,176.77 237.07,178.69 237.16,180.75 237.24,178.54 237.33,176.12 237.42,178.68 237.50,174.71 237.59,180.25 237.67,178.13 237.76,178.33 237.85,175.80 237.93,176.15 238.02,180.41 238.11,182.91 238.19,180.46 238.28,176.17 238.36,176.69 238.45,173.82 238.54,178.50 238.62,175.20 238.71,178.13 238.79,177.50 238.88,178.71 238.97,174.84 239.05,177.51 239.14,176.59 239.23,177.37 239.31,176.38 239.40,176.56 239.48,177.12 239.57,176.04 239.66,179.14 239.74,177.87 239.83,179.53 239.92,178.14 240.00,178.37 240.09,180.24 240.17,180.48 240.26,178.51 240.35,177.87 240.43,181.79 240.52,179.22 240.61,177.50 240.69,179.07 240.78,176.61 240.86,179.05 240.95,178.56 241.04,176.28 241.12,180.22 241.21,179.49 241.30,176.02 241.38,176.90 241.47,180.50 241.55,180.11 241.64,178.42 241.73,178.14 241.81,177.39 241.90,174.43 241.99,179.15 242.07,177.14 242.16,175.53 242.24,177.66 242.33,179.14 242.42,175.39 242.50,177.11 242.59,179.78 242.68,175.62 242.76,180.29 242.85,178.35 242.93,181.39 243.02,177.70 243.11,178.20 243.19,170.19 243.28,180.99 243.37,176.42 243.45,176.96 243.54,173.91 243.62,175.06 243.71,180.07 243.80,180.78 243.88,176.68 243.97,174.42 244.05,173.15 244.14,177.87 244.23,181.80 244.31,177.05 244.40,178.05 244.49,181.49 244.57,183.12 244.66,176.70 244.74,179.70 244.83,187.25 244.92,175.15 245.00,182.44 245.09,175.99 245.18,185.80 245.26,181.22 245.35,175.06 245.43,173.95 245.52,177.70 245.61,180.00 245.69,176.88 245.78,176.43 245.87,178.08 245.95,183.97 246.04,175.30 246.12,198.28 246.21,177.01 246.30,180.40 246.38,178.40 246.47,177.54 246.56,176.56 246.64,174.32 246.73,173.08 246.81,180.57 246.90,196.45 246.99,179.91 247.07,177.01 247.16,182.83 247.25,179.29 247.33,176.63 247.42,185.54 247.50,182.50 247.59,203.75 247.68,165.46 247.76,175.90 247.85,174.19 247.94,176.34 248.02,177.57 248.11,176.07 248.19,180.30 248.28,180.08 248.37,200.10 248.45,174.24 248.54,177.31 248.62,192.43 248.71,191.90 248.80,179.50 248.88,176.76 248.97,177.87 249.06,143.53 249.14,175.90 249.23,179.85 249.31,176.38 249.40,179.34 249.49,180.64 249.57,184.93 249.66,182.94 249.75,178.96 249.83,163.60 249.92,174.53 250.00,170.18 250.09,182.61 250.18,177.13 250.26,177.05 250.35,178.57 250.44,181.91 250.52,165.43 250.61,173.24 250.69,188.60 250.78,168.23 250.87,175.49 250.95,186.37 251.04,172.38 251.13,176.70 251.21,180.28 251.30,192.80 251.38,174.23 251.47,182.43 251.56,179.61 251.64,178.30 251.73,186.91 251.82,174.43 251.90,183.12 251.99,175.44 252.07,184.31 252.16,174.72 252.25,180.09 252.33,173.54 252.42,173.06 252.51,179.26 252.59,187.60 252.68,181.52 252.76,175.98 252.85,173.69 252.94,175.82 253.02,175.42 253.11,180.50 253.19,174.14 253.28,171.11 253.37,181.37 253.45,180.42 253.54,183.43 253.63,185.65 253.71,178.09 253.80,186.48 253.88,178.37 253.97,177.31 254.06,177.01 254.14,185.81 254.23,176.23 254.32,184.72 254.40,184.23 254.49,176.59 254.57,174.61 254.66,180.76 254.75,183.79 254.83,180.58 254.92,176.48 255.01,173.94 255.09,177.14 255.18,170.88 255.26,192.27 255.35,180.69 255.44,180.91 255.52,167.08 255.61,176.28 255.70,167.25 255.78,184.07 255.87,177.71 255.95,179.50 256.04,185.85 256.13,179.09 256.21,179.44 256.30,179.39 256.39,183.28 256.47,178.05 256.56,178.85 256.64,175.17 256.73,182.28 256.82,177.32 256.90,185.79 256.99,175.60 257.08,172.35 257.16,172.32 257.25,176.45 257.33,176.79 257.42,179.76 257.51,170.86 257.59,174.44 257.68,181.28 257.76,179.27 257.85,177.43 257.94,178.72 258.02,176.78 258.11,181.27 258.20,177.39 258.28,182.30 258.37,176.64 258.45,180.59 258.54,177.98 258.63,181.58 258.71,175.61 258.80,179.47 258.89,179.53 258.97,174.90 259.06,178.93 259.14,181.35 259.23,179.66 259.32,179.31 259.40,177.19 259.49,177.48 259.58,176.53 259.66,176.74 259.75,178.00 259.83,176.39 259.92,181.43 260.01,177.26 260.09,178.38 260.18,179.79 260.27,174.80 260.35,181.33 260.44,177.15 260.52,182.04 260.61,173.64 260.70,175.09 260.78,180.95 260.87,175.23 260.96,182.51 261.04,176.22 261.13,182.02 261.21,179.91 261.30,173.67 261.39,180.11 261.47,168.71 261.56,179.55 261.65,178.87 261.73,179.89 261.82,178.12 261.90,174.58 261.99,177.62 262.08,180.03 262.16,178.85 262.25,179.86 262.34,177.99 262.42,177.88 262.51,180.16 262.59,180.92 262.68,177.56 262.77,175.34 262.85,184.84 262.94,197.18 263.02,178.97 263.11,178.74 263.20,176.40 263.28,177.07 263.37,176.71 263.46,175.35 263.54,177.11 263.63,176.19 263.71,187.65 263.80,178.09 263.89,180.48 263.97,179.23 264.06,179.92 264.15,179.27 264.23,175.66 264.32,175.62 264.40,178.69 264.49,177.71 264.58,182.29 264.66,176.81 264.75,176.60 264.84,179.53 264.92,177.85 265.01,181.97 265.09,180.21 265.18,177.44 265.27,172.92 265.35,177.13 265.44,176.70 265.53,177.28 265.61,173.61 265.70,174.72 265.78,178.27 265.87,182.79 265.96,178.60 266.04,185.44 266.13,174.55 266.22,178.97 266.30,177.05 266.39,175.10 266.47,175.45 266.56,181.67 266.65,182.13 266.73,181.44 266.82,181.60 266.91,175.60 266.99,177.43 267.08,177.05 267.16,179.09 267.25,175.67 267.34,177.72 267.42,175.77 267.51,180.81 267.59,180.45 267.68,176.57 267.77,175.92 267.85,178.48 267.94,178.94 268.03,179.28 268.11,174.04 268.20,175.91 268.28,177.77 268.37,175.88 268.46,177.62 268.54,177.94 268.63,177.08 268.72,178.88 268.80,180.88 268.89,177.00 268.97,177.72 269.06,178.99 269.15,178.69 269.23,180.33 269.32,177.74 269.41,177.73 269.49,179.68 269.58,180.22 269.66,180.64 269.75,179.03 269.84,179.24 269.92,179.69 270.01,179.36 270.10,184.86 270.18,179.21 270.27,189.15 270.35,183.14 270.44,176.59 270.53,180.72 270.61,174.92 270.70,176.94 270.79,180.91 270.87,176.64 270.96,179.22 271.04,175.01 271.13,179.26 271.22,176.07 271.30,173.93 271.39,178.63 271.48,176.99 271.56,179.88 271.65,176.08 271.73,181.95 271.82,177.25 271.91,177.12 271.99,175.64 272.08,175.02 272.16,176.78 272.25,172.74 272.34,181.01 272.42,179.20 272.51,179.01 272.60,173.86 272.68,174.91 272.77,179.06 272.85,181.03 272.94,180.72 273.03,177.13 273.11,183.86 273.20,178.48 273.29,178.31 273.37,177.89 273.46,175.07 273.54,184.61 273.63,178.32 273.72,179.81 273.80,177.82 273.89,177.64 273.98,175.74 274.06,180.67 274.15,179.77 274.23,172.26 274.32,178.99 274.41,176.81 274.49,179.47 274.58,176.96 274.67,165.43 274.75,179.24 274.84,177.19 274.92,184.04 275.01,175.84 275.10,179.90 275.18,174.57 275.27,176.05 275.36,179.95 275.44,179.76 275.53,178.40 275.61,177.13 275.70,180.63 275.79,180.51 275.87,174.25 275.96,176.48 276.05,178.79 276.13,177.09 276.22,175.64 276.30,180.55 276.39,180.30 276.48,177.88 276.56,178.12 276.65,176.65 276.73,179.53 276.82,179.37 276.91,181.13 276.99,181.92 277.08,182.61 277.17,175.60 277.25,179.63 277.34,177.46 277.42,180.41 277.51,174.47 277.60,177.65 277.68,178.30 277.77,176.64 277.86,178.61 277.94,179.86 278.03,175.73 278.11,178.73 278.20,179.06 278.29,178.80 278.37,175.30 278.46,177.34 278.55,176.30 278.63,179.48 278.72,175.98 278.80,177.64 278.89,179.14 278.98,181.54 279.06,178.67 279.15,179.23 279.24,178.39 279.32,179.18 279.41,179.81 279.49,178.12 279.58,177.76 279.67,179.14 279.75,179.63 279.84,176.42 279.93,175.52 280.01,175.99 280.10,177.52 280.18,177.72 280.27,179.53 280.36,178.76 280.44,176.42 280.53,177.18 280.62,176.26 280.70,176.06 280.79,176.08 280.87,180.81 280.96,176.27 281.05,172.24 281.13,176.11 281.22,179.65 281.31,178.28 281.39,177.44 281.48,173.79 281.56,178.94 281.65,172.73 281.74,179.75 281.82,176.26 281.91,182.60 281.99,180.21 282.08,182.33 282.17,178.96 282.25,178.24 282.34,179.01 282.43,179.58 282.51,182.99 282.60,176.37 282.68,181.32 282.77,178.75 282.86,179.20 282.94,183.14 283.03,174.90 283.12,177.60 283.20,176.04 283.29,177.33 283.37,178.56 283.46,169.44 283.55,178.01 283.63,179.57 283.72,182.32 283.81,179.23 283.89,180.22 283.98,177.12 284.06,181.56 284.15,178.53 284.24,178.66 284.32,180.86 284.41,173.45 284.50,179.05 284.58,178.63 284.67,177.94 284.75,179.55 284.84,177.77 284.93,175.74 285.01,177.61 285.10,184.42 285.19,176.36 285.27,174.49 285.36,182.16 285.44,177.37 285.53,181.38 285.62,179.03 285.70,178.92 285.79,178.73 285.88,178.10 285.96,177.75 286.05,180.52 286.13,178.48 286.22,180.37 286.31,179.25 286.39,177.97 286.48,179.98 286.56,177.70 286.65,178.02 286.74,180.19 286.82,180.08 286.91,178.28 287.00,178.09 287.08,176.86 287.17,179.19 287.25,179.57 287.34,179.16 287.43,177.83 287.51,176.85 287.60,174.24 287.69,179.74 287.77,177.66 287.86,176.68 287.94,176.84 288.03,177.64 288.12,179.19 288.20,178.19 288.29,177.91 288.38,182.81 288.46,176.38 288.55,179.07 288.63,176.84 288.72,183.09 288.81,181.15 288.89,177.31 288.98,183.59 289.07,176.93 289.15,177.21 289.24,178.09 289.32,186.23 289.41,177.26 289.50,178.31 289.58,178.03 289.67,178.98 289.76,179.68 289.84,176.14 289.93,179.34 290.01,182.30 290.10,178.33 290.19,177.52 290.27,177.21 290.36,176.87 290.45,178.17 290.53,181.25 290.62,180.99 290.70,178.55 290.79,176.43 290.88,176.95 290.96,179.90 291.05,175.99 291.13,175.92 291.22,180.75 291.31,178.70 291.39,176.87 291.48,176.96 291.57,179.18 291.65,179.68 291.74,178.41 291.82,176.92 291.91,175.43 292.00,179.85 292.08,177.86 292.17,176.98 292.26,178.87 292.34,173.85 292.43,176.51 292.51,178.15 292.60,181.58 292.69,177.16 292.77,181.51 292.86,179.74 292.95,179.56 293.03,179.11 293.12,177.90 293.20,178.74 293.29,177.05 293.38,179.10 293.46,173.78 293.55,177.69 293.64,178.77 293.72,181.43 293.81,179.62 293.89,181.78 293.98,177.29 294.07,177.49 294.15,180.38 294.24,177.17 294.33,180.42 294.41,178.19 294.50,175.61 294.58,177.57 294.67,175.49 294.76,178.93 294.84,177.21 294.93,179.69 295.02,176.72 295.10,176.96 295.19,177.51 295.27,175.77 295.36,179.02 295.45,177.37 295.53,177.94 295.62,181.88 295.70,180.17 295.79,175.69 295.88,175.10 295.96,177.53 296.05,177.51 296.14,179.34 296.22,178.11 296.31,171.51 296.39,182.32 296.48,179.89 296.57,179.37 296.65,174.93 296.74,176.56 296.83,183.38 296.91,178.10 297.00,179.39 297.08,176.81 297.17,179.41 297.26,175.62 297.34,177.40 297.43,175.79 297.52,177.00 297.60,179.58 297.69,178.68 297.77,176.73 297.86,179.52 297.95,179.16 298.03,177.80 298.12,176.96 298.21,181.47 298.29,174.79 298.38,175.68 298.46,179.68 298.55,178.46 298.64,175.92 298.72,176.22 298.81,180.52 298.90,174.28 298.98,177.87 299.07,174.15 299.15,178.42 299.24,176.60 299.33,179.36 299.41,176.45 299.50,173.79 299.59,178.29 299.67,179.62 299.76,173.33 299.84,181.69 299.93,177.15 300.02,178.49 300.10,180.03 300.19,178.71 300.27,181.53 300.36,179.18 300.45,179.66 300.53,179.63 300.62,176.84 300.71,181.06 300.79,176.57 300.88,177.54 300.96,179.65 301.05,185.50 301.14,179.22 301.22,182.03 301.31,179.30 301.40,179.49 301.48,178.81 301.57,177.10 301.65,182.47 301.74,178.14 301.83,181.46 301.91,177.89 302.00,177.91 302.09,178.72 302.17,174.76 302.26,177.15 302.34,177.28 302.43,178.65 302.52,180.60 302.60,180.78 302.69,179.39 302.78,178.48 302.86,178.89 302.95,176.05 303.03,178.85 303.12,185.15 303.21,177.30 303.29,177.95 303.38,179.33 303.47,177.99 303.55,179.43 303.64,179.81 303.72,180.62 303.81,171.36 303.90,179.08 303.98,180.25 304.07,176.91 304.16,177.65 304.24,180.58 304.33,176.10 304.41,181.92 304.50,178.63 304.59,178.74 304.67,178.38 304.76,179.43 304.85,181.39 304.93,177.62 305.02,177.17 305.10,179.74 305.19,177.64 305.28,178.47 305.36,178.48 305.45,177.99 305.53,179.00 305.62,176.48 305.71,177.69 305.79,179.95 305.88,178.11 305.97,178.21 306.05,176.35 306.14,179.67 306.22,178.48 306.31,180.47 306.40,175.62 306.48,178.99 306.57,180.38 306.66,176.55 306.74,178.06 306.83,178.65 306.91,181.06 307.00,176.87 307.09,180.56 307.17,178.75 307.26,176.93 307.35,180.77 307.43,180.84 307.52,177.92 307.60,175.54 307.69,180.01 307.78,175.37 307.86,177.30 307.95,179.25 308.04,178.18 308.12,180.95 308.21,180.20 308.29,176.85 308.38,174.19 308.47,180.10 308.55,176.34 308.64,171.35 308.73,179.39 308.81,179.00 308.90,177.55 308.98,179.83 309.07,173.83 309.16,179.66 309.24,179.04 309.33,178.08 309.42,179.18 309.50,180.50 309.59,178.08 309.67,176.00 309.76,185.06 309.85,176.51 309.93,179.03 310.02,176.42 310.10,180.13 310.19,173.35 310.28,179.30 310.36,178.27 310.45,179.28 310.54,178.27 310.62,177.36 310.71,177.57 310.79,177.50 310.88,180.94 310.97,176.95 311.05,179.05 311.14,179.73 311.23,178.55 311.31,177.70 311.40,178.84 311.48,178.26 311.57,178.67 311.66,178.49 311.74,176.89 311.83,180.85 311.92,177.46 312.00,179.74 312.09,178.46 312.17,180.78 312.26,177.57 312.35,175.73 312.43,172.97 312.52,178.24 312.61,179.58 312.69,182.00 312.78,189.88 312.86,177.52 312.95,180.45 313.04,183.67 313.12,182.53 313.21,179.66 313.30,178.23 313.38,177.65 313.47,179.24 313.55,195.36 313.64,178.09 313.73,176.31 313.81,175.00 313.90,178.79 313.99,180.37 314.07,176.37 314.16,176.60 314.24,170.90 314.33,178.60 314.42,177.73 314.50,177.75 314.59,180.08 314.67,180.33 314.76,178.07 314.85,179.00 314.93,177.65 315.02,181.29 315.11,179.17 315.19,177.58 315.28,181.68 315.36,176.68 315.45,177.58 315.54,179.97 315.62,177.19 315.71,179.09 315.80,178.11 315.88,181.77 315.97,175.52 316.05,177.95 316.14,181.11 316.23,170.89 316.31,177.26 316.40,181.34 316.49,173.50 316.57,176.48 316.66,178.90 316.74,179.40 316.83,179.46 316.92,175.76 317.00,179.33 317.09,179.65 317.18,177.22 317.26,180.02 317.35,177.68 317.43,180.17 317.52,177.19 317.61,178.64 317.69,178.13 317.78,180.65 317.87,179.03 317.95,176.39 318.04,176.37 318.12,177.46 318.21,179.16 318.30,181.28 318.38,177.24 318.47,177.34 318.56,176.16 318.64,177.76 318.73,178.46 318.81,176.00 318.90,177.44 318.99,187.14 319.07,178.01 319.16,177.44 319.24,181.55 319.33,180.83 319.42,178.44 319.50,180.33 319.59,177.72 319.68,177.23 319.76,177.86 319.85,176.60 319.93,178.31 320.02,180.66 320.11,182.32 320.19,175.40 320.28,179.34 320.37,176.65 320.45,178.77 320.54,177.07 320.62,177.21 320.71,178.46 320.80,177.93 320.88,177.24 320.97,174.90 321.06,178.21 321.14,177.81 321.23,179.38 321.31,178.24 321.40,179.72 321.49,178.03 321.57,176.26 321.66,178.93 321.75,177.29 321.83,176.36 321.92,179.38 322.00,176.82 322.09,178.03 322.18,178.19 322.26,184.77 322.35,179.80 322.44,178.86 322.52,180.06 322.61,177.22 322.69,182.04 322.78,182.69 322.87,179.78 322.95,172.60 323.04,185.50 323.13,180.98 323.21,175.81 323.30,177.09 323.38,180.28 323.47,179.24 323.56,177.78 323.64,181.68 323.73,176.46 323.82,180.99 323.90,179.26 323.99,178.75 324.07,178.89 324.16,178.54 324.25,177.15 324.33,179.82 324.42,178.10 324.50,177.14 324.59,178.36 324.68,179.46 324.76,178.12 324.85,175.51 324.94,177.94 325.02,177.63 325.11,178.00 325.19,178.68 325.28,177.27 325.37,178.35 325.45,177.29 325.54,177.76 325.63,180.46 325.71,177.79 325.80,177.10 325.88,179.11 325.97,173.57 326.06,179.08 326.14,176.34 326.23,182.13 326.32,176.34 326.40,180.53 326.49,177.40 326.57,177.81 326.66,176.74 326.75,177.10 326.83,178.25 326.92,176.78 327.01,179.60 327.09,178.48 327.18,179.56 327.26,178.09 327.35,179.87 327.44,179.44 327.52,178.62 327.61,177.42 327.70,178.10 327.78,183.91 327.87,177.26 327.95,177.90 328.04,181.36 328.13,177.39 328.21,178.12 328.30,177.57 328.39,177.52 328.47,180.25 328.56,177.23 328.64,178.07 328.73,180.08 328.82,176.76 328.90,186.23 328.99,179.83 329.07,177.00 329.16,178.56 329.25,174.13 329.33,178.34 329.42,179.63 329.51,175.51 329.59,178.72 329.68,177.80 329.76,177.06 329.85,176.90 329.94,175.97 330.02,177.32 330.11,177.09 330.20,179.63 330.28,178.58 330.37,178.98 330.45,178.53 330.54,178.76 330.63,180.37 330.71,179.22 330.80,176.62 330.89,178.54 330.97,174.83 331.06,180.28 331.14,176.59 331.23,180.13 331.32,180.43 331.40,178.70 331.49,179.95 331.58,178.67 331.66,177.88 331.75,175.52 331.83,179.45 331.92,178.87 332.01,175.30 332.09,177.05 332.18,177.26 332.27,179.95 332.35,179.52 332.44,177.77 332.52,178.71 332.61,178.34 332.70,176.15 332.78,174.46 332.87,176.89 332.96,178.39 333.04,178.17 333.13,175.63 333.21,175.84 333.30,176.98" fill="none" stroke="#3566B2" stroke-width="0.72" stroke-linejoin="round"/>
<text transform="translate(246.00,124.00) rotate(0.03)" textLength="28.10" lengthAdjust="spacingAndGlyphs" font-size="6.7" fill="#15171c" stroke="#15171c" stroke-width="0.2">Indonesia</text>
<text transform="translate(184.20,135.83) rotate(0.03) scale(0.88,1)" text-anchor="end" font-size="6.1" fill="#111" stroke="#111" stroke-width="0.24">12</text>
<text transform="translate(184.20,150.43) rotate(0.03) scale(0.88,1)" text-anchor="end" font-size="6.1" fill="#111" stroke="#111" stroke-width="0.24">8</text>
<text transform="translate(184.20,165.03) rotate(0.03) scale(0.88,1)" text-anchor="end" font-size="6.1" fill="#111" stroke="#111" stroke-width="0.24">4</text>
<text transform="translate(184.20,179.63) rotate(0.03) scale(0.88,1)" text-anchor="end" font-size="6.1" fill="#111" stroke="#111" stroke-width="0.24">0</text>
<text transform="translate(184.20,194.23) rotate(0.03) scale(0.88,1)" text-anchor="end" font-size="6.1" fill="#111" stroke="#111" stroke-width="0.24">-4</text>
<text transform="translate(184.20,208.83) rotate(0.03) scale(0.88,1)" text-anchor="end" font-size="6.1" fill="#111" stroke="#111" stroke-width="0.24">-8</text>
<text transform="translate(196.35,217.10) rotate(-59) scale(0.96,1)" text-anchor="middle" y="1.95" font-size="5.5" fill="#000" stroke="#000" stroke-width="0.1">18Q3</text>
<text transform="translate(211.71,217.10) rotate(-59) scale(0.96,1)" text-anchor="middle" y="1.95" font-size="5.5" fill="#000" stroke="#000" stroke-width="0.1">19Q1</text>
<text transform="translate(227.07,217.10) rotate(-59) scale(0.96,1)" text-anchor="middle" y="1.95" font-size="5.5" fill="#000" stroke="#000" stroke-width="0.1">19Q3</text>
<text transform="translate(242.43,217.10) rotate(-59) scale(0.96,1)" text-anchor="middle" y="1.95" font-size="5.5" fill="#000" stroke="#000" stroke-width="0.1">20Q1</text>
<text transform="translate(257.79,217.10) rotate(-59) scale(0.96,1)" text-anchor="middle" y="1.95" font-size="5.5" fill="#000" stroke="#000" stroke-width="0.1">20Q3</text>
<text transform="translate(273.15,217.10) rotate(-59) scale(0.96,1)" text-anchor="middle" y="1.95" font-size="5.5" fill="#000" stroke="#000" stroke-width="0.1">21Q1</text>
<text transform="translate(288.51,217.10) rotate(-59) scale(0.96,1)" text-anchor="middle" y="1.95" font-size="5.5" fill="#000" stroke="#000" stroke-width="0.1">21Q3</text>
<text transform="translate(303.87,217.10) rotate(-59) scale(0.96,1)" text-anchor="middle" y="1.95" font-size="5.5" fill="#000" stroke="#000" stroke-width="0.1">22Q1</text>
<text transform="translate(319.23,217.10) rotate(-59) scale(0.96,1)" text-anchor="middle" y="1.95" font-size="5.5" fill="#000" stroke="#000" stroke-width="0.1">22Q3</text>
</g>
<g>
<line x1="362.60" x2="509.10" y1="149.00" y2="149.00" stroke="#f3f3f3" stroke-width="0.6"/>
<line x1="362.60" x2="509.10" y1="163.60" y2="163.60" stroke="#f3f3f3" stroke-width="0.6"/>
<line x1="362.60" x2="509.10" y1="178.20" y2="178.20" stroke="#f3f3f3" stroke-width="0.6"/>
<line x1="362.60" x2="509.10" y1="192.80" y2="192.80" stroke="#f3f3f3" stroke-width="0.6"/>
<line x1="362.60" x2="509.10" y1="207.40" y2="207.40" stroke="#e6e6e6" stroke-width="0.6"/>
<line x1="372.00" x2="372.00" y1="134.40" y2="207.40" stroke="#efefef" stroke-width="0.6"/>
<line x1="432.80" x2="432.80" y1="134.40" y2="207.40" stroke="#efefef" stroke-width="0.6"/>
<rect x="418.60" y="134.40" width="89.50" height="73.00" fill="#FF9128"/>
<rect x="484.05" y="134.40" width="25.05" height="73.00" fill="#8CFC1E"/>
<line x1="418.60" x2="509.10" y1="149.00" y2="149.00" stroke="#fff" stroke-opacity="0.28" stroke-width="0.6"/>
<line x1="418.60" x2="509.10" y1="163.60" y2="163.60" stroke="#fff" stroke-opacity="0.28" stroke-width="0.6"/>
<line x1="418.60" x2="509.10" y1="178.20" y2="178.20" stroke="#fff" stroke-opacity="0.28" stroke-width="0.6"/>
<line x1="418.60" x2="509.10" y1="192.80" y2="192.80" stroke="#fff" stroke-opacity="0.28" stroke-width="0.6"/>
<line x1="432.80" x2="432.80" y1="134.40" y2="207.40" stroke="#fff" stroke-opacity="0.38" stroke-width="0.6"/>
<polyline points="362.60,163.40 362.69,164.73 362.77,163.22 362.86,164.55 362.94,168.42 363.03,162.74 363.12,164.66 363.20,162.57 363.29,163.30 363.38,165.05 363.46,164.84 363.55,160.92 363.63,162.51 363.72,162.43 363.81,165.96 363.89,165.66 363.98,162.85 364.07,163.58 364.15,164.00 364.24,165.23 364.32,163.14 364.41,166.31 364.50,158.88 364.58,165.86 364.67,166.07 364.76,164.77 364.84,160.16 364.93,165.72 365.01,166.03 365.10,165.28 365.19,163.14 365.27,160.85 365.36,163.14 365.45,164.89 365.53,162.90 365.62,168.67 365.70,163.15 365.79,164.30 365.88,164.54 365.96,164.58 366.05,163.68 366.14,161.60 366.22,164.53 366.31,162.35 366.39,163.95 366.48,164.51 366.57,162.96 366.65,165.27 366.74,163.35 366.83,164.42 366.91,163.28 367.00,158.49 367.08,165.29 367.17,165.15 367.26,169.09 367.34,163.48 367.43,160.97 367.51,163.32 367.60,162.09 367.69,162.98 367.77,165.39 367.86,166.00 367.95,161.50 368.03,162.66 368.12,164.15 368.20,157.23 368.29,162.93 368.38,163.35 368.46,167.97 368.55,164.27 368.64,155.83 368.72,163.44 368.81,165.79 368.89,166.33 368.98,159.69 369.07,160.52 369.15,175.65 369.24,161.77 369.33,161.14 369.41,163.30 369.50,162.98 369.58,164.72 369.67,160.91 369.76,169.63 369.84,164.87 369.93,171.63 370.02,161.01 370.10,162.91 370.19,162.94 370.27,166.58 370.36,162.25 370.45,163.23 370.53,163.07 370.62,161.96 370.71,162.87 370.79,162.05 370.88,165.86 370.96,164.26 371.05,166.29 371.14,164.65 371.22,162.21 371.31,162.92 371.40,162.70 371.48,163.55 371.57,163.00 371.65,163.22 371.74,163.22 371.83,165.29 371.91,164.24 372.00,162.60 372.08,162.84 372.17,165.74 372.26,161.68 372.34,162.61 372.43,164.31 372.52,161.95 372.60,162.91 372.69,162.93 372.77,164.68 372.86,163.86 372.95,163.10 373.03,165.52 373.12,165.78 373.21,162.41 373.29,165.28 373.38,164.65 373.46,162.92 373.55,160.95 373.64,161.90 373.72,163.13 373.81,162.61 373.90,161.62 373.98,162.99 374.07,161.07 374.15,163.99 374.24,163.70 374.33,164.14 374.41,164.08 374.50,163.28 374.59,163.85 374.67,165.33 374.76,162.42 374.84,165.53 374.93,165.12 375.02,162.54 375.10,165.23 375.19,163.96 375.28,161.34 375.36,158.05 375.45,167.01 375.53,166.89 375.62,164.96 375.71,164.32 375.79,161.38 375.88,165.95 375.97,165.72 376.05,166.39 376.14,165.03 376.22,163.33 376.31,164.77 376.40,164.97 376.48,161.81 376.57,162.61 376.66,161.49 376.74,165.54 376.83,163.77 376.91,161.85 377.00,162.51 377.09,163.14 377.17,160.99 377.26,164.00 377.34,162.70 377.43,165.86 377.52,162.97 377.60,164.22 377.69,164.28 377.78,162.69 377.86,166.02 377.95,165.15 378.03,163.34 378.12,164.43 378.21,163.84 378.29,162.10 378.38,161.29 378.47,163.43 378.55,163.44 378.64,163.58 378.72,161.81 378.81,160.88 378.90,167.44 378.98,164.61 379.07,160.34 379.16,163.38 379.24,162.46 379.33,163.64 379.41,165.92 379.50,166.44 379.59,164.14 379.67,164.26 379.76,164.16 379.85,162.86 379.93,162.18 380.02,164.31 380.10,166.84 380.19,172.00 380.28,163.47 380.36,165.34 380.45,166.24 380.54,162.36 380.62,164.62 380.71,164.42 380.79,167.80 380.88,165.78 380.97,165.26 381.05,162.91 381.14,160.24 381.23,164.46 381.31,162.42 381.40,162.49 381.48,162.90 381.57,163.65 381.66,158.12 381.74,166.57 381.83,165.66 381.91,164.77 382.00,166.01 382.09,164.17 382.17,161.29 382.26,165.49 382.35,162.58 382.43,164.18 382.52,165.05 382.60,164.85 382.69,163.86 382.78,162.10 382.86,161.18 382.95,161.73 383.04,165.35 383.12,159.47 383.21,161.06 383.29,159.57 383.38,161.44 383.47,163.84 383.55,168.98 383.64,162.78 383.73,161.83 383.81,164.01 383.90,161.90 383.98,162.79 384.07,165.48 384.16,164.40 384.24,164.39 384.33,165.19 384.42,161.87 384.50,165.10 384.59,162.68 384.67,160.91 384.76,165.13 384.85,162.59 384.93,165.04 385.02,160.36 385.11,167.67 385.19,161.93 385.28,163.80 385.36,162.81 385.45,162.57 385.54,166.23 385.62,164.78 385.71,161.60 385.80,166.41 385.88,165.91 385.97,165.00 386.05,161.86 386.14,165.92 386.23,166.50 386.31,161.65 386.40,160.97 386.48,162.78 386.57,164.85 386.66,163.61 386.74,162.51 386.83,162.15 386.92,165.41 387.00,163.93 387.09,165.06 387.17,164.29 387.26,164.07 387.35,164.70 387.43,163.57 387.52,164.01 387.61,161.09 387.69,164.24 387.78,164.48 387.86,163.65 387.95,162.52 388.04,164.42 388.12,163.93 388.21,163.12 388.30,162.35 388.38,164.06 388.47,160.22 388.55,161.57 388.64,160.89 388.73,160.13 388.81,162.37 388.90,162.06 388.99,163.40 389.07,163.85 389.16,162.02 389.24,163.85 389.33,162.75 389.42,164.76 389.50,162.47 389.59,166.09 389.68,163.77 389.76,164.96 389.85,164.69 389.93,166.46 390.02,161.52 390.11,165.79 390.19,161.64 390.28,163.65 390.37,165.46 390.45,163.84 390.54,160.01 390.62,165.51 390.71,164.01 390.80,165.50 390.88,161.96 390.97,162.33 391.05,163.60 391.14,163.27 391.23,164.14 391.31,160.25 391.40,162.10 391.49,164.78 391.57,163.55 391.66,163.44 391.74,163.97 391.83,165.43 391.92,158.49 392.00,164.61 392.09,164.76 392.18,163.91 392.26,164.52 392.35,163.07 392.43,163.16 392.52,162.51 392.61,162.89 392.69,166.02 392.78,163.69 392.87,164.33 392.95,162.89 393.04,163.43 393.12,162.82 393.21,163.90 393.30,165.02 393.38,163.97 393.47,163.65 393.56,164.94 393.64,162.68 393.73,164.15 393.81,164.38 393.90,162.85 393.99,162.76 394.07,162.07 394.16,161.79 394.25,164.87 394.33,162.29 394.42,165.40 394.50,163.50 394.59,164.55 394.68,165.49 394.76,162.44 394.85,164.15 394.94,162.67 395.02,159.00 395.11,161.30 395.19,162.55 395.28,164.92 395.37,162.91 395.45,162.10 395.54,163.87 395.63,165.78 395.71,164.62 395.80,160.21 395.88,163.36 395.97,164.04 396.06,159.37 396.14,163.74 396.23,165.72 396.31,164.74 396.40,161.98 396.49,164.60 396.57,165.04 396.66,162.71 396.75,162.72 396.83,164.02 396.92,165.57 397.00,160.69 397.09,163.55 397.18,164.41 397.26,156.66 397.35,163.92 397.44,164.66 397.52,164.20 397.61,163.08 397.69,164.21 397.78,162.38 397.87,169.54 397.95,164.56 398.04,163.81 398.13,163.43 398.21,164.54 398.30,165.01 398.38,163.13 398.47,163.50 398.56,162.98 398.64,164.18 398.73,162.82 398.82,166.12 398.90,165.09 398.99,162.64 399.07,162.23 399.16,163.13 399.25,165.13 399.33,164.85 399.42,162.90 399.51,161.98 399.59,162.74 399.68,162.34 399.76,163.67 399.85,161.48 399.94,164.59 400.02,162.92 400.11,163.73 400.20,161.97 400.28,159.98 400.37,164.82 400.45,163.26 400.54,164.34 400.63,164.19 400.71,164.09 400.80,162.37 400.88,164.24 400.97,163.65 401.06,162.29 401.14,162.88 401.23,162.95 401.32,163.99 401.40,164.71 401.49,164.38 401.57,163.56 401.66,162.90 401.75,160.23 401.83,162.27 401.92,164.81 402.01,162.17 402.09,162.96 402.18,161.62 402.26,165.72 402.35,164.51 402.44,162.43 402.52,162.45 402.61,163.86 402.70,163.64 402.78,165.49 402.87,162.02 402.95,162.81 403.04,163.67 403.13,164.77 403.21,162.32 403.30,163.65 403.39,162.56 403.47,163.60 403.56,160.73 403.64,164.90 403.73,159.99 403.82,164.02 403.90,166.76 403.99,164.56 404.08,163.46 404.16,164.97 404.25,164.30 404.33,164.26 404.42,160.35 404.51,163.49 404.59,164.96 404.68,165.23 404.77,165.97 404.85,162.42 404.94,164.72 405.02,162.95 405.11,164.71 405.20,164.97 405.28,163.10 405.37,162.31 405.45,163.32 405.54,162.28 405.63,162.60 405.71,165.50 405.80,164.97 405.89,162.74 405.97,163.14 406.06,163.12 406.14,165.44 406.23,166.58 406.32,163.56 406.40,162.83 406.49,163.58 406.58,164.68 406.66,164.26 406.75,163.29 406.83,165.57 406.92,164.27 407.01,162.66 407.09,164.06 407.18,162.17 407.27,164.02 407.35,164.36 407.44,162.65 407.52,163.67 407.61,162.94 407.70,159.23 407.78,163.23 407.87,159.65 407.96,164.86 408.04,164.64 408.13,163.52 408.21,164.35 408.30,164.26 408.39,162.96 408.47,164.20 408.56,163.99 408.65,164.50 408.73,162.83 408.82,164.64 408.90,163.30 408.99,164.11 409.08,162.78 409.16,163.84 409.25,164.53 409.34,162.85 409.42,163.66 409.51,163.43 409.59,161.79 409.68,163.79 409.77,160.90 409.85,164.49 409.94,165.09 410.02,163.87 410.11,162.18 410.20,161.77 410.28,163.48 410.37,164.46 410.46,165.21 410.54,162.66 410.63,164.08 410.71,164.91 410.80,160.14 410.89,163.00 410.97,164.53 411.06,160.36 411.15,165.06 411.23,162.43 411.32,163.73 411.40,164.09 411.49,160.22 411.58,165.06 411.66,162.95 411.75,164.06 411.84,163.44 411.92,164.39 412.01,165.80 412.09,160.35 412.18,164.42 412.27,163.36 412.35,165.25 412.44,162.90 412.53,162.09 412.61,164.88 412.70,164.79 412.78,164.60 412.87,162.08 412.96,162.59 413.04,165.00 413.13,166.35 413.22,162.19 413.30,164.55 413.39,163.99 413.47,164.68 413.56,165.47 413.65,164.16 413.73,162.76 413.82,161.38 413.91,163.72 413.99,162.97 414.08,164.39 414.16,163.61 414.25,165.50 414.34,163.95 414.42,164.12 414.51,166.75 414.59,162.45 414.68,162.58 414.77,164.56 414.85,162.87 414.94,163.72 415.03,163.19 415.11,162.95 415.20,162.82 415.28,164.29 415.37,165.10 415.46,165.03 415.54,164.11 415.63,163.13 415.72,163.95 415.80,164.67 415.89,164.78 415.97,163.70 416.06,164.84 416.15,162.92 416.23,163.91 416.32,158.91 416.41,163.13 416.49,166.12 416.58,164.14 416.66,168.65 416.75,163.78 416.84,162.42 416.92,164.42 417.01,165.44 417.10,164.70 417.18,164.30 417.27,163.72 417.35,164.21 417.44,161.40 417.53,163.48 417.61,162.42 417.70,163.11 417.79,163.00 417.87,163.10 417.96,167.30 418.04,162.86 418.13,162.69 418.22,165.64 418.30,157.76 418.39,163.66 418.48,165.76 418.56,165.25 418.65,163.50 418.73,165.49 418.82,164.87 418.91,160.20 418.99,166.59 419.08,163.99 419.17,163.70 419.25,163.12 419.34,164.85 419.42,164.34 419.51,164.58 419.60,159.65 419.68,163.21 419.77,159.62 419.85,164.28 419.94,166.26 420.03,164.03 420.11,165.32 420.20,162.91 420.29,164.05 420.37,165.51 420.46,165.19 420.54,162.58 420.63,163.34 420.72,164.87 420.80,167.52 420.89,164.89 420.98,161.59 421.06,164.11 421.15,163.98 421.23,165.28 421.32,164.41 421.41,157.17 421.49,164.50 421.58,158.42 421.67,165.86 421.75,162.38 421.84,162.40 421.92,174.55 422.01,167.65 422.10,160.16 422.18,162.81 422.27,163.93 422.36,150.74 422.44,163.80 422.53,162.18 422.61,173.55 422.70,183.68 422.79,164.90 422.87,162.92 422.96,158.65 423.05,171.73 423.13,161.23 423.22,157.78 423.30,163.85 423.39,201.19 423.48,166.29 423.56,164.11 423.65,169.92 423.74,162.70 423.82,166.81 423.91,167.68 423.99,159.77 424.08,163.47 424.17,139.15 424.25,162.61 424.34,165.29 424.42,160.41 424.51,159.75 424.60,166.84 424.68,162.98 424.77,163.29 424.86,154.11 424.94,164.00 425.03,160.10 425.11,161.71 425.20,163.71 425.29,161.66 425.37,164.73 425.46,162.59 425.55,166.09 425.63,174.55 425.72,163.98 425.80,166.48 425.89,166.94 425.98,162.50 426.06,162.95 426.15,162.67 426.24,160.35 426.32,159.54 426.41,164.73 426.49,160.62 426.58,170.84 426.67,163.02 426.75,167.66 426.84,165.04 426.93,162.93 427.01,166.61 427.10,168.73 427.18,164.60 427.27,164.20 427.36,160.91 427.44,167.29 427.53,168.57 427.62,164.19 427.70,157.98 427.79,161.68 427.87,162.60 427.96,169.28 428.05,161.81 428.13,163.37 428.22,161.84 428.31,164.23 428.39,162.96 428.48,162.71 428.56,163.45 428.65,160.49 428.74,165.17 428.82,167.76 428.91,162.51 428.99,163.08 429.08,165.29 429.17,165.00 429.25,161.83 429.34,161.95 429.43,162.75 429.51,158.30 429.60,160.88 429.68,166.36 429.77,172.38 429.86,163.25 429.94,160.55 430.03,157.96 430.12,163.16 430.20,162.21 430.29,166.82 430.37,162.55 430.46,164.98 430.55,170.05 430.63,163.03 430.72,164.61 430.81,160.55 430.89,167.32 430.98,147.77 431.06,169.81 431.15,156.98 431.24,163.89 431.32,162.82 431.41,160.03 431.50,172.73 431.58,163.35 431.67,164.77 431.75,168.53 431.84,164.39 431.93,158.08 432.01,160.98 432.10,162.87 432.19,160.18 432.27,164.32 432.36,163.14 432.44,164.70 432.53,164.26 432.62,160.76 432.70,160.34 432.79,168.28 432.88,163.48 432.96,164.73 433.05,169.32 433.13,161.18 433.22,164.17 433.31,164.96 433.39,164.10 433.48,165.99 433.56,163.50 433.65,166.55 433.74,162.56 433.82,161.94 433.91,160.30 434.00,167.93 434.08,168.09 434.17,168.13 434.25,163.14 434.34,162.60 434.43,161.70 434.51,163.08 434.60,164.53 434.69,163.42 434.77,165.18 434.86,165.23 434.94,160.64 435.03,159.47 435.12,159.64 435.20,165.09 435.29,159.65 435.38,163.93 435.46,163.65 435.55,162.21 435.63,165.63 435.72,163.26 435.81,161.53 435.89,162.03 435.98,163.13 436.07,169.70 436.15,162.54 436.24,160.17 436.32,161.40 436.41,164.09 436.50,162.81 436.58,163.62 436.67,164.37 436.76,161.03 436.84,164.00 436.93,162.39 437.01,161.48 437.10,165.00 437.19,164.35 437.27,157.95 437.36,164.42 437.45,164.94 437.53,164.83 437.62,165.21 437.70,167.41 437.79,164.34 437.88,160.76 437.96,160.72 438.05,162.74 438.14,163.86 438.22,167.72 438.31,160.44 438.39,159.66 438.48,159.84 438.57,159.75 438.65,163.29 438.74,156.30 438.82,165.11 438.91,168.15 439.00,163.66 439.08,166.26 439.17,162.23 439.26,159.46 439.34,161.80 439.43,160.54 439.51,163.47 439.60,170.04 439.69,162.56 439.77,164.76 439.86,158.25 439.95,162.23 440.03,165.53 440.12,163.15 440.20,165.47 440.29,159.78 440.38,163.67 440.46,164.50 440.55,163.79 440.64,163.22 440.72,161.81 440.81,162.92 440.89,164.27 440.98,161.74 441.07,160.50 441.15,162.51 441.24,162.54 441.33,162.53 441.41,164.32 441.50,161.66 441.58,161.00 441.67,166.36 441.76,163.16 441.84,164.94 441.93,161.63 442.02,164.42 442.10,163.39 442.19,162.79 442.27,164.99 442.36,164.84 442.45,161.55 442.53,168.31 442.62,161.15 442.71,155.99 442.79,164.64 442.88,168.75 442.96,163.14 443.05,158.45 443.14,166.10 443.22,158.36 443.31,167.04 443.39,164.05 443.48,164.44 443.57,161.27 443.65,162.78 443.74,165.54 443.83,161.00 443.91,151.92 444.00,163.99 444.08,160.50 444.17,163.37 444.26,163.42 444.34,168.61 444.43,165.22 444.52,160.67 444.60,154.84 444.69,164.61 444.77,159.77 444.86,160.62 444.95,167.06 445.03,163.99 445.12,164.89 445.21,164.77 445.29,165.58 445.38,162.06 445.46,161.78 445.55,163.37 445.64,165.25 445.72,165.15 445.81,163.50 445.90,165.77 445.98,163.71 446.07,163.19 446.15,162.61 446.24,162.64 446.33,160.75 446.41,163.79 446.50,162.35 446.59,163.98 446.67,164.91 446.76,166.68 446.84,166.72 446.93,170.26 447.02,162.71 447.10,164.50 447.19,165.21 447.28,160.54 447.36,165.00 447.45,164.79 447.53,164.04 447.62,164.07 447.71,165.25 447.79,161.46 447.88,165.26 447.96,167.46 448.05,161.05 448.14,163.95 448.22,163.56 448.31,164.39 448.40,166.19 448.48,161.78 448.57,154.98 448.65,160.47 448.74,167.35 448.83,165.40 448.91,161.39 449.00,154.50 449.09,161.73 449.17,161.87 449.26,164.07 449.34,168.14 449.43,162.80 449.52,161.80 449.60,166.15 449.69,158.79 449.78,159.53 449.86,160.88 449.95,164.59 450.03,164.33 450.12,161.72 450.21,168.58 450.29,162.59 450.38,160.62 450.47,172.36 450.55,163.82 450.64,164.52 450.72,163.61 450.81,163.66 450.90,163.96 450.98,164.15 451.07,163.05 451.16,161.46 451.24,164.75 451.33,161.24 451.41,163.71 451.50,167.03 451.59,164.00 451.67,165.04 451.76,162.22 451.85,164.86 451.93,162.29 452.02,166.25 452.10,161.49 452.19,169.40 452.28,163.14 452.36,164.20 452.45,165.19 452.53,165.96 452.62,165.01 452.71,156.12 452.79,166.85 452.88,163.12 452.97,166.05 453.05,166.07 453.14,165.45 453.22,162.79 453.31,166.63 453.40,164.39 453.48,165.27 453.57,163.28 453.66,162.50 453.74,162.66 453.83,165.16 453.91,161.72 454.00,166.18 454.09,167.56 454.17,163.20 454.26,161.06 454.35,165.38 454.43,160.43 454.52,165.40 454.60,161.69 454.69,163.53 454.78,165.18 454.86,165.53 454.95,164.52 455.04,166.70 455.12,160.96 455.21,163.72 455.29,162.39 455.38,163.27 455.47,159.59 455.55,161.92 455.64,164.37 455.73,162.97 455.81,162.79 455.90,163.06 455.98,158.01 456.07,164.78 456.16,165.28 456.24,166.30 456.33,162.76 456.42,164.06 456.50,163.66 456.59,165.03 456.67,162.31 456.76,164.44 456.85,163.70 456.93,163.64 457.02,164.48 457.11,163.80 457.19,162.31 457.28,162.71 457.36,162.77 457.45,163.35 457.54,164.51 457.62,163.51 457.71,163.43 457.79,162.81 457.88,163.88 457.97,162.07 458.05,164.57 458.14,164.29 458.23,163.96 458.31,165.22 458.40,158.74 458.48,163.55 458.57,161.70 458.66,162.65 458.74,161.14 458.83,162.78 458.92,167.15 459.00,162.69 459.09,164.87 459.17,161.03 459.26,170.90 459.35,163.67 459.43,163.52 459.52,165.25 459.61,165.35 459.69,163.82 459.78,163.92 459.86,165.11 459.95,163.34 460.04,162.39 460.12,162.40 460.21,163.73 460.30,158.50 460.38,165.25 460.47,161.35 460.55,164.73 460.64,161.50 460.73,162.56 460.81,163.69 460.90,163.10 460.99,161.97 461.07,161.94 461.16,163.49 461.24,166.32 461.33,164.71 461.42,165.23 461.50,163.66 461.59,163.60 461.68,162.49 461.76,162.32 461.85,162.84 461.93,164.11 462.02,165.11 462.11,163.98 462.19,162.72 462.28,164.50 462.36,161.02 462.45,164.25 462.54,164.78 462.62,165.03 462.71,164.65 462.80,161.37 462.88,163.32 462.97,161.31 463.05,161.93 463.14,165.33 463.23,166.03 463.31,162.75 463.40,164.79 463.49,161.86 463.57,164.78 463.66,162.03 463.74,163.47 463.83,162.54 463.92,163.76 464.00,162.37 464.09,165.26 464.18,163.19 464.26,160.71 464.35,160.58 464.43,164.38 464.52,162.50 464.61,164.32 464.69,162.63 464.78,162.79 464.87,163.64 464.95,164.47 465.04,162.55 465.12,164.48 465.21,163.62 465.30,164.21 465.38,167.83 465.47,162.83 465.56,160.69 465.64,163.65 465.73,161.17 465.81,162.72 465.90,162.46 465.99,164.95 466.07,163.43 466.16,165.97 466.25,163.63 466.33,162.88 466.42,162.61 466.50,163.52 466.59,161.68 466.68,162.36 466.76,162.96 466.85,162.23 466.93,167.49 467.02,163.45 467.11,161.77 467.19,157.55 467.28,162.90 467.37,163.30 467.45,159.96 467.54,164.48 467.62,162.93 467.71,162.86 467.80,169.42 467.88,163.90 467.97,164.86 468.06,156.30 468.14,164.54 468.23,162.15 468.31,165.52 468.40,164.40 468.49,164.77 468.57,163.86 468.66,164.85 468.75,162.85 468.83,160.74 468.92,160.12 469.00,164.20 469.09,165.29 469.18,166.12 469.26,163.37 469.35,164.16 469.44,168.26 469.52,161.58 469.61,162.43 469.69,165.33 469.78,161.29 469.87,161.78 469.95,163.17 470.04,161.56 470.13,162.16 470.21,161.21 470.30,163.68 470.38,163.66 470.47,164.45 470.56,166.92 470.64,160.99 470.73,163.74 470.82,164.95 470.90,164.28 470.99,165.92 471.07,162.16 471.16,163.65 471.25,160.77 471.33,163.33 471.42,163.65 471.50,162.30 471.59,161.39 471.68,162.29 471.76,158.39 471.85,164.09 471.94,163.44 472.02,165.72 472.11,163.19 472.19,163.64 472.28,164.32 472.37,166.23 472.45,162.54 472.54,166.31 472.63,168.12 472.71,164.12 472.80,161.97 472.88,162.56 472.97,162.21 473.06,162.06 473.14,162.91 473.23,161.51 473.32,165.54 473.40,165.24 473.49,164.42 473.57,163.65 473.66,165.12 473.75,163.57 473.83,164.15 473.92,163.85 474.01,166.73 474.09,165.46 474.18,163.75 474.26,164.59 474.35,162.56 474.44,162.95 474.52,161.43 474.61,164.43 474.70,165.79 474.78,164.35 474.87,165.17 474.95,163.10 475.04,161.80 475.13,161.39 475.21,162.24 475.30,163.83 475.39,166.90 475.47,163.24 475.56,164.39 475.64,167.85 475.73,165.03 475.82,163.10 475.90,165.93 475.99,163.82 476.07,162.51 476.16,163.71 476.25,163.18 476.33,164.48 476.42,164.10 476.51,164.56 476.59,164.32 476.68,163.06 476.76,163.15 476.85,170.90 476.94,164.11 477.02,162.52 477.11,163.50 477.20,165.27 477.28,161.74 477.37,163.76 477.45,163.88 477.54,162.14 477.63,162.52 477.71,164.03 477.80,163.03 477.89,163.60 477.97,162.46 478.06,165.58 478.14,165.58 478.23,165.75 478.32,162.89 478.40,165.16 478.49,164.59 478.58,162.22 478.66,164.41 478.75,162.94 478.83,164.70 478.92,164.38 479.01,165.63 479.09,164.57 479.18,161.30 479.27,161.39 479.35,161.14 479.44,162.80 479.52,165.65 479.61,163.07 479.70,162.06 479.78,165.60 479.87,162.83 479.96,162.96 480.04,164.76 480.13,163.27 480.21,164.54 480.30,161.89 480.39,162.91 480.47,161.82 480.56,159.06 480.65,165.02 480.73,162.90 480.82,167.10 480.90,162.69 480.99,160.25 481.08,163.01 481.16,163.43 481.25,165.40 481.33,163.98 481.42,162.84 481.51,160.46 481.59,162.54 481.68,159.91 481.77,159.30 481.85,163.69 481.94,161.20 482.02,164.49 482.11,164.30 482.20,163.60 482.28,163.26 482.37,164.71 482.46,163.35 482.54,162.98 482.63,164.46 482.71,159.35 482.80,168.88 482.89,165.11 482.97,165.34 483.06,162.47 483.15,163.64 483.23,164.98 483.32,164.68 483.40,164.79 483.49,160.87 483.58,164.84 483.66,167.46 483.75,162.25 483.84,165.91 483.92,160.91 484.01,164.72 484.09,157.99 484.18,157.03 484.27,164.67 484.35,163.30 484.44,162.13 484.53,165.40 484.61,164.44 484.70,163.35 484.78,163.29 484.87,162.32 484.96,162.20 485.04,163.53 485.13,163.81 485.22,164.84 485.30,169.10 485.39,159.37 485.47,163.00 485.56,160.27 485.65,163.28 485.73,162.01 485.82,161.42 485.90,160.14 485.99,163.13 486.08,163.01 486.16,162.80 486.25,163.72 486.34,159.50 486.42,163.93 486.51,161.90 486.59,162.42 486.68,163.73 486.77,165.17 486.85,160.67 486.94,164.33 487.03,162.56 487.11,163.01 487.20,164.48 487.28,163.34 487.37,163.12 487.46,164.35 487.54,162.76 487.63,162.60 487.72,163.21 487.80,162.20 487.89,163.59 487.97,165.47 488.06,164.58 488.15,163.54 488.23,162.41 488.32,164.13 488.41,165.33 488.49,163.16 488.58,163.56 488.66,162.80 488.75,165.86 488.84,162.41 488.92,164.18 489.01,167.30 489.10,160.67 489.18,161.35 489.27,162.54 489.35,164.40 489.44,161.90 489.53,165.01 489.61,165.16 489.70,163.08 489.79,162.88 489.87,166.05 489.96,164.17 490.04,171.63 490.13,163.29 490.22,164.66 490.30,164.40 490.39,161.44 490.47,163.41 490.56,167.39 490.65,162.52 490.73,163.96 490.82,169.39 490.91,162.26 490.99,162.29 491.08,162.87 491.16,162.40 491.25,166.12 491.34,164.19 491.42,164.44 491.51,164.53 491.60,159.34 491.68,160.83 491.77,158.33 491.85,160.90 491.94,163.90 492.03,164.38 492.11,160.75 492.20,163.06 492.29,163.05 492.37,160.38 492.46,162.66 492.54,163.78 492.63,166.44 492.72,162.50 492.80,165.55 492.89,161.63 492.98,165.27 493.06,160.92 493.15,163.95 493.23,160.42 493.32,162.72 493.41,161.31 493.49,160.68 493.58,160.22 493.67,161.93 493.75,165.66 493.84,162.31 493.92,164.67 494.01,160.39 494.10,164.90 494.18,164.98 494.27,163.83 494.36,161.93 494.44,170.90 494.53,164.05 494.61,162.03 494.70,163.62 494.79,163.34 494.87,161.74 494.96,162.83 495.04,166.11 495.13,165.23 495.22,163.08 495.30,161.23 495.39,165.45 495.48,163.66 495.56,165.03 495.65,159.87 495.73,163.75 495.82,166.04 495.91,161.01 495.99,160.00 496.08,161.62 496.17,162.83 496.25,164.06 496.34,159.65 496.42,163.56 496.51,163.12 496.60,164.98 496.68,160.63 496.77,167.91 496.86,164.86 496.94,159.10 497.03,161.41 497.11,163.99 497.20,163.84 497.29,167.10 497.37,166.29 497.46,164.52 497.55,165.07 497.63,163.37 497.72,167.91 497.80,163.94 497.89,161.07 497.98,164.25 498.06,163.91 498.15,169.53 498.24,162.15 498.32,160.30 498.41,162.90 498.49,163.29 498.58,164.95 498.67,165.20 498.75,165.56 498.84,164.35 498.93,161.72 499.01,162.48 499.10,162.40 499.18,168.07 499.27,163.56 499.36,161.78 499.44,165.90 499.53,164.55 499.62,162.14 499.70,164.27 499.79,165.27 499.87,165.36 499.96,162.98 500.05,163.38 500.13,164.60 500.22,164.13 500.30,161.83 500.39,165.17 500.48,165.88 500.56,163.61 500.65,164.32 500.74,163.40 500.82,159.48 500.91,161.37 500.99,162.90 501.08,162.76 501.17,165.26 501.25,164.36 501.34,161.42 501.43,163.05 501.51,165.01 501.60,161.85 501.68,165.73 501.77,156.30 501.86,161.87 501.94,159.22 502.03,161.40 502.12,165.81 502.20,162.74 502.29,161.37 502.37,165.49 502.46,162.08 502.55,163.07 502.63,161.60 502.72,164.24 502.81,164.53 502.89,161.92 502.98,165.00 503.06,160.11 503.15,168.23 503.24,164.87 503.32,163.82 503.41,163.56 503.50,163.02 503.58,164.35 503.67,162.59 503.75,163.02 503.84,164.81 503.93,162.67 504.01,164.59 504.10,161.15 504.19,160.99 504.27,165.15 504.36,164.31 504.44,166.00 504.53,166.50 504.62,162.42 504.70,162.29 504.79,160.57 504.87,159.64 504.96,166.37 505.05,162.26 505.13,166.54 505.22,164.98 505.31,164.58 505.39,162.59 505.48,172.36 505.56,163.47 505.65,165.13 505.74,168.55 505.82,163.20 505.91,168.99 506.00,164.89 506.08,162.46 506.17,162.59 506.25,159.60 506.34,165.56 506.43,165.21 506.51,161.59 506.60,162.65 506.69,166.36 506.77,161.69 506.86,161.96 506.94,149.00 507.03,163.33 507.12,165.52 507.20,158.21 507.29,161.44 507.38,164.37 507.46,163.49 507.55,164.10 507.63,163.75 507.72,162.61 507.81,161.43 507.89,160.30 507.98,165.63 508.07,161.94 508.15,164.65 508.24,160.59 508.32,165.33 508.41,164.21 508.50,165.49 508.58,170.74 508.67,161.23 508.76,164.69 508.84,170.54 508.93,165.28 509.01,161.90 509.10,166.02" fill="none" stroke="#3566B2" stroke-width="0.72" stroke-linejoin="round"/>
<text transform="translate(422.90,124.00) rotate(0.03)" textLength="25.90" lengthAdjust="spacingAndGlyphs" font-size="6.7" fill="#15171c" stroke="#15171c" stroke-width="0.2">Malaysia</text>
<text transform="translate(360.00,135.83) rotate(0.03) scale(0.88,1)" text-anchor="end" font-size="6.1" fill="#111" stroke="#111" stroke-width="0.24">8</text>
<text transform="translate(360.00,150.43) rotate(0.03) scale(0.88,1)" text-anchor="end" font-size="6.1" fill="#111" stroke="#111" stroke-width="0.24">4</text>
<text transform="translate(360.00,165.03) rotate(0.03) scale(0.88,1)" text-anchor="end" font-size="6.1" fill="#111" stroke="#111" stroke-width="0.24">0</text>
<text transform="translate(360.00,179.63) rotate(0.03) scale(0.88,1)" text-anchor="end" font-size="6.1" fill="#111" stroke="#111" stroke-width="0.24">-4</text>
<text transform="translate(360.00,194.23) rotate(0.03) scale(0.88,1)" text-anchor="end" font-size="6.1" fill="#111" stroke="#111" stroke-width="0.24">-8</text>
<text transform="translate(360.00,208.83) rotate(0.03) scale(0.88,1)" text-anchor="end" font-size="6.1" fill="#111" stroke="#111" stroke-width="0.24">-12</text>
<text transform="translate(372.15,217.10) rotate(-59) scale(0.96,1)" text-anchor="middle" y="1.95" font-size="5.5" fill="#000" stroke="#000" stroke-width="0.1">18Q3</text>
<text transform="translate(387.51,217.10) rotate(-59) scale(0.96,1)" text-anchor="middle" y="1.95" font-size="5.5" fill="#000" stroke="#000" stroke-width="0.1">19Q1</text>
<text transform="translate(402.87,217.10) rotate(-59) scale(0.96,1)" text-anchor="middle" y="1.95" font-size="5.5" fill="#000" stroke="#000" stroke-width="0.1">19Q3</text>
<text transform="translate(418.23,217.10) rotate(-59) scale(0.96,1)" text-anchor="middle" y="1.95" font-size="5.5" fill="#000" stroke="#000" stroke-width="0.1">20Q1</text>
<text transform="translate(433.59,217.10) rotate(-59) scale(0.96,1)" text-anchor="middle" y="1.95" font-size="5.5" fill="#000" stroke="#000" stroke-width="0.1">20Q3</text>
<text transform="translate(448.95,217.10) rotate(-59) scale(0.96,1)" text-anchor="middle" y="1.95" font-size="5.5" fill="#000" stroke="#000" stroke-width="0.1">21Q1</text>
<text transform="translate(464.31,217.10) rotate(-59) scale(0.96,1)" text-anchor="middle" y="1.95" font-size="5.5" fill="#000" stroke="#000" stroke-width="0.1">21Q3</text>
<text transform="translate(479.67,217.10) rotate(-59) scale(0.96,1)" text-anchor="middle" y="1.95" font-size="5.5" fill="#000" stroke="#000" stroke-width="0.1">22Q1</text>
<text transform="translate(495.03,217.10) rotate(-59) scale(0.96,1)" text-anchor="middle" y="1.95" font-size="5.5" fill="#000" stroke="#000" stroke-width="0.1">22Q3</text>
</g>
<g>
<line x1="538.40" x2="684.90" y1="149.00" y2="149.00" stroke="#f3f3f3" stroke-width="0.6"/>
<line x1="538.40" x2="684.90" y1="163.60" y2="163.60" stroke="#f3f3f3" stroke-width="0.6"/>
<line x1="538.40" x2="684.90" y1="178.20" y2="178.20" stroke="#f3f3f3" stroke-width="0.6"/>
<line x1="538.40" x2="684.90" y1="192.80" y2="192.80" stroke="#f3f3f3" stroke-width="0.6"/>
<line x1="538.40" x2="684.90" y1="207.40" y2="207.40" stroke="#e6e6e6" stroke-width="0.6"/>
<line x1="547.80" x2="547.80" y1="134.40" y2="207.40" stroke="#efefef" stroke-width="0.6"/>
<line x1="608.60" x2="608.60" y1="134.40" y2="207.40" stroke="#efefef" stroke-width="0.6"/>
<rect x="594.40" y="134.40" width="89.50" height="73.00" fill="#FF9128"/>
<rect x="659.85" y="134.40" width="25.05" height="73.00" fill="#8CFC1E"/>
<line x1="594.40" x2="684.90" y1="149.00" y2="149.00" stroke="#fff" stroke-opacity="0.28" stroke-width="0.6"/>
<line x1="594.40" x2="684.90" y1="163.60" y2="163.60" stroke="#fff" stroke-opacity="0.28" stroke-width="0.6"/>
<line x1="594.40" x2="684.90" y1="178.20" y2="178.20" stroke="#fff" stroke-opacity="0.28" stroke-width="0.6"/>
<line x1="594.40" x2="684.90" y1="192.80" y2="192.80" stroke="#fff" stroke-opacity="0.28" stroke-width="0.6"/>
<line x1="608.60" x2="608.60" y1="134.40" y2="207.40" stroke="#fff" stroke-opacity="0.38" stroke-width="0.6"/>
<polyline points="538.40,162.17 538.49,165.14 538.57,162.94 538.66,162.26 538.74,164.53 538.83,162.26 538.92,164.59 539.00,162.05 539.09,165.13 539.18,163.37 539.26,164.30 539.35,167.37 539.43,164.78 539.52,165.72 539.61,161.30 539.69,168.17 539.78,161.26 539.87,155.42 539.95,162.54 540.04,169.14 540.12,164.97 540.21,170.94 540.30,168.70 540.38,163.46 540.47,163.03 540.56,169.97 540.64,166.04 540.73,163.44 540.81,162.67 540.90,159.23 540.99,159.89 541.07,163.54 541.16,161.03 541.25,166.93 541.33,166.31 541.42,166.46 541.50,161.88 541.59,166.43 541.68,163.02 541.76,165.75 541.85,162.14 541.94,163.97 542.02,164.98 542.11,166.58 542.19,167.03 542.28,164.69 542.37,159.01 542.45,163.10 542.54,163.44 542.63,165.59 542.71,161.24 542.80,166.87 542.88,162.89 542.97,167.05 543.06,165.60 543.14,167.51 543.23,162.48 543.31,165.60 543.40,166.63 543.49,164.05 543.57,164.18 543.66,165.18 543.75,163.26 543.83,166.26 543.92,161.23 544.00,164.49 544.09,162.27 544.18,160.80 544.26,165.14 544.35,167.49 544.44,164.96 544.52,166.22 544.61,161.47 544.69,162.13 544.78,161.49 544.87,165.47 544.95,167.22 545.04,163.48 545.13,164.02 545.21,163.02 545.30,161.15 545.38,164.80 545.47,160.18 545.56,165.92 545.64,160.31 545.73,164.23 545.82,160.57 545.90,162.46 545.99,166.71 546.07,159.74 546.16,161.64 546.25,162.97 546.33,164.74 546.42,163.07 546.51,169.09 546.59,158.00 546.68,164.02 546.76,161.58 546.85,157.18 546.94,165.80 547.02,166.13 547.11,167.60 547.20,159.71 547.28,164.96 547.37,163.83 547.45,164.27 547.54,160.85 547.63,160.10 547.71,161.74 547.80,165.39 547.88,170.25 547.97,167.31 548.06,163.81 548.14,164.64 548.23,165.98 548.32,162.67 548.40,162.20 548.49,160.62 548.57,164.94 548.66,166.84 548.75,162.76 548.83,161.82 548.92,161.18 549.01,161.62 549.09,162.55 549.18,162.66 549.26,162.43 549.35,159.52 549.44,161.23 549.52,162.77 549.61,166.62 549.70,163.63 549.78,164.28 549.87,168.02 549.95,162.20 550.04,160.81 550.13,165.84 550.21,163.71 550.30,166.77 550.39,158.08 550.47,161.10 550.56,160.45 550.64,163.56 550.73,168.73 550.82,165.61 550.90,168.42 550.99,161.33 551.08,170.30 551.16,168.15 551.25,162.11 551.33,166.95 551.42,175.51 551.51,161.99 551.59,152.50 551.68,165.18 551.77,161.23 551.85,163.70 551.94,165.88 552.02,161.70 552.11,166.51 552.20,162.68 552.28,161.99 552.37,173.76 552.46,159.36 552.54,168.94 552.63,171.28 552.71,166.72 552.80,165.05 552.89,158.67 552.97,164.51 553.06,154.84 553.14,163.42 553.23,155.89 553.32,163.90 553.40,165.62 553.49,167.84 553.58,161.95 553.66,166.61 553.75,157.26 553.83,161.50 553.92,152.45 554.01,157.60 554.09,161.49 554.18,160.77 554.27,162.59 554.35,166.20 554.44,162.88 554.52,164.49 554.61,162.25 554.70,164.64 554.78,163.09 554.87,163.02 554.96,160.06 555.04,169.43 555.13,170.43 555.21,162.66 555.30,162.27 555.39,164.66 555.47,162.44 555.56,169.32 555.65,162.83 555.73,163.66 555.82,164.14 555.90,159.37 555.99,163.19 556.08,163.86 556.16,164.99 556.25,162.26 556.34,166.23 556.42,165.29 556.51,170.56 556.59,167.10 556.68,160.43 556.77,164.14 556.85,160.68 556.94,169.83 557.03,154.87 557.11,162.50 557.20,163.17 557.28,160.94 557.37,169.39 557.46,160.72 557.54,168.07 557.63,160.71 557.71,159.61 557.80,170.27 557.89,164.48 557.97,171.62 558.06,166.54 558.15,165.08 558.23,164.33 558.32,165.16 558.40,169.55 558.49,164.66 558.58,162.20 558.66,164.69 558.75,161.72 558.84,163.75 558.92,167.61 559.01,158.14 559.09,163.91 559.18,161.43 559.27,166.71 559.35,165.66 559.44,155.27 559.53,166.56 559.61,163.97 559.70,162.18 559.78,164.78 559.87,162.58 559.96,165.21 560.04,166.52 560.13,160.14 560.22,165.03 560.30,157.06 560.39,162.40 560.47,162.86 560.56,164.65 560.65,159.95 560.73,163.47 560.82,163.67 560.91,161.62 560.99,165.63 561.08,162.83 561.16,165.96 561.25,162.65 561.34,163.22 561.42,166.87 561.51,162.82 561.60,165.38 561.68,162.41 561.77,160.26 561.85,156.01 561.94,165.78 562.03,163.04 562.11,164.36 562.20,162.23 562.28,161.10 562.37,165.99 562.46,166.45 562.54,162.78 562.63,164.55 562.72,163.93 562.80,163.79 562.89,165.07 562.97,167.53 563.06,161.95 563.15,161.26 563.23,163.25 563.32,162.96 563.41,163.24 563.49,162.16 563.58,164.71 563.66,164.52 563.75,162.07 563.84,164.82 563.92,161.51 564.01,165.12 564.10,164.63 564.18,166.39 564.27,164.02 564.35,162.60 564.44,163.50 564.53,166.89 564.61,163.71 564.70,161.90 564.79,166.41 564.87,166.00 564.96,165.84 565.04,162.32 565.13,163.77 565.22,165.18 565.30,164.42 565.39,165.44 565.48,163.51 565.56,166.76 565.65,163.40 565.73,163.63 565.82,165.62 565.91,162.30 565.99,162.00 566.08,161.17 566.17,165.25 566.25,166.18 566.34,162.56 566.42,160.17 566.51,163.29 566.60,161.70 566.68,162.64 566.77,167.49 566.85,163.66 566.94,164.23 567.03,163.91 567.11,163.69 567.20,161.77 567.29,164.67 567.37,161.02 567.46,162.47 567.54,156.08 567.63,160.84 567.72,162.49 567.80,164.13 567.89,163.15 567.98,164.05 568.06,164.20 568.15,162.42 568.23,163.53 568.32,165.40 568.41,162.50 568.49,161.76 568.58,162.67 568.67,166.49 568.75,163.75 568.84,164.73 568.92,164.32 569.01,163.22 569.10,160.65 569.18,166.61 569.27,165.81 569.36,167.25 569.44,163.83 569.53,164.54 569.61,160.71 569.70,168.63 569.79,165.79 569.87,164.55 569.96,160.49 570.05,163.07 570.13,166.61 570.22,159.61 570.30,166.40 570.39,166.83 570.48,164.97 570.56,165.21 570.65,156.30 570.74,161.19 570.82,160.23 570.91,162.96 570.99,161.83 571.08,163.71 571.17,163.59 571.25,165.87 571.34,164.38 571.43,162.58 571.51,163.65 571.60,159.43 571.68,164.81 571.77,162.79 571.86,161.91 571.94,162.73 572.03,162.73 572.11,163.44 572.20,163.23 572.29,164.43 572.37,162.25 572.46,162.27 572.55,163.62 572.63,166.17 572.72,164.88 572.80,169.37 572.89,164.35 572.98,161.22 573.06,167.95 573.15,159.32 573.24,165.24 573.32,165.40 573.41,164.05 573.49,164.46 573.58,161.43 573.67,161.23 573.75,162.90 573.84,161.62 573.93,163.45 574.01,165.14 574.10,161.07 574.18,158.81 574.27,168.66 574.36,170.33 574.44,165.48 574.53,159.01 574.62,166.94 574.70,168.03 574.79,165.84 574.87,166.12 574.96,163.23 575.05,165.43 575.13,164.27 575.22,164.10 575.31,163.56 575.39,161.66 575.48,161.77 575.56,166.28 575.65,160.66 575.74,164.23 575.82,164.62 575.91,168.00 576.00,165.09 576.08,166.12 576.17,165.03 576.25,160.40 576.34,162.85 576.43,164.78 576.51,164.82 576.60,164.86 576.68,166.71 576.77,164.04 576.86,156.54 576.94,162.99 577.03,163.95 577.12,170.53 577.20,164.95 577.29,163.01 577.37,161.54 577.46,163.40 577.55,164.92 577.63,163.15 577.72,162.92 577.81,167.18 577.89,162.83 577.98,164.54 578.06,163.53 578.15,162.86 578.24,164.43 578.32,164.15 578.41,164.06 578.50,162.78 578.58,162.86 578.67,167.49 578.75,162.96 578.84,164.06 578.93,163.13 579.01,165.46 579.10,161.73 579.19,165.55 579.27,164.07 579.36,165.68 579.44,172.36 579.53,162.25 579.62,161.91 579.70,164.54 579.79,163.53 579.88,164.40 579.96,163.33 580.05,159.35 580.13,162.00 580.22,161.95 580.31,161.81 580.39,165.19 580.48,159.38 580.57,164.30 580.65,165.09 580.74,166.28 580.82,165.37 580.91,163.22 581.00,160.96 581.08,167.50 581.17,166.16 581.25,163.50 581.34,165.37 581.43,166.65 581.51,165.45 581.60,162.54 581.69,158.17 581.77,164.72 581.86,163.64 581.94,165.85 582.03,162.47 582.12,165.31 582.20,164.37 582.29,163.37 582.38,163.87 582.46,164.61 582.55,165.15 582.63,162.69 582.72,161.07 582.81,164.56 582.89,162.69 582.98,162.13 583.07,163.77 583.15,163.35 583.24,163.48 583.32,162.91 583.41,162.99 583.50,165.65 583.58,163.25 583.67,165.93 583.76,164.18 583.84,164.52 583.93,166.73 584.01,163.14 584.10,163.95 584.19,160.38 584.27,161.51 584.36,160.90 584.45,163.54 584.53,162.86 584.62,164.39 584.70,165.81 584.79,161.82 584.88,166.79 584.96,165.14 585.05,164.00 585.14,162.03 585.22,163.72 585.31,165.60 585.39,162.98 585.48,162.02 585.57,160.55 585.65,161.51 585.74,163.72 585.82,163.96 585.91,161.30 586.00,163.04 586.08,163.44 586.17,164.15 586.26,161.17 586.34,162.96 586.43,162.00 586.51,161.00 586.60,163.11 586.69,162.90 586.77,156.59 586.86,162.62 586.95,162.69 587.03,161.79 587.12,163.40 587.20,163.78 587.29,162.28 587.38,161.14 587.46,163.62 587.55,159.01 587.64,163.10 587.72,164.02 587.81,161.28 587.89,163.14 587.98,165.53 588.07,153.95 588.15,159.15 588.24,159.15 588.33,159.36 588.41,164.14 588.50,160.59 588.58,163.53 588.67,160.27 588.76,163.50 588.84,163.70 588.93,164.07 589.02,161.60 589.10,162.30 589.19,162.60 589.27,161.84 589.36,160.97 589.45,160.07 589.53,163.32 589.62,159.89 589.71,163.50 589.79,162.51 589.88,160.41 589.96,161.60 590.05,165.07 590.14,160.82 590.22,164.44 590.31,163.56 590.39,164.06 590.48,161.34 590.57,162.88 590.65,165.04 590.74,165.39 590.83,164.61 590.91,163.29 591.00,163.28 591.08,165.66 591.17,160.61 591.26,163.25 591.34,166.14 591.43,165.28 591.52,163.21 591.60,164.12 591.69,169.48 591.77,159.97 591.86,162.71 591.95,164.41 592.03,163.78 592.12,162.31 592.21,167.94 592.29,163.39 592.38,164.39 592.46,161.37 592.55,162.17 592.64,161.32 592.72,164.65 592.81,157.22 592.90,165.18 592.98,164.23 593.07,163.27 593.15,160.43 593.24,165.76 593.33,164.42 593.41,164.16 593.50,160.61 593.59,166.32 593.67,157.33 593.76,161.99 593.84,167.33 593.93,164.80 594.02,161.01 594.10,163.67 594.19,162.60 594.28,163.87 594.36,167.23 594.45,165.59 594.53,161.40 594.62,160.20 594.71,165.24 594.79,162.28 594.88,160.85 594.97,165.17 595.05,162.19 595.14,163.58 595.22,162.92 595.31,161.55 595.40,168.21 595.48,173.68 595.57,161.34 595.65,160.76 595.74,165.60 595.83,164.24 595.91,159.69 596.00,166.07 596.09,165.21 596.17,164.50 596.26,168.07 596.34,165.04 596.43,163.15 596.52,163.93 596.60,160.65 596.69,159.59 596.78,168.54 596.86,170.35 596.95,166.86 597.03,168.25 597.12,159.42 597.21,166.97 597.29,161.40 597.38,163.83 597.47,172.55 597.55,168.98 597.64,162.97 597.72,178.20 597.81,173.70 597.90,162.77 597.98,161.85 598.07,163.27 598.16,159.78 598.24,165.64 598.33,159.63 598.41,158.78 598.50,186.96 598.59,166.08 598.67,167.09 598.76,162.39 598.85,164.20 598.93,165.76 599.02,165.25 599.10,163.75 599.19,205.36 599.28,159.95 599.36,163.81 599.45,167.81 599.54,165.35 599.62,162.67 599.71,163.70 599.79,164.98 599.88,168.46 599.97,142.58 600.05,157.04 600.14,163.38 600.22,158.97 600.31,152.97 600.40,167.69 600.48,158.07 600.57,162.61 600.66,194.26 600.74,157.79 600.83,164.40 600.91,168.37 601.00,169.13 601.09,159.87 601.17,161.76 601.26,172.19 601.35,158.14 601.43,149.00 601.52,164.20 601.60,163.74 601.69,164.16 601.78,160.74 601.86,162.34 601.95,164.58 602.04,165.78 602.12,151.92 602.21,161.74 602.29,157.26 602.38,167.55 602.47,162.39 602.55,161.87 602.64,159.71 602.73,165.47 602.81,160.10 602.90,175.28 602.98,159.76 603.07,167.20 603.16,169.31 603.24,164.71 603.33,162.77 603.42,164.86 603.50,165.45 603.59,160.39 603.67,161.98 603.76,169.14 603.85,163.37 603.93,164.59 604.02,159.39 604.11,161.87 604.19,163.83 604.28,153.73 604.36,166.90 604.45,163.94 604.54,156.95 604.62,161.92 604.71,160.96 604.79,164.03 604.88,157.89 604.97,162.52 605.05,162.11 605.14,163.92 605.23,164.63 605.31,160.39 605.40,166.36 605.48,167.28 605.57,161.73 605.66,162.28 605.74,163.56 605.83,162.67 605.92,163.43 606.00,166.42 606.09,169.44 606.17,168.46 606.26,164.34 606.35,163.77 606.43,151.26 606.52,168.35 606.61,157.42 606.69,164.93 606.78,159.37 606.86,164.16 606.95,165.52 607.04,163.44 607.12,163.71 607.21,157.34 607.30,173.82 607.38,163.28 607.47,163.72 607.55,160.40 607.64,159.11 607.73,160.44 607.81,161.89 607.90,161.08 607.99,157.81 608.07,162.42 608.16,159.81 608.24,170.42 608.33,163.28 608.42,161.05 608.50,163.78 608.59,163.04 608.68,166.18 608.76,162.52 608.85,162.66 608.93,157.17 609.02,164.48 609.11,169.15 609.19,160.93 609.28,166.31 609.36,164.85 609.45,159.51 609.54,163.05 609.62,161.11 609.71,162.85 609.80,162.52 609.88,167.58 609.97,169.23 610.05,167.72 610.14,161.26 610.23,163.45 610.31,164.84 610.40,157.60 610.49,161.50 610.57,164.77 610.66,163.32 610.74,163.15 610.83,174.16 610.92,164.71 611.00,163.10 611.09,168.05 611.18,163.90 611.26,163.99 611.35,164.44 611.43,160.75 611.52,166.25 611.61,163.44 611.69,153.38 611.78,161.54 611.87,165.56 611.95,162.79 612.04,168.18 612.12,166.96 612.21,159.86 612.30,168.27 612.38,164.73 612.47,162.83 612.56,159.92 612.64,166.45 612.73,171.30 612.81,159.12 612.90,161.54 612.99,162.70 613.07,163.81 613.16,162.91 613.25,166.28 613.33,166.14 613.42,169.88 613.50,161.89 613.59,162.76 613.68,160.91 613.76,164.85 613.85,161.29 613.94,165.63 614.02,163.04 614.11,164.92 614.19,164.18 614.28,164.46 614.37,158.38 614.45,167.12 614.54,169.82 614.62,166.27 614.71,167.75 614.80,158.76 614.88,161.93 614.97,164.97 615.06,168.96 615.14,167.75 615.23,161.58 615.31,163.78 615.40,161.68 615.49,163.30 615.57,157.12 615.66,158.40 615.75,158.28 615.83,162.62 615.92,162.29 616.00,166.10 616.09,155.67 616.18,163.51 616.26,165.67 616.35,166.46 616.44,163.01 616.52,166.71 616.61,163.99 616.69,161.28 616.78,165.24 616.87,171.65 616.95,176.45 617.04,165.92 617.13,170.88 617.21,165.21 617.30,170.90 617.38,166.85 617.47,159.21 617.56,158.55 617.64,162.76 617.73,167.19 617.82,161.60 617.90,164.91 617.99,162.88 618.07,167.55 618.16,165.18 618.25,166.24 618.33,163.46 618.42,165.22 618.51,162.37 618.59,162.02 618.68,164.60 618.76,171.43 618.85,164.17 618.94,150.17 619.02,164.21 619.11,165.03 619.19,161.77 619.28,165.47 619.37,165.01 619.45,164.79 619.54,161.85 619.63,163.36 619.71,165.19 619.80,169.45 619.88,158.87 619.97,161.12 620.06,160.94 620.14,165.50 620.23,163.27 620.32,164.58 620.40,172.36 620.49,165.34 620.57,167.64 620.66,162.73 620.75,161.28 620.83,165.85 620.92,163.20 621.01,154.72 621.09,168.39 621.18,164.87 621.26,159.42 621.35,164.46 621.44,164.81 621.52,151.71 621.61,160.20 621.70,162.49 621.78,168.78 621.87,162.54 621.95,168.44 622.04,162.91 622.13,162.37 622.21,166.06 622.30,162.19 622.39,163.09 622.47,162.07 622.56,163.64 622.64,162.01 622.73,162.08 622.82,160.71 622.90,160.77 622.99,163.06 623.08,172.78 623.16,162.63 623.25,165.81 623.33,163.51 623.42,161.64 623.51,163.14 623.59,167.21 623.68,162.89 623.76,164.73 623.85,160.14 623.94,161.36 624.02,165.26 624.11,166.35 624.20,164.85 624.28,160.67 624.37,164.07 624.45,167.05 624.54,165.24 624.63,164.95 624.71,166.62 624.80,164.75 624.89,164.81 624.97,162.67 625.06,165.07 625.14,165.28 625.23,165.44 625.32,164.02 625.40,162.85 625.49,167.27 625.58,161.65 625.66,165.23 625.75,164.34 625.83,160.88 625.92,164.25 626.01,158.49 626.09,161.56 626.18,168.55 626.27,172.94 626.35,164.15 626.44,164.96 626.52,162.07 626.61,164.71 626.70,164.95 626.78,165.52 626.87,166.62 626.96,166.43 627.04,162.66 627.13,162.86 627.21,160.52 627.30,161.59 627.39,169.47 627.47,161.39 627.56,160.25 627.65,167.74 627.73,167.22 627.82,164.01 627.90,160.27 627.99,164.94 628.08,166.27 628.16,162.81 628.25,164.62 628.33,164.40 628.42,163.50 628.51,162.95 628.59,165.09 628.68,160.05 628.77,163.36 628.85,163.14 628.94,162.29 629.02,165.04 629.11,163.34 629.20,164.61 629.28,163.14 629.37,162.11 629.46,162.33 629.54,164.59 629.63,163.94 629.71,160.10 629.80,161.81 629.89,162.92 629.97,162.85 630.06,167.84 630.15,162.00 630.23,162.52 630.32,162.85 630.40,163.11 630.49,164.55 630.58,162.77 630.66,159.27 630.75,167.03 630.84,162.57 630.92,166.03 631.01,164.50 631.09,163.06 631.18,166.86 631.27,164.07 631.35,160.01 631.44,166.52 631.53,167.56 631.61,164.66 631.70,161.14 631.78,168.68 631.87,160.54 631.96,167.88 632.04,168.45 632.13,160.96 632.22,164.29 632.30,161.34 632.39,165.06 632.47,160.52 632.56,166.72 632.65,163.76 632.73,164.56 632.82,159.29 632.91,165.86 632.99,163.93 633.08,162.15 633.16,163.66 633.25,165.52 633.34,160.85 633.42,169.09 633.51,168.21 633.59,168.65 633.68,160.67 633.77,163.41 633.85,163.23 633.94,161.98 634.03,162.71 634.11,164.56 634.20,164.20 634.28,162.21 634.37,158.55 634.46,160.81 634.54,169.11 634.63,161.53 634.72,159.26 634.80,164.16 634.89,163.77 634.97,164.39 635.06,164.25 635.15,161.33 635.23,160.70 635.32,165.46 635.41,165.95 635.49,163.45 635.58,162.92 635.66,166.90 635.75,164.38 635.84,164.05 635.92,163.54 636.01,162.21 636.10,164.40 636.18,161.53 636.27,143.16 636.35,162.89 636.44,163.75 636.53,161.48 636.61,163.50 636.70,162.68 636.79,161.06 636.87,154.84 636.96,161.86 637.04,165.96 637.13,162.13 637.22,165.80 637.30,165.63 637.39,162.97 637.48,166.36 637.56,163.23 637.65,162.53 637.73,166.29 637.82,160.84 637.91,161.39 637.99,161.63 638.08,163.23 638.16,164.08 638.25,166.95 638.34,162.31 638.42,167.51 638.51,164.22 638.60,165.07 638.68,164.38 638.77,158.63 638.85,161.72 638.94,161.91 639.03,161.97 639.11,165.71 639.20,162.31 639.29,163.01 639.37,163.17 639.46,163.92 639.54,161.98 639.63,161.76 639.72,164.13 639.80,161.08 639.89,164.66 639.98,162.37 640.06,163.26 640.15,160.18 640.23,165.20 640.32,164.52 640.41,163.71 640.49,163.19 640.58,163.74 640.67,165.85 640.75,165.50 640.84,166.32 640.92,174.11 641.01,164.71 641.10,160.45 641.18,160.11 641.27,164.50 641.36,165.27 641.44,163.61 641.53,166.37 641.61,163.69 641.70,165.73 641.79,156.65 641.87,162.91 641.96,164.26 642.05,164.37 642.13,162.05 642.22,163.99 642.30,161.88 642.39,161.87 642.48,160.64 642.56,164.37 642.65,166.31 642.73,161.95 642.82,163.46 642.91,161.96 642.99,163.33 643.08,163.06 643.17,163.54 643.25,159.49 643.34,163.29 643.42,165.60 643.51,164.37 643.60,163.53 643.68,165.50 643.77,165.58 643.86,154.84 643.94,164.77 644.03,163.81 644.11,163.42 644.20,156.26 644.29,163.81 644.37,159.45 644.46,163.59 644.55,162.33 644.63,163.33 644.72,164.37 644.80,159.68 644.89,166.75 644.98,157.31 645.06,165.80 645.15,166.93 645.24,158.97 645.32,163.05 645.41,169.22 645.49,166.19 645.58,157.64 645.67,163.23 645.75,162.87 645.84,162.87 645.93,172.59 646.01,162.89 646.10,160.15 646.18,172.49 646.27,166.52 646.36,162.48 646.44,168.55 646.53,164.41 646.62,162.79 646.70,160.03 646.79,161.55 646.87,163.51 646.96,162.68 647.05,162.52 647.13,161.26 647.22,166.21 647.30,158.59 647.39,165.70 647.48,163.24 647.56,165.61 647.65,161.13 647.74,163.29 647.82,161.78 647.91,161.02 647.99,158.78 648.08,156.63 648.17,163.89 648.25,165.11 648.34,160.36 648.43,169.71 648.51,165.16 648.60,155.82 648.68,161.64 648.77,166.01 648.86,164.61 648.94,166.72 649.03,162.41 649.12,168.33 649.20,164.57 649.29,164.03 649.37,159.63 649.46,167.22 649.55,160.02 649.63,158.14 649.72,164.17 649.81,160.73 649.89,160.35 649.98,160.05 650.06,164.78 650.15,166.67 650.24,174.00 650.32,163.74 650.41,164.72 650.50,159.25 650.58,162.53 650.67,163.32 650.75,161.36 650.84,161.10 650.93,166.52 651.01,164.11 651.10,158.06 651.19,160.87 651.27,165.09 651.36,164.52 651.44,164.04 651.53,168.66 651.62,162.56 651.70,160.81 651.79,163.99 651.87,159.43 651.96,170.06 652.05,160.07 652.13,166.46 652.22,162.31 652.31,164.35 652.39,161.60 652.48,162.57 652.56,165.61 652.65,172.36 652.74,160.40 652.82,161.37 652.91,165.63 653.00,156.91 653.08,169.70 653.17,159.93 653.25,165.75 653.34,161.02 653.43,166.07 653.51,164.18 653.60,159.64 653.69,164.09 653.77,159.53 653.86,154.98 653.94,173.69 654.03,151.47 654.12,161.58 654.20,163.90 654.29,166.63 654.38,168.19 654.46,156.09 654.55,163.78 654.63,155.16 654.72,165.67 654.81,171.09 654.89,164.06 654.98,164.87 655.07,164.38 655.15,163.24 655.24,159.42 655.32,173.28 655.41,164.28 655.50,162.48 655.58,160.61 655.67,164.47 655.76,163.66 655.84,163.83 655.93,161.83 656.01,166.34 656.10,162.57 656.19,161.44 656.27,164.36 656.36,163.21 656.45,161.97 656.53,164.00 656.62,160.36 656.70,165.50 656.79,163.34 656.88,161.83 656.96,160.81 657.05,167.20 657.13,166.37 657.22,161.83 657.31,164.09 657.39,166.12 657.48,165.54 657.57,161.34 657.65,164.47 657.74,163.80 657.82,169.09 657.91,162.53 658.00,161.78 658.08,158.24 658.17,168.82 658.26,162.61 658.34,160.29 658.43,164.99 658.51,163.34 658.60,162.28 658.69,162.11 658.77,167.35 658.86,166.25 658.95,163.99 659.03,164.23 659.12,172.85 659.20,168.79 659.29,155.37 659.38,162.40 659.46,164.63 659.55,164.85 659.64,162.41 659.72,165.80 659.81,162.44 659.89,163.04 659.98,177.03 660.07,161.68 660.15,164.91 660.24,164.00 660.33,161.15 660.41,163.17 660.50,163.79 660.58,160.55 660.67,171.95 660.76,162.94 660.84,170.35 660.93,153.55 661.02,157.98 661.10,168.32 661.19,162.70 661.27,162.52 661.36,168.94 661.45,156.01 661.53,162.46 661.62,169.57 661.70,163.46 661.79,168.28 661.88,168.68 661.96,172.85 662.05,168.01 662.14,162.71 662.22,161.35 662.31,162.62 662.39,162.95 662.48,164.66 662.57,168.66 662.65,164.25 662.74,164.64 662.83,162.34 662.91,162.08 663.00,167.76 663.08,161.46 663.17,161.99 663.26,162.41 663.34,166.19 663.43,166.35 663.52,169.73 663.60,170.24 663.69,159.34 663.77,157.09 663.86,170.32 663.95,169.34 664.03,160.64 664.12,161.05 664.21,159.15 664.29,162.14 664.38,163.86 664.46,157.38 664.55,159.42 664.64,164.30 664.72,162.27 664.81,158.67 664.90,161.98 664.98,164.19 665.07,162.89 665.15,163.06 665.24,164.17 665.33,165.91 665.41,163.62 665.50,165.98 665.59,163.68 665.67,165.56 665.76,162.53 665.84,170.80 665.93,164.29 666.02,163.88 666.10,160.32 666.19,162.06 666.27,169.76 666.36,162.53 666.45,162.01 666.53,161.07 666.62,166.38 666.71,163.21 666.79,158.85 666.88,156.84 666.96,172.57 667.05,162.36 667.14,168.34 667.22,170.76 667.31,173.82 667.40,163.41 667.48,167.57 667.57,168.27 667.65,162.40 667.74,167.23 667.83,161.77 667.91,163.04 668.00,160.44 668.09,163.43 668.17,167.42 668.26,166.79 668.34,162.32 668.43,164.80 668.52,165.99 668.60,162.52 668.69,162.15 668.78,165.82 668.86,164.34 668.95,170.23 669.03,160.98 669.12,165.52 669.21,160.60 669.29,161.66 669.38,162.09 669.47,166.85 669.55,166.71 669.64,160.23 669.72,162.70 669.81,160.89 669.90,166.16 669.98,161.17 670.07,162.74 670.16,162.81 670.24,154.84 670.33,169.38 670.41,168.59 670.50,157.66 670.59,162.11 670.67,162.60 670.76,164.87 670.84,166.85 670.93,163.54 671.02,165.21 671.10,159.29 671.19,159.88 671.28,176.11 671.36,163.06 671.45,163.55 671.53,151.62 671.62,174.60 671.71,168.40 671.79,166.62 671.88,171.17 671.97,165.76 672.05,157.33 672.14,165.15 672.22,165.33 672.31,164.70 672.40,158.38 672.48,160.83 672.57,165.24 672.66,165.97 672.74,163.60 672.83,170.68 672.91,160.28 673.00,161.60 673.09,162.59 673.17,174.08 673.26,166.00 673.35,165.59 673.43,162.20 673.52,163.04 673.60,162.99 673.69,171.28 673.78,160.11 673.86,160.99 673.95,164.72 674.04,160.41 674.12,164.92 674.21,162.59 674.29,171.02 674.38,165.45 674.47,164.80 674.55,164.61 674.64,172.94 674.73,165.23 674.81,166.80 674.90,163.73 674.98,160.94 675.07,162.99 675.16,166.83 675.24,162.38 675.33,163.81 675.42,171.40 675.50,165.47 675.59,164.16 675.67,164.45 675.76,164.21 675.85,160.70 675.93,162.94 676.02,161.65 676.10,165.17 676.19,164.24 676.28,166.51 676.36,163.58 676.45,163.16 676.54,163.72 676.62,163.78 676.71,163.62 676.79,157.98 676.88,159.96 676.97,163.98 677.05,163.37 677.14,163.69 677.23,155.79 677.31,158.85 677.40,165.25 677.48,162.46 677.57,164.91 677.66,162.56 677.74,166.51 677.83,164.09 677.92,156.04 678.00,167.65 678.09,160.87 678.17,162.68 678.26,163.17 678.35,167.99 678.43,162.07 678.52,162.00 678.61,164.29 678.69,166.93 678.78,166.56 678.86,160.98 678.95,162.45 679.04,154.84 679.12,165.29 679.21,167.42 679.30,164.54 679.38,165.75 679.47,169.51 679.55,156.58 679.64,165.78 679.73,168.77 679.81,163.74 679.90,162.40 679.99,160.16 680.07,166.23 680.16,164.99 680.24,168.19 680.33,159.97 680.42,162.01 680.50,159.94 680.59,159.58 680.67,159.61 680.76,164.31 680.85,163.03 680.93,160.78 681.02,164.41 681.11,165.12 681.19,164.59 681.28,166.06 681.36,165.96 681.45,166.84 681.54,161.63 681.62,162.78 681.71,165.35 681.80,166.65 681.88,167.35 681.97,163.53 682.05,164.35 682.14,167.59 682.23,164.08 682.31,157.69 682.40,161.95 682.49,163.91 682.57,165.66 682.66,161.55 682.74,172.36 682.83,165.07 682.92,164.85 683.00,161.56 683.09,164.77 683.18,155.43 683.26,165.86 683.35,165.58 683.43,163.55 683.52,169.18 683.61,159.25 683.69,167.28 683.78,163.39 683.87,163.82 683.95,158.97 684.04,160.83 684.12,162.78 684.21,164.02 684.30,168.22 684.38,164.37 684.47,163.28 684.56,166.50 684.64,164.18 684.73,159.00 684.81,165.58 684.90,162.27" fill="none" stroke="#3566B2" stroke-width="0.72" stroke-linejoin="round"/>
<text transform="translate(597.05,124.00) rotate(0.03)" textLength="29.20" lengthAdjust="spacingAndGlyphs" font-size="6.7" fill="#15171c" stroke="#15171c" stroke-width="0.2">Philippine</text>
<text transform="translate(535.80,135.83) rotate(0.03) scale(0.88,1)" text-anchor="end" font-size="6.1" fill="#111" stroke="#111" stroke-width="0.24">10</text>
<text transform="translate(535.80,150.43) rotate(0.03) scale(0.88,1)" text-anchor="end" font-size="6.1" fill="#111" stroke="#111" stroke-width="0.24">5</text>
<text transform="translate(535.80,165.03) rotate(0.03) scale(0.88,1)" text-anchor="end" font-size="6.1" fill="#111" stroke="#111" stroke-width="0.24">0</text>
<text transform="translate(535.80,179.63) rotate(0.03) scale(0.88,1)" text-anchor="end" font-size="6.1" fill="#111" stroke="#111" stroke-width="0.24">-5</text>
<text transform="translate(535.80,194.23) rotate(0.03) scale(0.88,1)" text-anchor="end" font-size="6.1" fill="#111" stroke="#111" stroke-width="0.24">-10</text>
<text transform="translate(535.80,208.83) rotate(0.03) scale(0.88,1)" text-anchor="end" font-size="6.1" fill="#111" stroke="#111" stroke-width="0.24">-15</text>
<text transform="translate(547.95,217.10) rotate(-59) scale(0.96,1)" text-anchor="middle" y="1.95" font-size="5.5" fill="#000" stroke="#000" stroke-width="0.1">18Q3</text>
<text transform="translate(563.31,217.10) rotate(-59) scale(0.96,1)" text-anchor="middle" y="1.95" font-size="5.5" fill="#000" stroke="#000" stroke-width="0.1">19Q1</text>
<text transform="translate(578.67,217.10) rotate(-59) scale(0.96,1)" text-anchor="middle" y="1.95" font-size="5.5" fill="#000" stroke="#000" stroke-width="0.1">19Q3</text>
<text transform="translate(594.03,217.10) rotate(-59) scale(0.96,1)" text-anchor="middle" y="1.95" font-size="5.5" fill="#000" stroke="#000" stroke-width="0.1">20Q1</text>
<text transform="translate(609.39,217.10) rotate(-59) scale(0.96,1)" text-anchor="middle" y="1.95" font-size="5.5" fill="#000" stroke="#000" stroke-width="0.1">20Q3</text>
<text transform="translate(624.75,217.10) rotate(-59) scale(0.96,1)" text-anchor="middle" y="1.95" font-size="5.5" fill="#000" stroke="#000" stroke-width="0.1">21Q1</text>
<text transform="translate(640.11,217.10) rotate(-59) scale(0.96,1)" text-anchor="middle" y="1.95" font-size="5.5" fill="#000" stroke="#000" stroke-width="0.1">21Q3</text>
<text transform="translate(655.47,217.10) rotate(-59) scale(0.96,1)" text-anchor="middle" y="1.95" font-size="5.5" fill="#000" stroke="#000" stroke-width="0.1">22Q1</text>
<text transform="translate(670.83,217.10) rotate(-59) scale(0.96,1)" text-anchor="middle" y="1.95" font-size="5.5" fill="#000" stroke="#000" stroke-width="0.1">22Q3</text>
</g>
<g>
<line x1="11.00" x2="157.50" y1="271.88" y2="271.88" stroke="#f3f3f3" stroke-width="0.6"/>
<line x1="11.00" x2="157.50" y1="290.05" y2="290.05" stroke="#f3f3f3" stroke-width="0.6"/>
<line x1="11.00" x2="157.50" y1="308.22" y2="308.22" stroke="#f3f3f3" stroke-width="0.6"/>
<line x1="11.00" x2="157.50" y1="326.40" y2="326.40" stroke="#e6e6e6" stroke-width="0.6"/>
<line x1="50.80" x2="50.80" y1="253.70" y2="326.40" stroke="#efefef" stroke-width="0.6"/>
<line x1="111.60" x2="111.60" y1="253.70" y2="326.40" stroke="#efefef" stroke-width="0.6"/>
<rect x="67.00" y="253.70" width="89.50" height="72.70" fill="#FF9128"/>
<rect x="132.45" y="253.70" width="25.05" height="72.70" fill="#8CFC1E"/>
<line x1="67.00" x2="157.50" y1="271.88" y2="271.88" stroke="#fff" stroke-opacity="0.12" stroke-width="0.6"/>
<line x1="67.00" x2="157.50" y1="290.05" y2="290.05" stroke="#fff" stroke-opacity="0.12" stroke-width="0.6"/>
<line x1="67.00" x2="157.50" y1="308.22" y2="308.22" stroke="#fff" stroke-opacity="0.12" stroke-width="0.6"/>
<line x1="111.60" x2="111.60" y1="253.70" y2="326.40" stroke="#fff" stroke-opacity="0.38" stroke-width="0.6"/>
<polyline points="11.00,292.52 11.09,293.90 11.17,288.54 11.26,291.09 11.34,287.60 11.43,286.47 11.52,290.98 11.60,296.39 11.69,294.00 11.78,290.57 11.86,281.06 11.95,294.26 12.03,286.14 12.12,288.17 12.21,290.80 12.29,291.35 12.38,288.72 12.47,300.05 12.55,287.63 12.64,288.81 12.72,295.71 12.81,289.34 12.90,290.66 12.98,291.35 13.07,293.26 13.16,292.20 13.24,289.25 13.33,283.82 13.41,287.68 13.50,289.88 13.59,292.13 13.67,287.96 13.76,287.74 13.85,290.26 13.93,281.87 14.02,290.63 14.10,293.34 14.19,293.62 14.28,288.72 14.36,292.69 14.45,283.75 14.54,288.80 14.62,284.66 14.71,289.35 14.79,294.62 14.88,287.12 14.97,289.93 15.05,294.26 15.14,291.18 15.23,292.18 15.31,291.66 15.40,291.50 15.48,287.29 15.57,282.95 15.66,299.19 15.74,290.93 15.83,290.21 15.91,288.36 16.00,285.79 16.09,287.30 16.17,286.05 16.26,293.18 16.35,296.50 16.43,291.82 16.52,292.69 16.60,287.14 16.69,288.90 16.78,288.34 16.86,292.38 16.95,292.47 17.04,293.65 17.12,285.63 17.21,293.41 17.29,287.92 17.38,293.76 17.47,288.81 17.55,283.46 17.64,293.57 17.73,293.27 17.81,296.73 17.90,289.52 17.98,295.28 18.07,295.03 18.16,288.51 18.24,285.23 18.33,291.83 18.42,284.40 18.50,291.34 18.59,284.26 18.67,292.87 18.76,283.94 18.85,285.75 18.93,291.82 19.02,290.03 19.11,290.55 19.19,289.37 19.28,284.68 19.36,289.74 19.45,290.05 19.54,289.87 19.62,283.38 19.71,290.19 19.80,299.14 19.88,294.31 19.97,292.35 20.05,286.08 20.14,290.76 20.23,288.90 20.31,295.02 20.40,292.32 20.48,287.71 20.57,286.86 20.66,294.67 20.74,293.35 20.83,290.30 20.92,295.23 21.00,293.17 21.09,292.35 21.17,289.56 21.26,291.19 21.35,288.12 21.43,290.17 21.52,292.13 21.61,284.80 21.69,291.25 21.78,287.49 21.86,286.78 21.95,294.36 22.04,289.14 22.12,290.25 22.21,292.87 22.30,297.09 22.38,288.95 22.47,289.05 22.55,289.24 22.64,293.43 22.73,293.11 22.81,295.96 22.90,295.26 22.99,284.69 23.07,290.02 23.16,283.79 23.24,289.60 23.33,291.73 23.42,293.12 23.50,292.48 23.59,293.51 23.68,289.94 23.76,284.11 23.85,286.37 23.93,284.61 24.02,289.16 24.11,290.01 24.19,292.28 24.28,287.29 24.37,285.31 24.45,291.49 24.54,292.81 24.62,288.84 24.71,295.57 24.80,292.38 24.88,288.45 24.97,289.65 25.06,295.49 25.14,289.01 25.23,290.40 25.31,291.47 25.40,290.56 25.49,290.89 25.57,289.74 25.66,290.70 25.74,288.80 25.83,290.75 25.92,290.40 26.00,291.66 26.09,292.34 26.18,289.11 26.26,287.71 26.35,282.66 26.43,294.20 26.52,294.26 26.61,285.49 26.69,291.51 26.78,285.97 26.87,285.45 26.95,291.61 27.04,286.43 27.12,290.02 27.21,291.30 27.30,280.45 27.38,291.94 27.47,292.68 27.56,291.27 27.64,288.07 27.73,289.50 27.81,286.70 27.90,295.10 27.99,293.82 28.07,290.45 28.16,291.65 28.25,291.90 28.33,291.02 28.42,290.38 28.50,294.25 28.59,300.95 28.68,290.66 28.76,290.38 28.85,290.53 28.94,291.67 29.02,288.52 29.11,285.71 29.19,286.76 29.28,292.69 29.37,289.59 29.45,289.72 29.54,287.41 29.63,293.54 29.71,283.45 29.80,289.06 29.88,292.18 29.97,290.33 30.06,289.32 30.14,297.65 30.23,287.80 30.31,290.97 30.40,289.19 30.49,289.30 30.57,285.02 30.66,290.56 30.75,291.45 30.83,289.10 30.92,289.41 31.00,288.64 31.09,287.36 31.18,290.68 31.26,287.33 31.35,288.92 31.44,292.82 31.52,291.33 31.61,289.64 31.69,289.97 31.78,292.12 31.87,286.14 31.95,286.53 32.04,293.64 32.13,288.32 32.21,285.46 32.30,287.39 32.38,291.35 32.47,289.31 32.56,288.81 32.64,285.22 32.73,291.16 32.82,290.73 32.90,291.44 32.99,280.05 33.07,294.02 33.16,291.45 33.25,289.71 33.33,291.00 33.42,289.61 33.51,289.97 33.59,289.18 33.68,293.18 33.76,290.81 33.85,288.48 33.94,292.28 34.02,290.20 34.11,293.05 34.20,288.96 34.28,288.23 34.37,288.55 34.45,293.25 34.54,287.14 34.63,287.41 34.71,294.47 34.80,290.17 34.88,294.40 34.97,289.80 35.06,292.05 35.14,288.94 35.23,287.86 35.32,293.89 35.40,291.28 35.49,287.01 35.57,290.96 35.66,292.38 35.75,287.64 35.83,292.05 35.92,288.48 36.01,293.53 36.09,290.93 36.18,291.33 36.26,293.29 36.35,284.57 36.44,288.63 36.52,290.77 36.61,290.65 36.70,291.53 36.78,289.12 36.87,290.71 36.95,284.19 37.04,289.72 37.13,290.00 37.21,283.51 37.30,290.39 37.39,284.66 37.47,286.74 37.56,291.64 37.64,290.49 37.73,288.39 37.82,284.91 37.90,291.17 37.99,293.00 38.08,286.80 38.16,291.12 38.25,288.63 38.33,288.44 38.42,287.55 38.51,288.93 38.59,293.23 38.68,292.66 38.77,290.70 38.85,292.52 38.94,290.15 39.02,287.53 39.11,290.83 39.20,287.69 39.28,289.05 39.37,290.20 39.45,292.35 39.54,291.18 39.63,289.68 39.71,292.05 39.80,289.38 39.89,289.76 39.97,289.77 40.06,290.81 40.14,289.24 40.23,288.94 40.32,299.14 40.40,289.97 40.49,286.73 40.58,291.33 40.66,291.28 40.75,288.65 40.83,290.61 40.92,288.31 41.01,292.04 41.09,287.14 41.18,291.88 41.27,286.84 41.35,288.67 41.44,290.53 41.52,288.18 41.61,286.57 41.70,290.11 41.78,289.64 41.87,287.16 41.96,290.17 42.04,292.56 42.13,288.10 42.21,291.12 42.30,289.47 42.39,290.53 42.47,292.00 42.56,288.31 42.65,288.74 42.73,290.49 42.82,287.03 42.90,286.51 42.99,291.39 43.08,293.16 43.16,289.97 43.25,289.89 43.34,291.25 43.42,288.94 43.51,291.01 43.59,291.28 43.68,292.05 43.77,291.53 43.85,291.96 43.94,289.31 44.03,290.76 44.11,290.39 44.20,287.71 44.28,290.63 44.37,291.01 44.46,292.98 44.54,290.62 44.63,288.20 44.71,289.44 44.80,292.95 44.89,291.16 44.97,288.25 45.06,286.46 45.15,291.23 45.23,292.24 45.32,291.50 45.40,290.05 45.49,288.90 45.58,289.39 45.66,287.70 45.75,289.15 45.84,290.02 45.92,290.95 46.01,288.62 46.09,288.35 46.18,303.68 46.27,292.10 46.35,290.05 46.44,289.52 46.53,290.45 46.61,284.08 46.70,288.76 46.78,286.23 46.87,291.15 46.96,288.94 47.04,291.56 47.13,289.72 47.22,289.28 47.30,290.57 47.39,289.99 47.47,292.90 47.56,289.72 47.65,282.78 47.73,285.60 47.82,292.81 47.91,289.71 47.99,288.06 48.08,291.35 48.16,289.70 48.25,288.18 48.34,290.34 48.42,291.89 48.51,288.64 48.60,292.38 48.68,290.60 48.77,283.49 48.85,291.05 48.94,290.54 49.03,289.07 49.11,289.22 49.20,291.33 49.28,292.72 49.37,289.37 49.46,290.21 49.54,289.87 49.63,295.11 49.72,288.71 49.80,289.58 49.89,290.32 49.97,292.63 50.06,289.39 50.15,291.18 50.23,291.31 50.32,290.96 50.41,290.76 50.49,290.98 50.58,290.67 50.66,290.40 50.75,291.89 50.84,286.48 50.92,288.33 51.01,289.06 51.10,289.32 51.18,289.90 51.27,291.60 51.35,287.45 51.44,289.58 51.53,289.94 51.61,291.31 51.70,290.50 51.79,292.41 51.87,290.58 51.96,290.69 52.04,289.26 52.13,287.86 52.22,285.61 52.30,292.28 52.39,290.29 52.48,293.91 52.56,290.50 52.65,291.05 52.73,288.71 52.82,287.85 52.91,291.55 52.99,286.16 53.08,286.28 53.17,289.98 53.25,294.69 53.34,289.88 53.42,290.50 53.51,287.00 53.60,289.66 53.68,289.72 53.77,289.62 53.85,292.67 53.94,289.53 54.03,290.88 54.11,290.36 54.20,293.63 54.29,290.81 54.37,293.90 54.46,290.49 54.54,288.35 54.63,291.48 54.72,290.44 54.80,288.88 54.89,289.33 54.98,300.05 55.06,289.83 55.15,292.86 55.23,288.19 55.32,290.53 55.41,291.39 55.49,287.30 55.58,289.22 55.67,288.87 55.75,291.67 55.84,291.01 55.92,290.11 56.01,291.06 56.10,289.07 56.18,289.27 56.27,287.99 56.36,289.65 56.44,290.76 56.53,284.98 56.61,290.27 56.70,290.23 56.79,291.54 56.87,290.88 56.96,291.90 57.05,290.26 57.13,290.13 57.22,288.86 57.30,292.33 57.39,287.83 57.48,290.22 57.56,283.63 57.65,288.71 57.74,293.21 57.82,290.54 57.91,292.66 57.99,288.91 58.08,290.88 58.17,291.40 58.25,291.77 58.34,290.74 58.42,289.71 58.51,292.56 58.60,289.58 58.68,290.94 58.77,292.56 58.86,289.68 58.94,288.40 59.03,291.06 59.11,288.92 59.20,290.90 59.29,286.07 59.37,288.77 59.46,287.69 59.55,287.10 59.63,291.31 59.72,290.42 59.80,293.73 59.89,287.09 59.98,287.85 60.06,291.61 60.15,289.76 60.24,290.33 60.32,290.99 60.41,287.84 60.49,292.17 60.58,290.14 60.67,288.69 60.75,295.43 60.84,290.69 60.93,290.74 61.01,290.54 61.10,292.22 61.18,285.99 61.27,288.47 61.36,291.61 61.44,283.62 61.53,290.36 61.62,291.48 61.70,290.10 61.79,291.02 61.87,289.21 61.96,288.37 62.05,291.41 62.13,292.36 62.22,291.48 62.31,294.19 62.39,291.62 62.48,289.14 62.56,290.08 62.65,291.33 62.74,289.96 62.82,290.89 62.91,288.74 62.99,291.23 63.08,290.95 63.17,292.54 63.25,289.33 63.34,290.47 63.43,290.59 63.51,288.65 63.60,288.68 63.68,289.19 63.77,289.23 63.86,289.41 63.94,287.98 64.03,289.89 64.12,290.92 64.20,287.10 64.29,288.28 64.37,291.32 64.46,290.73 64.55,290.92 64.63,288.52 64.72,290.46 64.81,289.58 64.89,290.52 64.98,288.45 65.06,291.48 65.15,289.94 65.24,289.29 65.32,286.84 65.41,287.35 65.50,289.62 65.58,293.60 65.67,289.72 65.75,289.92 65.84,291.50 65.93,289.11 66.01,292.89 66.10,290.87 66.19,287.47 66.27,292.07 66.36,289.94 66.44,289.04 66.53,291.72 66.62,288.11 66.70,291.72 66.79,289.55 66.88,291.29 66.96,287.16 67.05,289.53 67.13,292.55 67.22,290.86 67.31,296.02 67.39,290.32 67.48,292.54 67.57,286.44 67.65,289.42 67.74,290.60 67.82,288.76 67.91,299.32 68.00,290.41 68.08,294.76 68.17,291.87 68.25,292.78 68.34,289.71 68.43,291.74 68.51,291.22 68.60,290.75 68.69,285.30 68.77,299.37 68.86,290.80 68.94,290.26 69.03,286.47 69.12,286.69 69.20,290.06 69.29,281.79 69.38,291.86 69.46,289.13 69.55,291.30 69.63,290.41 69.72,286.70 69.81,296.85 69.89,294.11 69.98,289.40 70.07,290.37 70.15,293.73 70.24,290.32 70.32,308.22 70.41,292.71 70.50,292.97 70.58,287.07 70.67,295.19 70.76,293.95 70.84,287.89 70.93,276.67 71.01,291.13 71.10,312.77 71.19,292.47 71.27,296.62 71.36,291.33 71.45,291.89 71.53,290.61 71.62,290.58 71.70,296.02 71.79,324.58 71.88,294.48 71.96,290.77 72.05,283.13 72.14,286.86 72.22,287.02 72.31,295.90 72.39,290.62 72.48,291.37 72.57,321.86 72.65,289.34 72.74,290.04 72.82,290.98 72.91,286.23 73.00,289.69 73.08,291.06 73.17,293.58 73.26,263.70 73.34,290.96 73.43,283.98 73.51,291.27 73.60,287.22 73.69,287.65 73.77,284.05 73.86,283.23 73.95,298.23 74.03,273.69 74.12,286.64 74.20,284.86 74.29,290.56 74.38,302.53 74.46,294.62 74.55,291.56 74.64,287.06 74.72,274.15 74.81,287.26 74.89,291.70 74.98,289.10 75.07,303.36 75.15,294.85 75.24,291.53 75.33,290.94 75.41,289.20 75.50,303.68 75.58,294.12 75.67,292.35 75.76,296.41 75.84,302.93 75.93,303.82 76.02,283.01 76.10,285.93 76.19,278.14 76.27,302.05 76.36,272.84 76.45,288.81 76.53,285.67 76.62,286.44 76.71,288.76 76.79,291.40 76.88,293.13 76.96,293.55 77.05,292.95 77.14,289.96 77.22,284.08 77.31,291.94 77.39,289.84 77.48,291.39 77.57,289.20 77.65,296.77 77.74,282.58 77.83,281.38 77.91,294.97 78.00,294.17 78.08,287.54 78.17,287.09 78.26,292.83 78.34,282.48 78.43,287.15 78.52,295.89 78.60,296.58 78.69,291.19 78.77,282.78 78.86,289.05 78.95,285.09 79.03,293.04 79.12,297.25 79.21,290.23 79.29,293.16 79.38,284.28 79.46,290.12 79.55,286.51 79.64,289.53 79.72,292.11 79.81,290.44 79.90,300.95 79.98,290.16 80.07,292.59 80.15,293.84 80.24,287.84 80.33,288.02 80.41,285.92 80.50,288.92 80.59,287.12 80.67,292.45 80.76,285.59 80.84,291.20 80.93,289.00 81.02,291.98 81.10,288.28 81.19,287.31 81.28,287.99 81.36,285.07 81.45,289.60 81.53,287.54 81.62,286.69 81.71,290.83 81.79,292.27 81.88,283.99 81.96,287.92 82.05,289.09 82.14,289.71 82.22,290.40 82.31,291.28 82.40,289.20 82.48,290.69 82.57,289.92 82.65,290.56 82.74,294.86 82.83,280.96 82.91,287.66 83.00,290.99 83.09,288.49 83.17,286.93 83.26,287.36 83.34,295.09 83.43,286.13 83.52,290.97 83.60,278.52 83.69,287.16 83.78,292.10 83.86,289.90 83.95,288.49 84.03,286.75 84.12,286.88 84.21,292.13 84.29,288.04 84.38,289.28 84.47,285.32 84.55,291.90 84.64,282.99 84.72,290.60 84.81,294.79 84.90,293.77 84.98,300.10 85.07,290.09 85.16,287.36 85.24,290.32 85.33,292.34 85.41,294.14 85.50,287.60 85.59,288.37 85.67,284.61 85.76,296.12 85.85,292.49 85.93,293.73 86.02,290.57 86.10,289.79 86.19,287.23 86.28,290.22 86.36,294.36 86.45,292.88 86.54,294.04 86.62,285.29 86.71,284.79 86.79,285.30 86.88,286.96 86.97,285.80 87.05,290.47 87.14,285.86 87.22,285.06 87.31,286.38 87.40,286.92 87.48,298.35 87.57,293.91 87.66,294.98 87.74,316.10 87.83,287.26 87.91,297.61 88.00,301.64 88.09,298.39 88.17,310.00 88.26,284.94 88.35,284.83 88.43,276.83 88.52,283.12 88.60,283.63 88.69,287.57 88.78,281.16 88.86,289.93 88.95,288.17 89.04,280.94 89.12,284.92 89.21,293.36 89.29,288.53 89.38,293.82 89.47,289.68 89.55,290.97 89.64,290.73 89.73,289.10 89.81,289.30 89.90,292.34 89.98,289.20 90.07,280.72 90.16,291.19 90.24,293.55 90.33,290.86 90.42,285.06 90.50,287.49 90.59,292.18 90.67,285.12 90.76,285.70 90.85,297.51 90.93,291.97 91.02,295.25 91.11,279.70 91.19,286.67 91.28,296.59 91.36,289.43 91.45,294.84 91.54,274.60 91.62,291.23 91.71,290.75 91.79,290.27 91.88,283.56 91.97,284.50 92.05,291.39 92.14,291.24 92.23,288.92 92.31,293.44 92.40,288.89 92.48,291.72 92.57,287.17 92.66,287.98 92.74,287.10 92.83,285.91 92.92,291.29 93.00,300.95 93.09,290.05 93.17,284.05 93.26,290.44 93.35,291.40 93.43,291.19 93.52,292.48 93.61,287.90 93.69,288.85 93.78,290.30 93.86,289.74 93.95,290.65 94.04,291.07 94.12,295.15 94.21,291.10 94.30,289.17 94.38,291.38 94.47,290.42 94.55,290.27 94.64,283.82 94.73,287.64 94.81,291.13 94.90,290.30 94.99,293.39 95.07,285.23 95.16,292.19 95.24,289.96 95.33,292.60 95.42,290.49 95.50,286.39 95.59,292.39 95.68,293.05 95.76,290.30 95.85,294.89 95.93,295.22 96.02,294.35 96.11,287.33 96.19,291.18 96.28,283.11 96.36,286.48 96.45,293.23 96.54,290.94 96.62,291.27 96.71,289.28 96.80,290.24 96.88,288.70 96.97,287.73 97.05,289.68 97.14,291.32 97.23,292.07 97.31,287.64 97.40,287.83 97.49,289.74 97.57,292.33 97.66,292.53 97.74,291.55 97.83,291.65 97.92,289.87 98.00,289.69 98.09,290.70 98.18,292.62 98.26,290.12 98.35,291.45 98.43,288.34 98.52,290.63 98.61,288.61 98.69,290.28 98.78,289.40 98.87,280.96 98.95,288.82 99.04,289.37 99.12,289.81 99.21,288.77 99.30,289.35 99.38,287.70 99.47,284.57 99.56,291.19 99.64,291.99 99.73,287.42 99.81,285.32 99.90,290.66 99.99,290.25 100.07,290.53 100.16,291.22 100.25,287.97 100.33,287.96 100.42,293.75 100.50,291.88 100.59,288.72 100.68,286.29 100.76,288.27 100.85,291.13 100.93,294.43 101.02,290.12 101.11,290.56 101.19,290.35 101.28,289.49 101.37,283.13 101.45,286.68 101.54,286.38 101.62,282.93 101.71,296.13 101.80,288.57 101.88,290.01 101.97,296.53 102.06,285.47 102.14,301.59 102.23,290.86 102.31,292.41 102.40,293.05 102.49,286.80 102.57,285.66 102.66,291.43 102.75,289.78 102.83,289.18 102.92,291.59 103.00,291.32 103.09,287.56 103.18,289.94 103.26,293.91 103.35,290.84 103.44,289.71 103.52,288.03 103.61,289.40 103.69,293.80 103.78,290.53 103.87,287.92 103.95,292.09 104.04,286.84 104.13,290.12 104.21,288.43 104.30,285.43 104.38,293.95 104.47,289.78 104.56,289.23 104.64,291.94 104.73,293.01 104.82,293.45 104.90,289.91 104.99,287.10 105.07,289.76 105.16,284.59 105.25,290.23 105.33,288.86 105.42,292.42 105.51,291.54 105.59,290.39 105.68,289.58 105.76,292.13 105.85,285.06 105.94,284.84 106.02,283.33 106.11,292.69 106.19,290.42 106.28,290.10 106.37,289.65 106.45,287.50 106.54,289.97 106.63,290.33 106.71,286.38 106.80,291.87 106.88,293.44 106.97,289.60 107.06,290.20 107.14,287.20 107.23,288.45 107.32,288.92 107.40,289.66 107.49,288.19 107.57,289.36 107.66,299.14 107.75,293.90 107.83,288.22 107.92,290.10 108.01,288.98 108.09,291.86 108.18,289.95 108.26,291.22 108.35,289.18 108.44,292.74 108.52,287.91 108.61,291.80 108.70,285.74 108.78,288.97 108.87,289.68 108.95,287.68 109.04,289.57 109.13,289.08 109.21,287.74 109.30,289.83 109.39,292.60 109.47,291.34 109.56,290.35 109.64,291.45 109.73,291.87 109.82,292.96 109.90,291.22 109.99,295.82 110.08,293.41 110.16,286.87 110.25,293.08 110.33,288.06 110.42,290.25 110.51,289.06 110.59,291.75 110.68,290.89 110.76,287.40 110.85,292.27 110.94,290.41 111.02,291.87 111.11,292.77 111.20,292.29 111.28,287.88 111.37,291.11 111.45,295.90 111.54,291.97 111.63,289.76 111.71,289.88 111.80,291.10 111.89,290.09 111.97,290.97 112.06,289.90 112.14,287.30 112.23,291.75 112.32,286.25 112.40,293.72 112.49,280.60 112.58,288.45 112.66,289.48 112.75,288.22 112.83,290.54 112.92,288.73 113.01,290.40 113.09,289.77 113.18,291.59 113.27,287.19 113.35,289.25 113.44,287.88 113.52,287.65 113.61,293.99 113.70,287.83 113.78,285.53 113.87,290.73 113.96,287.45 114.04,292.01 114.13,290.07 114.21,291.48 114.30,287.14 114.39,289.88 114.47,288.24 114.56,293.03 114.65,290.79 114.73,292.92 114.82,293.59 114.90,293.59 114.99,287.65 115.08,289.39 115.16,290.96 115.25,288.91 115.33,290.93 115.42,287.93 115.51,292.83 115.59,290.41 115.68,290.80 115.77,290.43 115.85,290.91 115.94,288.09 116.02,296.25 116.11,288.20 116.20,291.56 116.28,290.20 116.37,291.24 116.46,300.05 116.54,294.61 116.63,289.46 116.71,286.87 116.80,291.15 116.89,292.64 116.97,287.86 117.06,287.21 117.15,289.80 117.23,292.50 117.32,291.31 117.40,289.92 117.49,290.55 117.58,291.93 117.66,292.95 117.75,287.70 117.84,288.34 117.92,289.34 118.01,290.77 118.09,288.72 118.18,291.58 118.27,291.29 118.35,289.40 118.44,289.34 118.53,290.80 118.61,292.64 118.70,288.56 118.78,290.90 118.87,291.19 118.96,290.21 119.04,288.85 119.13,293.53 119.22,289.55 119.30,285.64 119.39,289.44 119.47,286.91 119.56,290.09 119.65,288.04 119.73,289.42 119.82,287.39 119.90,288.50 119.99,285.52 120.08,289.49 120.16,289.44 120.25,290.64 120.34,291.40 120.42,289.64 120.51,288.40 120.59,291.00 120.68,288.64 120.77,291.46 120.85,291.10 120.94,290.30 121.03,289.12 121.11,291.32 121.20,292.57 121.28,290.58 121.37,290.79 121.46,288.87 121.54,292.74 121.63,287.19 121.72,292.62 121.80,288.36 121.89,287.97 121.97,293.57 122.06,291.67 122.15,288.76 122.23,288.76 122.32,287.27 122.41,285.94 122.49,290.24 122.58,287.83 122.66,295.34 122.75,289.56 122.84,289.27 122.92,287.41 123.01,288.12 123.10,292.73 123.18,295.70 123.27,289.98 123.35,290.19 123.44,295.95 123.53,288.77 123.61,288.19 123.70,289.94 123.79,300.95 123.87,286.77 123.96,288.44 124.04,287.79 124.13,291.42 124.22,292.80 124.30,289.53 124.39,289.79 124.47,289.66 124.56,285.21 124.65,289.52 124.73,289.62 124.82,289.03 124.91,288.87 124.99,288.27 125.08,291.66 125.16,290.79 125.25,290.65 125.34,291.97 125.42,292.34 125.51,293.19 125.60,289.96 125.68,289.48 125.77,289.02 125.85,291.31 125.94,290.53 126.03,291.67 126.11,293.46 126.20,287.61 126.29,294.10 126.37,289.14 126.46,290.40 126.54,290.83 126.63,290.56 126.72,289.81 126.80,291.89 126.89,291.49 126.98,291.39 127.06,289.25 127.15,287.56 127.23,291.30 127.32,289.04 127.41,289.30 127.49,289.91 127.58,290.70 127.67,292.05 127.75,291.11 127.84,289.45 127.92,289.76 128.01,293.09 128.10,288.44 128.18,282.78 128.27,295.21 128.36,291.39 128.44,288.34 128.53,290.48 128.61,287.06 128.70,290.37 128.79,288.34 128.87,295.42 128.96,292.43 129.05,291.31 129.13,286.30 129.22,286.13 129.30,291.42 129.39,290.40 129.48,293.23 129.56,285.57 129.65,290.42 129.73,289.48 129.82,292.81 129.91,285.27 129.99,284.69 130.08,292.28 130.17,292.75 130.25,287.55 130.34,290.43 130.42,288.19 130.51,290.08 130.60,291.57 130.68,289.50 130.77,290.74 130.86,285.56 130.94,287.41 131.03,289.72 131.11,287.11 131.20,289.90 131.29,287.35 131.37,291.21 131.46,287.51 131.55,295.70 131.63,291.65 131.72,289.06 131.80,289.64 131.89,305.95 131.98,286.77 132.06,290.04 132.15,289.32 132.24,293.87 132.32,291.13 132.41,288.04 132.49,290.08 132.58,301.41 132.67,289.91 132.75,291.89 132.84,289.72 132.93,291.61 133.01,279.23 133.10,283.80 133.18,292.90 133.27,285.89 133.36,290.50 133.44,292.70 133.53,291.96 133.62,289.57 133.70,294.36 133.79,288.80 133.87,290.75 133.96,291.71 134.05,287.83 134.13,290.32 134.22,289.75 134.30,293.37 134.39,287.56 134.48,288.76 134.56,292.87 134.65,287.43 134.74,287.32 134.82,288.69 134.91,289.10 134.99,290.62 135.08,290.98 135.17,293.78 135.25,292.17 135.34,290.59 135.43,292.23 135.51,285.67 135.60,290.74 135.68,284.58 135.77,290.80 135.86,290.12 135.94,292.47 136.03,293.88 136.12,293.00 136.20,287.66 136.29,288.07 136.37,291.78 136.46,290.38 136.55,288.48 136.63,290.64 136.72,287.33 136.81,288.57 136.89,292.05 136.98,289.96 137.06,292.41 137.15,294.68 137.24,288.25 137.32,288.86 137.41,287.75 137.50,291.66 137.58,288.10 137.67,285.34 137.75,283.76 137.84,289.57 137.93,286.27 138.01,288.97 138.10,288.39 138.19,291.08 138.27,286.85 138.36,286.69 138.44,300.05 138.53,286.84 138.62,289.68 138.70,291.16 138.79,298.09 138.87,300.52 138.96,292.20 139.05,294.13 139.13,286.26 139.22,285.02 139.31,293.19 139.39,294.23 139.48,289.75 139.56,281.76 139.65,287.21 139.74,292.04 139.82,292.18 139.91,292.94 140.00,293.98 140.08,287.55 140.17,285.77 140.25,290.83 140.34,291.09 140.43,290.99 140.51,292.35 140.60,289.72 140.69,288.93 140.77,290.13 140.86,289.52 140.94,287.06 141.03,289.97 141.12,290.30 141.20,290.03 141.29,291.15 141.38,288.99 141.46,293.15 141.55,292.54 141.63,291.04 141.72,289.47 141.81,289.65 141.89,291.24 141.98,291.04 142.07,292.30 142.15,286.77 142.24,291.62 142.32,294.22 142.41,291.45 142.50,289.64 142.58,293.29 142.67,290.23 142.76,292.03 142.84,282.78 142.93,290.82 143.01,292.77 143.10,285.05 143.19,286.82 143.27,292.49 143.36,291.08 143.44,291.21 143.53,288.02 143.62,292.59 143.70,291.36 143.79,290.39 143.88,290.90 143.96,291.91 144.05,288.21 144.13,288.86 144.22,290.55 144.31,287.40 144.39,289.19 144.48,289.62 144.57,290.36 144.65,290.83 144.74,291.22 144.82,290.48 144.91,286.40 145.00,291.33 145.08,293.14 145.17,291.67 145.26,287.82 145.34,286.77 145.43,290.10 145.51,289.49 145.60,287.60 145.69,288.04 145.77,288.05 145.86,293.57 145.95,286.97 146.03,289.22 146.12,293.40 146.20,289.71 146.29,295.34 146.38,292.31 146.46,290.23 146.55,287.75 146.64,295.40 146.72,287.92 146.81,288.68 146.89,285.53 146.98,288.25 147.07,291.78 147.15,291.19 147.24,290.18 147.33,297.34 147.41,291.02 147.50,290.05 147.58,287.91 147.67,294.68 147.76,290.20 147.84,291.11 147.93,286.61 148.02,291.60 148.10,285.30 148.19,291.60 148.27,290.04 148.36,290.52 148.45,289.61 148.53,289.41 148.62,291.35 148.70,291.38 148.79,287.72 148.88,292.82 148.96,283.38 149.05,293.70 149.14,293.33 149.22,290.22 149.31,292.93 149.39,290.47 149.48,289.32 149.57,288.98 149.65,291.55 149.74,287.17 149.83,290.22 149.91,291.91 150.00,285.85 150.08,294.21 150.17,298.23 150.26,289.95 150.34,288.35 150.43,285.88 150.52,293.95 150.60,294.72 150.69,291.53 150.77,291.50 150.86,288.19 150.95,291.01 151.03,289.38 151.12,291.73 151.21,288.14 151.29,292.10 151.38,295.37 151.46,290.43 151.55,290.76 151.64,288.80 151.72,288.51 151.81,292.93 151.90,289.67 151.98,290.62 152.07,289.10 152.15,285.74 152.24,288.79 152.33,293.04 152.41,293.07 152.50,288.64 152.59,292.84 152.67,287.34 152.76,290.88 152.84,287.27 152.93,287.51 153.02,289.22 153.10,288.14 153.19,295.18 153.27,289.32 153.36,289.43 153.45,288.42 153.53,296.73 153.62,290.74 153.71,288.54 153.79,291.25 153.88,289.68 153.96,291.96 154.05,294.15 154.14,291.96 154.22,287.95 154.31,293.27 154.40,292.36 154.48,290.23 154.57,282.33 154.65,289.36 154.74,289.90 154.83,289.83 154.91,284.51 155.00,290.22 155.09,290.47 155.17,289.25 155.26,288.36 155.34,289.78 155.43,290.23 155.52,292.36 155.60,291.47 155.69,289.88 155.78,288.25 155.86,292.19 155.95,291.31 156.03,291.41 156.12,291.20 156.21,287.53 156.29,292.18 156.38,288.37 156.47,290.16 156.55,291.75 156.64,288.12 156.72,290.56 156.81,288.58 156.90,292.78 156.98,290.51 157.07,291.45 157.16,287.61 157.24,288.18 157.33,288.42 157.41,291.07 157.50,288.09" fill="none" stroke="#3566B2" stroke-width="0.72" stroke-linejoin="round"/>
<text transform="translate(69.85,242.50) rotate(0.03)" textLength="28.80" lengthAdjust="spacingAndGlyphs" font-size="6.7" fill="#15171c" stroke="#15171c" stroke-width="0.2">Singapore</text>
<text transform="translate(8.40,255.13) rotate(0.03) scale(0.88,1)" text-anchor="end" font-size="6.1" fill="#111" stroke="#111" stroke-width="0.24">8</text>
<text transform="translate(8.40,273.31) rotate(0.03) scale(0.88,1)" text-anchor="end" font-size="6.1" fill="#111" stroke="#111" stroke-width="0.24">4</text>
<text transform="translate(8.40,291.48) rotate(0.03) scale(0.88,1)" text-anchor="end" font-size="6.1" fill="#111" stroke="#111" stroke-width="0.24">0</text>
<text transform="translate(8.40,309.65) rotate(0.03) scale(0.88,1)" text-anchor="end" font-size="6.1" fill="#111" stroke="#111" stroke-width="0.24">-4</text>
<text transform="translate(8.40,327.83) rotate(0.03) scale(0.88,1)" text-anchor="end" font-size="6.1" fill="#111" stroke="#111" stroke-width="0.24">-8</text>
<text transform="translate(20.55,336.10) rotate(-59) scale(0.96,1)" text-anchor="middle" y="1.95" font-size="5.5" fill="#000" stroke="#000" stroke-width="0.1">18Q3</text>
<text transform="translate(35.91,336.10) rotate(-59) scale(0.96,1)" text-anchor="middle" y="1.95" font-size="5.5" fill="#000" stroke="#000" stroke-width="0.1">19Q1</text>
<text transform="translate(51.27,336.10) rotate(-59) scale(0.96,1)" text-anchor="middle" y="1.95" font-size="5.5" fill="#000" stroke="#000" stroke-width="0.1">19Q3</text>
<text transform="translate(66.63,336.10) rotate(-59) scale(0.96,1)" text-anchor="middle" y="1.95" font-size="5.5" fill="#000" stroke="#000" stroke-width="0.1">20Q1</text>
<text transform="translate(81.99,336.10) rotate(-59) scale(0.96,1)" text-anchor="middle" y="1.95" font-size="5.5" fill="#000" stroke="#000" stroke-width="0.1">20Q3</text>
<text transform="translate(97.35,336.10) rotate(-59) scale(0.96,1)" text-anchor="middle" y="1.95" font-size="5.5" fill="#000" stroke="#000" stroke-width="0.1">21Q1</text>
<text transform="translate(112.71,336.10) rotate(-59) scale(0.96,1)" text-anchor="middle" y="1.95" font-size="5.5" fill="#000" stroke="#000" stroke-width="0.1">21Q3</text>
<text transform="translate(128.07,336.10) rotate(-59) scale(0.96,1)" text-anchor="middle" y="1.95" font-size="5.5" fill="#000" stroke="#000" stroke-width="0.1">22Q1</text>
<text transform="translate(143.43,336.10) rotate(-59) scale(0.96,1)" text-anchor="middle" y="1.95" font-size="5.5" fill="#000" stroke="#000" stroke-width="0.1">22Q3</text>
</g>
<g>
<line x1="186.80" x2="333.30" y1="268.24" y2="268.24" stroke="#f3f3f3" stroke-width="0.6"/>
<line x1="186.80" x2="333.30" y1="282.78" y2="282.78" stroke="#f3f3f3" stroke-width="0.6"/>
<line x1="186.80" x2="333.30" y1="297.32" y2="297.32" stroke="#f3f3f3" stroke-width="0.6"/>
<line x1="186.80" x2="333.30" y1="311.86" y2="311.86" stroke="#f3f3f3" stroke-width="0.6"/>
<line x1="186.80" x2="333.30" y1="326.40" y2="326.40" stroke="#e6e6e6" stroke-width="0.6"/>
<line x1="196.20" x2="196.20" y1="253.70" y2="326.40" stroke="#efefef" stroke-width="0.6"/>
<line x1="226.60" x2="226.60" y1="253.70" y2="326.40" stroke="#efefef" stroke-width="0.6"/>
<line x1="257.00" x2="257.00" y1="253.70" y2="326.40" stroke="#efefef" stroke-width="0.6"/>
<line x1="287.40" x2="287.40" y1="253.70" y2="326.40" stroke="#efefef" stroke-width="0.6"/>
<rect x="242.80" y="253.70" width="89.50" height="72.70" fill="#FF9128"/>
<rect x="308.25" y="253.70" width="25.05" height="72.70" fill="#8CFC1E"/>
<line x1="242.80" x2="333.30" y1="268.24" y2="268.24" stroke="#fff" stroke-opacity="0.12" stroke-width="0.6"/>
<line x1="242.80" x2="333.30" y1="282.78" y2="282.78" stroke="#fff" stroke-opacity="0.12" stroke-width="0.6"/>
<line x1="242.80" x2="333.30" y1="297.32" y2="297.32" stroke="#fff" stroke-opacity="0.12" stroke-width="0.6"/>
<line x1="242.80" x2="333.30" y1="311.86" y2="311.86" stroke="#fff" stroke-opacity="0.12" stroke-width="0.6"/>
<line x1="257.00" x2="257.00" y1="253.70" y2="326.40" stroke="#fff" stroke-opacity="0.38" stroke-width="0.6"/>
<line x1="287.40" x2="287.40" y1="253.70" y2="326.40" stroke="#fff" stroke-opacity="0.38" stroke-width="0.6"/>
<polyline points="186.80,282.38 186.89,283.78 186.97,283.11 187.06,283.51 187.14,280.91 187.23,282.69 187.32,282.74 187.40,283.02 187.49,282.58 187.58,277.83 187.66,278.96 187.75,281.53 187.83,282.93 187.92,283.63 188.01,283.25 188.09,282.57 188.18,278.95 188.27,290.05 188.35,283.86 188.44,283.45 188.52,282.67 188.61,282.85 188.70,283.49 188.78,283.21 188.87,281.65 188.96,282.51 189.04,282.64 189.13,282.12 189.21,282.38 189.30,280.91 189.39,284.14 189.47,283.66 189.56,286.27 189.65,283.51 189.73,278.13 189.82,281.25 189.90,281.60 189.99,285.53 190.08,279.93 190.16,282.70 190.25,283.19 190.34,278.97 190.42,281.46 190.51,280.08 190.59,280.23 190.68,284.17 190.77,283.64 190.85,284.19 190.94,289.68 191.03,283.36 191.11,284.92 191.20,280.08 191.28,286.09 191.37,283.81 191.46,281.43 191.54,280.15 191.63,282.99 191.71,283.20 191.80,284.09 191.89,286.80 191.97,280.00 192.06,281.66 192.15,284.28 192.23,282.48 192.32,284.81 192.40,283.34 192.49,287.29 192.58,287.07 192.66,284.78 192.75,280.48 192.84,286.86 192.92,279.08 193.01,279.82 193.09,282.20 193.18,282.02 193.27,283.64 193.35,285.16 193.44,283.07 193.53,280.99 193.61,281.42 193.70,282.36 193.78,279.54 193.87,282.55 193.96,283.15 194.04,281.58 194.13,283.95 194.22,283.01 194.30,281.71 194.39,283.60 194.47,281.22 194.56,281.21 194.65,283.22 194.73,282.70 194.82,289.24 194.91,279.26 194.99,284.12 195.08,285.06 195.16,284.38 195.25,281.11 195.34,282.15 195.42,284.12 195.51,283.63 195.60,282.47 195.68,282.78 195.77,280.41 195.85,283.73 195.94,278.58 196.03,280.88 196.11,279.62 196.20,280.80 196.28,281.59 196.37,284.65 196.46,282.24 196.54,281.05 196.63,278.16 196.72,283.86 196.80,281.68 196.89,280.69 196.97,285.34 197.06,282.72 197.15,282.79 197.23,281.60 197.32,287.30 197.41,280.87 197.49,281.05 197.58,281.35 197.66,281.06 197.75,280.26 197.84,283.90 197.92,281.85 198.01,283.78 198.10,282.18 198.18,287.41 198.27,284.94 198.35,283.94 198.44,281.81 198.53,281.21 198.61,283.67 198.70,284.54 198.79,282.11 198.87,283.23 198.96,281.27 199.04,280.64 199.13,284.47 199.22,282.31 199.30,283.79 199.39,280.46 199.48,284.93 199.56,281.42 199.65,283.20 199.73,281.70 199.82,284.74 199.91,283.01 199.99,280.35 200.08,282.09 200.17,283.16 200.25,284.00 200.34,283.41 200.42,282.59 200.51,284.34 200.60,282.42 200.68,280.73 200.77,281.73 200.86,284.50 200.94,281.88 201.03,280.39 201.11,282.37 201.20,283.02 201.29,282.25 201.37,282.89 201.46,276.09 201.54,279.28 201.63,279.69 201.72,280.91 201.80,281.01 201.89,285.62 201.98,283.78 202.06,278.72 202.15,285.66 202.23,285.59 202.32,285.15 202.41,280.24 202.49,287.08 202.58,283.20 202.67,278.91 202.75,281.57 202.84,283.29 202.92,288.60 203.01,285.43 203.10,277.96 203.18,284.76 203.27,280.80 203.36,282.53 203.44,283.97 203.53,285.94 203.61,283.22 203.70,281.94 203.79,282.65 203.87,277.98 203.96,284.51 204.05,280.84 204.13,281.91 204.22,284.03 204.30,282.11 204.39,285.82 204.48,281.78 204.56,280.78 204.65,278.00 204.74,280.97 204.82,282.46 204.91,279.35 204.99,283.07 205.08,282.36 205.17,282.34 205.25,281.11 205.34,282.10 205.43,283.59 205.51,283.91 205.60,284.22 205.68,282.96 205.77,282.63 205.86,282.18 205.94,284.20 206.03,282.94 206.11,281.87 206.20,283.79 206.29,281.83 206.37,286.50 206.46,282.89 206.55,284.53 206.63,281.84 206.72,285.21 206.80,283.61 206.89,283.47 206.98,282.14 207.06,284.17 207.15,284.11 207.24,285.12 207.32,281.39 207.41,283.66 207.49,283.67 207.58,281.47 207.67,281.33 207.75,279.96 207.84,283.82 207.93,282.76 208.01,278.20 208.10,282.96 208.18,282.36 208.27,283.75 208.36,283.45 208.44,287.91 208.53,281.88 208.62,281.41 208.70,284.85 208.79,289.18 208.87,283.03 208.96,282.17 209.05,284.08 209.13,281.19 209.22,283.26 209.31,281.83 209.39,281.51 209.48,285.02 209.56,283.80 209.65,284.17 209.74,283.19 209.82,284.65 209.91,281.70 210.00,284.00 210.08,284.21 210.17,283.57 210.25,282.85 210.34,281.76 210.43,281.10 210.51,282.33 210.60,284.36 210.68,283.84 210.77,283.74 210.86,281.40 210.94,284.27 211.03,282.81 211.12,283.23 211.20,283.11 211.29,283.59 211.37,280.67 211.46,280.89 211.55,282.15 211.63,283.98 211.72,281.03 211.81,284.39 211.89,281.48 211.98,281.50 212.06,281.68 212.15,281.63 212.24,283.11 212.32,282.97 212.41,279.97 212.50,282.16 212.58,282.66 212.67,281.83 212.75,281.85 212.84,283.91 212.93,282.74 213.01,279.28 213.10,282.26 213.19,280.91 213.27,282.97 213.36,282.81 213.44,280.79 213.53,285.21 213.62,282.10 213.70,284.96 213.79,284.39 213.88,283.86 213.96,282.73 214.05,280.88 214.13,280.72 214.22,283.02 214.31,282.60 214.39,283.31 214.48,284.81 214.57,282.47 214.65,281.78 214.74,283.67 214.82,281.62 214.91,284.45 215.00,280.35 215.08,281.14 215.17,284.47 215.25,280.73 215.34,281.07 215.43,283.47 215.51,280.57 215.60,284.47 215.69,282.45 215.77,282.41 215.86,283.02 215.94,282.57 216.03,283.27 216.12,277.55 216.20,286.17 216.29,284.76 216.38,282.02 216.46,283.05 216.55,285.71 216.63,282.87 216.72,280.09 216.81,284.48 216.89,283.04 216.98,284.80 217.07,282.61 217.15,284.54 217.24,281.24 217.32,281.71 217.41,284.31 217.50,282.41 217.58,281.62 217.67,283.08 217.76,284.13 217.84,282.21 217.93,280.77 218.01,284.57 218.10,282.52 218.19,282.43 218.27,279.72 218.36,283.02 218.45,282.77 218.53,280.67 218.62,284.32 218.70,282.95 218.79,282.47 218.88,283.81 218.96,279.55 219.05,281.13 219.14,285.69 219.22,281.91 219.31,283.73 219.39,281.14 219.48,283.09 219.57,282.69 219.65,279.96 219.74,278.13 219.83,283.04 219.91,285.61 220.00,281.96 220.08,284.56 220.17,285.36 220.26,285.34 220.34,282.69 220.43,284.80 220.51,281.20 220.60,282.41 220.69,282.32 220.77,282.69 220.86,280.59 220.95,281.91 221.03,283.56 221.12,280.56 221.20,283.88 221.29,282.49 221.38,281.91 221.46,281.15 221.55,283.04 221.64,282.69 221.72,281.71 221.81,282.27 221.89,284.20 221.98,282.78 222.07,284.17 222.15,283.81 222.24,281.75 222.33,283.37 222.41,281.50 222.50,282.95 222.58,282.92 222.67,284.19 222.76,282.33 222.84,282.95 222.93,281.61 223.02,283.74 223.10,283.93 223.19,282.71 223.27,283.16 223.36,285.30 223.45,280.47 223.53,282.17 223.62,282.58 223.71,278.89 223.79,282.70 223.88,282.52 223.96,280.97 224.05,281.49 224.14,280.86 224.22,283.20 224.31,285.10 224.40,281.54 224.48,284.21 224.57,282.51 224.65,283.36 224.74,285.09 224.83,282.60 224.91,288.60 225.00,281.83 225.08,282.94 225.17,281.49 225.26,282.69 225.34,281.46 225.43,281.12 225.52,282.63 225.60,280.50 225.69,283.25 225.77,283.77 225.86,282.07 225.95,281.84 226.03,282.41 226.12,282.66 226.21,281.55 226.29,282.40 226.38,280.15 226.46,280.20 226.55,283.17 226.64,282.69 226.72,282.52 226.81,282.91 226.90,284.40 226.98,283.23 227.07,282.84 227.15,283.53 227.24,284.08 227.33,283.69 227.41,283.11 227.50,283.16 227.59,282.31 227.67,283.21 227.76,282.77 227.84,282.48 227.93,282.16 228.02,281.20 228.10,282.61 228.19,283.21 228.28,283.37 228.36,284.42 228.45,282.10 228.53,282.40 228.62,283.61 228.71,282.13 228.79,281.99 228.88,282.74 228.97,283.84 229.05,282.60 229.14,282.53 229.22,282.61 229.31,282.80 229.40,282.07 229.48,282.51 229.57,283.65 229.65,284.54 229.74,282.67 229.83,283.69 229.91,283.56 230.00,283.84 230.09,282.76 230.17,283.83 230.26,281.99 230.34,282.57 230.43,283.08 230.52,282.11 230.60,281.91 230.69,282.60 230.78,289.76 230.86,282.54 230.95,280.46 231.03,282.43 231.12,282.15 231.21,282.86 231.29,284.29 231.38,284.61 231.47,283.55 231.55,284.86 231.64,281.90 231.72,281.72 231.81,282.23 231.90,281.63 231.98,283.42 232.07,284.83 232.16,284.79 232.24,283.72 232.33,283.42 232.41,282.46 232.50,283.32 232.59,284.51 232.67,285.43 232.76,280.84 232.85,281.16 232.93,284.06 233.02,282.74 233.10,283.64 233.19,286.56 233.28,283.46 233.36,283.80 233.45,280.94 233.54,280.18 233.62,283.16 233.71,283.10 233.79,281.62 233.88,285.32 233.97,285.78 234.05,285.00 234.14,281.35 234.22,281.10 234.31,282.26 234.40,283.05 234.48,283.89 234.57,283.74 234.66,283.09 234.74,282.03 234.83,283.00 234.91,285.40 235.00,282.72 235.09,281.33 235.17,278.13 235.26,278.79 235.35,283.41 235.43,282.83 235.52,283.10 235.60,284.88 235.69,282.43 235.78,284.26 235.86,282.39 235.95,281.84 236.04,284.41 236.12,282.03 236.21,282.99 236.29,283.02 236.38,281.26 236.47,279.70 236.55,283.46 236.64,282.72 236.73,282.67 236.81,282.52 236.90,282.99 236.98,281.64 237.07,281.86 237.16,281.91 237.24,282.77 237.33,282.44 237.42,283.07 237.50,282.49 237.59,281.24 237.67,281.61 237.76,283.49 237.85,281.82 237.93,281.09 238.02,282.42 238.11,283.08 238.19,281.11 238.28,281.54 238.36,282.33 238.45,282.92 238.54,281.15 238.62,284.02 238.71,281.44 238.79,282.20 238.88,285.48 238.97,283.44 239.05,284.03 239.14,282.27 239.23,282.78 239.31,283.69 239.40,282.44 239.48,284.37 239.57,282.55 239.66,282.32 239.74,282.78 239.83,282.47 239.92,283.15 240.00,282.16 240.09,282.95 240.17,283.11 240.26,283.23 240.35,282.60 240.43,282.58 240.52,282.19 240.61,283.01 240.69,283.53 240.78,281.93 240.86,280.89 240.95,284.17 241.04,283.86 241.12,282.15 241.21,283.45 241.30,282.48 241.38,284.02 241.47,282.49 241.55,283.25 241.64,282.33 241.73,282.16 241.81,281.14 241.90,282.08 241.99,283.53 242.07,281.45 242.16,281.37 242.24,282.89 242.33,286.99 242.42,282.05 242.50,281.89 242.59,283.65 242.68,282.38 242.76,282.04 242.85,282.81 242.93,282.28 243.02,283.79 243.11,285.15 243.19,283.48 243.28,284.12 243.37,285.10 243.45,282.91 243.54,280.71 243.62,282.55 243.71,288.25 243.80,282.10 243.88,281.73 243.97,282.41 244.05,282.40 244.14,285.09 244.23,284.84 244.31,282.67 244.40,282.46 244.49,284.60 244.57,279.47 244.66,290.90 244.74,287.29 244.83,284.80 244.92,286.02 245.00,281.53 245.09,278.83 245.18,284.22 245.26,280.17 245.35,278.20 245.43,294.41 245.52,280.54 245.61,278.41 245.69,280.68 245.78,285.76 245.87,283.78 245.95,282.85 246.04,280.74 246.12,300.23 246.21,284.92 246.30,285.34 246.38,279.54 246.47,284.94 246.56,275.22 246.64,282.97 246.73,281.46 246.81,283.95 246.90,313.31 246.99,281.56 247.07,279.91 247.16,282.64 247.25,281.72 247.33,284.85 247.42,285.57 247.50,279.31 247.59,321.46 247.68,282.79 247.76,283.97 247.85,282.42 247.94,288.50 248.02,282.64 248.11,282.95 248.19,281.19 248.28,283.56 248.37,260.10 248.45,293.49 248.54,284.65 248.62,281.73 248.71,277.96 248.80,281.40 248.88,279.83 248.97,279.62 249.06,263.88 249.14,286.19 249.23,285.76 249.31,283.93 249.40,281.68 249.49,289.61 249.57,278.60 249.66,282.66 249.75,273.23 249.83,266.79 249.92,285.36 250.00,287.40 250.09,276.58 250.18,281.66 250.26,280.49 250.35,282.05 250.44,283.84 250.52,297.32 250.61,282.98 250.69,278.83 250.78,284.30 250.87,286.68 250.95,279.82 251.04,273.97 251.13,288.00 251.21,288.13 251.30,274.06 251.38,285.94 251.47,283.72 251.56,282.30 251.64,284.32 251.73,283.76 251.82,282.36 251.90,280.35 251.99,281.60 252.07,284.65 252.16,285.26 252.25,288.10 252.33,281.82 252.42,279.20 252.51,276.85 252.59,274.67 252.68,284.14 252.76,289.06 252.85,284.60 252.94,281.66 253.02,283.64 253.11,283.75 253.19,279.33 253.28,282.52 253.37,288.26 253.45,279.39 253.54,282.33 253.63,286.57 253.71,285.82 253.80,286.67 253.88,283.12 253.97,281.27 254.06,284.18 254.14,283.02 254.23,282.49 254.32,285.24 254.40,281.95 254.49,285.75 254.57,286.97 254.66,286.82 254.75,282.16 254.83,281.36 254.92,282.30 255.01,283.60 255.09,278.54 255.18,286.64 255.26,283.03 255.35,283.55 255.44,285.34 255.52,287.41 255.61,283.21 255.70,291.50 255.78,278.73 255.87,285.77 255.95,285.93 256.04,281.12 256.13,281.15 256.21,279.61 256.30,285.30 256.39,281.75 256.47,279.81 256.56,277.25 256.64,283.16 256.73,282.53 256.82,279.89 256.90,282.72 256.99,279.29 257.08,279.00 257.16,285.13 257.25,283.00 257.33,282.28 257.42,283.46 257.51,281.71 257.59,282.95 257.68,282.94 257.76,283.00 257.85,276.91 257.94,280.49 258.02,283.72 258.11,282.00 258.20,281.91 258.28,283.20 258.37,278.97 258.45,279.16 258.54,280.95 258.63,285.55 258.71,282.35 258.80,278.80 258.89,281.24 258.97,283.53 259.06,284.71 259.14,281.39 259.23,284.24 259.32,280.19 259.40,284.57 259.49,283.43 259.58,280.10 259.66,284.41 259.75,280.73 259.83,283.21 259.92,281.08 260.01,282.72 260.09,276.38 260.18,285.62 260.27,282.48 260.35,282.94 260.44,289.36 260.52,280.91 260.61,282.33 260.70,281.39 260.78,284.20 260.87,284.78 260.96,279.88 261.04,280.85 261.13,285.19 261.21,283.38 261.30,284.88 261.39,282.44 261.47,280.27 261.56,280.28 261.65,281.54 261.73,284.16 261.82,285.85 261.90,278.97 261.99,283.95 262.08,283.80 262.16,279.72 262.25,282.06 262.34,286.01 262.42,282.89 262.51,280.35 262.59,281.62 262.68,280.87 262.77,283.50 262.85,282.50 262.94,282.09 263.02,283.51 263.11,283.48 263.20,283.71 263.28,286.65 263.37,284.84 263.46,283.78 263.54,286.93 263.63,283.82 263.71,283.35 263.80,283.69 263.89,280.89 263.97,283.60 264.06,279.08 264.15,282.72 264.23,280.77 264.32,277.86 264.40,288.36 264.49,282.87 264.58,283.70 264.66,281.26 264.75,281.69 264.84,283.52 264.92,280.84 265.01,282.93 265.09,282.99 265.18,281.74 265.27,282.37 265.35,288.68 265.44,282.39 265.53,279.87 265.61,279.23 265.70,283.75 265.78,278.35 265.87,284.67 265.96,280.34 266.04,284.77 266.13,281.42 266.22,283.13 266.30,282.37 266.39,282.47 266.47,282.66 266.56,281.55 266.65,284.72 266.73,284.24 266.82,285.56 266.91,283.13 266.99,283.18 267.08,284.60 267.16,284.11 267.25,283.96 267.34,280.49 267.42,280.18 267.51,288.70 267.59,282.36 267.68,282.67 267.77,282.44 267.85,283.22 267.94,279.22 268.03,284.15 268.11,270.57 268.20,282.08 268.28,281.08 268.37,284.52 268.46,275.33 268.54,287.53 268.63,283.50 268.72,282.27 268.80,275.51 268.89,284.30 268.97,282.63 269.06,284.51 269.15,282.27 269.23,282.35 269.32,283.79 269.41,282.47 269.49,283.85 269.58,281.84 269.66,282.41 269.75,285.04 269.84,283.46 269.92,281.50 270.01,282.44 270.10,283.85 270.18,283.03 270.27,283.81 270.35,280.87 270.44,281.61 270.53,282.80 270.61,282.55 270.70,283.39 270.79,284.04 270.87,282.69 270.96,283.68 271.04,299.65 271.13,282.05 271.22,282.87 271.30,280.45 271.39,284.65 271.48,283.52 271.56,282.16 271.65,283.37 271.73,281.61 271.82,281.26 271.91,282.48 271.99,284.45 272.08,285.71 272.16,280.67 272.25,283.36 272.34,283.46 272.42,284.38 272.51,279.88 272.60,282.74 272.68,283.97 272.77,282.29 272.85,283.97 272.94,284.05 273.03,287.76 273.11,284.24 273.20,284.74 273.29,284.71 273.37,283.91 273.46,285.15 273.54,289.44 273.63,282.72 273.72,281.79 273.80,280.40 273.89,280.41 273.98,282.19 274.06,281.53 274.15,283.51 274.23,283.84 274.32,283.58 274.41,280.90 274.49,283.47 274.58,283.16 274.67,276.38 274.75,281.98 274.84,282.67 274.92,283.12 275.01,282.13 275.10,282.71 275.18,281.67 275.27,285.14 275.36,280.20 275.44,282.90 275.53,282.74 275.61,283.28 275.70,283.36 275.79,281.98 275.87,282.57 275.96,281.51 276.05,283.81 276.13,282.61 276.22,284.07 276.30,282.91 276.39,283.92 276.48,281.72 276.56,279.89 276.65,280.47 276.73,281.16 276.82,281.45 276.91,283.47 276.99,283.53 277.08,281.65 277.17,283.80 277.25,281.59 277.34,280.64 277.42,280.99 277.51,283.74 277.60,283.54 277.68,287.06 277.77,280.16 277.86,285.00 277.94,283.74 278.03,285.18 278.11,284.60 278.20,283.17 278.29,283.31 278.37,281.26 278.46,284.29 278.55,280.61 278.63,281.85 278.72,283.56 278.80,282.75 278.89,285.90 278.98,279.61 279.06,281.84 279.15,282.41 279.24,282.65 279.32,286.75 279.41,282.46 279.49,283.72 279.58,282.31 279.67,280.46 279.75,289.42 279.84,281.34 279.93,281.91 280.01,283.19 280.10,285.11 280.18,283.66 280.27,283.69 280.36,281.96 280.44,283.57 280.53,283.85 280.62,284.49 280.70,282.28 280.79,283.72 280.87,281.41 280.96,283.09 281.05,282.30 281.13,283.92 281.22,282.99 281.31,284.29 281.39,282.04 281.48,281.39 281.56,278.35 281.65,285.35 281.74,284.81 281.82,284.86 281.91,283.63 281.99,277.86 282.08,286.52 282.17,285.41 282.25,280.79 282.34,283.39 282.43,285.66 282.51,282.44 282.60,285.52 282.68,281.77 282.77,285.47 282.86,282.00 282.94,280.79 283.03,278.78 283.12,286.75 283.20,280.38 283.29,287.01 283.37,278.49 283.46,289.18 283.55,280.79 283.63,280.72 283.72,281.90 283.81,284.63 283.89,281.66 283.98,281.04 284.06,283.51 284.15,280.15 284.24,285.45 284.32,281.26 284.41,284.84 284.50,283.00 284.58,281.40 284.67,283.45 284.75,281.76 284.84,283.06 284.93,283.54 285.01,281.94 285.10,281.39 285.19,283.86 285.27,283.27 285.36,286.58 285.44,285.06 285.53,281.48 285.62,281.81 285.70,282.20 285.79,282.14 285.88,281.63 285.96,285.20 286.05,282.56 286.13,282.59 286.22,281.38 286.31,281.28 286.39,285.77 286.48,282.64 286.56,282.64 286.65,278.88 286.74,283.63 286.82,282.42 286.91,281.98 287.00,281.96 287.08,285.59 287.17,282.14 287.25,282.89 287.34,284.72 287.43,281.41 287.51,284.09 287.60,280.06 287.69,282.29 287.77,281.25 287.86,282.86 287.94,282.41 288.03,280.92 288.12,280.34 288.20,282.30 288.29,283.76 288.38,283.47 288.46,283.47 288.55,282.80 288.63,283.51 288.72,282.26 288.81,278.69 288.89,281.48 288.98,280.44 289.07,283.13 289.15,283.14 289.24,281.07 289.32,287.10 289.41,284.40 289.50,280.45 289.58,280.68 289.67,282.68 289.76,283.15 289.84,280.77 289.93,281.06 290.01,284.12 290.10,282.34 290.19,283.26 290.27,280.52 290.36,281.47 290.45,284.05 290.53,283.22 290.62,281.82 290.70,283.61 290.79,280.85 290.88,281.72 290.96,285.06 291.05,284.09 291.13,282.87 291.22,282.40 291.31,284.41 291.39,283.29 291.48,284.23 291.57,282.77 291.65,282.10 291.74,280.15 291.82,281.62 291.91,282.60 292.00,281.65 292.08,282.22 292.17,284.13 292.26,276.96 292.34,283.23 292.43,282.66 292.51,282.68 292.60,283.28 292.69,283.26 292.77,282.68 292.86,282.03 292.95,281.03 293.03,282.00 293.12,282.90 293.20,282.41 293.29,283.90 293.38,281.33 293.46,283.32 293.55,283.98 293.64,283.02 293.72,283.37 293.81,282.51 293.89,282.71 293.98,282.02 294.07,282.37 294.15,282.93 294.24,283.96 294.33,284.18 294.41,281.85 294.50,281.99 294.58,287.02 294.67,282.05 294.76,281.04 294.84,282.74 294.93,282.99 295.02,283.57 295.10,280.82 295.19,283.94 295.27,281.54 295.36,281.55 295.45,281.02 295.53,284.19 295.62,281.57 295.70,282.84 295.79,282.52 295.88,282.43 295.96,282.32 296.05,281.27 296.14,282.90 296.22,283.42 296.31,283.61 296.39,281.77 296.48,282.18 296.57,282.36 296.65,279.10 296.74,282.24 296.83,284.64 296.91,281.69 297.00,279.55 297.08,283.22 297.17,280.25 297.26,285.62 297.34,282.20 297.43,283.92 297.52,281.69 297.60,280.69 297.69,284.93 297.77,284.14 297.86,284.07 297.95,285.25 298.03,284.66 298.12,279.28 298.21,284.21 298.29,281.45 298.38,282.99 298.46,279.74 298.55,283.71 298.64,285.68 298.72,283.24 298.81,284.70 298.90,279.82 298.98,282.17 299.07,284.22 299.15,284.20 299.24,282.48 299.33,277.41 299.41,281.01 299.50,281.59 299.59,285.32 299.67,281.86 299.76,284.72 299.84,282.36 299.93,282.28 300.02,281.38 300.10,287.26 300.19,282.21 300.27,283.70 300.36,284.38 300.45,283.29 300.53,282.65 300.62,281.74 300.71,282.99 300.79,283.44 300.88,283.82 300.96,281.74 301.05,289.18 301.14,282.38 301.22,282.05 301.31,285.34 301.40,282.34 301.48,281.42 301.57,283.66 301.65,281.33 301.74,283.01 301.83,282.01 301.91,283.26 302.00,280.66 302.09,283.14 302.17,279.72 302.26,283.66 302.34,282.66 302.43,283.94 302.52,282.14 302.60,281.38 302.69,284.24 302.78,282.11 302.86,282.14 302.95,282.93 303.03,281.71 303.12,282.14 303.21,284.00 303.29,281.83 303.38,285.03 303.47,282.83 303.55,281.71 303.64,284.49 303.72,279.21 303.81,282.76 303.90,281.32 303.98,283.43 304.07,283.51 304.16,283.64 304.24,281.61 304.33,283.72 304.41,282.81 304.50,280.28 304.59,281.30 304.67,283.18 304.76,285.14 304.85,282.26 304.93,282.31 305.02,280.72 305.10,280.55 305.19,285.54 305.28,282.49 305.36,283.34 305.45,284.35 305.53,284.04 305.62,284.56 305.71,284.72 305.79,282.98 305.88,286.84 305.97,284.53 306.05,284.54 306.14,283.77 306.22,280.72 306.31,282.11 306.40,283.41 306.48,281.05 306.57,282.36 306.66,283.00 306.74,283.70 306.83,282.88 306.91,283.49 307.00,282.43 307.09,283.93 307.17,280.99 307.26,279.91 307.35,283.07 307.43,284.28 307.52,282.15 307.60,283.41 307.69,283.56 307.78,282.72 307.86,287.43 307.95,283.28 308.04,282.34 308.12,279.58 308.21,283.85 308.29,280.47 308.38,290.92 308.47,282.65 308.55,282.28 308.64,281.29 308.73,281.91 308.81,282.37 308.90,284.68 308.98,281.27 309.07,284.89 309.16,284.84 309.24,284.30 309.33,282.16 309.42,285.67 309.50,285.70 309.59,288.15 309.67,282.15 309.76,283.29 309.85,281.71 309.93,283.04 310.02,283.59 310.10,283.16 310.19,280.85 310.28,282.54 310.36,281.14 310.45,284.15 310.54,283.90 310.62,281.03 310.71,283.13 310.79,281.81 310.88,281.63 310.97,285.42 311.05,283.68 311.14,282.60 311.23,282.34 311.31,282.44 311.40,283.75 311.48,285.71 311.57,282.27 311.66,284.80 311.74,284.52 311.83,284.01 311.92,283.12 312.00,283.19 312.09,283.57 312.17,281.92 312.26,280.36 312.35,284.41 312.43,283.54 312.52,282.70 312.61,283.20 312.69,281.92 312.78,282.55 312.86,282.53 312.95,283.57 313.04,284.11 313.12,283.43 313.21,281.62 313.30,282.91 313.38,281.29 313.47,281.56 313.55,281.54 313.64,283.57 313.73,279.48 313.81,282.19 313.90,285.01 313.99,281.13 314.07,283.69 314.16,281.02 314.24,277.55 314.33,285.28 314.42,284.14 314.50,283.84 314.59,284.88 314.67,284.19 314.76,280.98 314.85,281.48 314.93,283.86 315.02,282.45 315.11,283.44 315.19,281.30 315.28,282.11 315.36,281.83 315.45,281.80 315.54,285.76 315.62,283.38 315.71,283.47 315.80,282.82 315.88,283.72 315.97,284.21 316.05,284.21 316.14,281.89 316.23,282.52 316.31,283.27 316.40,282.74 316.49,279.99 316.57,281.43 316.66,282.43 316.74,286.72 316.83,283.50 316.92,283.74 317.00,282.38 317.09,282.09 317.18,280.85 317.26,279.65 317.35,282.47 317.43,287.51 317.52,281.59 317.61,280.73 317.69,282.86 317.78,282.79 317.87,280.26 317.95,282.32 318.04,283.81 318.12,282.50 318.21,282.67 318.30,280.54 318.38,285.49 318.47,287.09 318.56,280.99 318.64,284.44 318.73,280.86 318.81,281.50 318.90,285.49 318.99,283.52 319.07,282.64 319.16,285.31 319.24,282.14 319.33,282.89 319.42,284.41 319.50,282.04 319.59,282.70 319.68,282.58 319.76,285.36 319.85,282.57 319.93,282.27 320.02,282.95 320.11,285.15 320.19,281.89 320.28,284.83 320.37,282.80 320.45,284.46 320.54,281.27 320.62,282.95 320.71,280.30 320.80,287.33 320.88,282.01 320.97,284.15 321.06,281.36 321.14,279.52 321.23,284.18 321.31,280.85 321.40,285.02 321.49,280.12 321.57,280.92 321.66,283.02 321.75,287.12 321.83,283.44 321.92,286.68 322.00,283.69 322.09,286.46 322.18,285.12 322.26,280.96 322.35,283.14 322.44,281.38 322.52,281.20 322.61,283.66 322.69,282.48 322.78,283.40 322.87,283.58 322.95,281.68 323.04,287.43 323.13,282.41 323.21,282.01 323.30,283.66 323.38,282.14 323.47,282.48 323.56,281.88 323.64,282.78 323.73,284.09 323.82,283.72 323.90,280.18 323.99,282.43 324.07,285.12 324.16,281.93 324.25,284.90 324.33,283.79 324.42,282.40 324.50,288.53 324.59,282.18 324.68,281.96 324.76,283.77 324.85,284.51 324.94,283.58 325.02,282.72 325.11,287.69 325.19,282.87 325.28,280.90 325.37,284.07 325.45,281.72 325.54,285.35 325.63,284.39 325.71,285.35 325.80,282.24 325.88,282.77 325.97,282.32 326.06,283.51 326.14,280.52 326.23,282.68 326.32,286.60 326.40,280.59 326.49,281.35 326.57,279.77 326.66,280.92 326.75,279.10 326.83,279.04 326.92,280.75 327.01,281.82 327.09,283.87 327.18,278.69 327.26,284.06 327.35,282.90 327.44,281.47 327.52,283.50 327.61,281.21 327.70,285.58 327.78,280.97 327.87,282.03 327.95,285.61 328.04,282.09 328.13,283.75 328.21,282.79 328.30,282.58 328.39,282.48 328.47,281.06 328.56,281.54 328.64,283.25 328.73,282.55 328.82,284.30 328.90,278.71 328.99,283.18 329.07,283.74 329.16,283.68 329.25,284.16 329.33,284.40 329.42,283.80 329.51,278.89 329.59,283.47 329.68,283.10 329.76,283.05 329.85,283.95 329.94,283.91 330.02,282.12 330.11,284.41 330.20,283.47 330.28,281.90 330.37,283.93 330.45,282.88 330.54,284.20 330.63,283.00 330.71,284.00 330.80,284.92 330.89,285.03 330.97,284.00 331.06,283.83 331.14,282.54 331.23,283.52 331.32,283.32 331.40,283.36 331.49,283.08 331.58,282.33 331.66,282.78 331.75,283.44 331.83,281.67 331.92,282.67 332.01,284.42 332.09,281.41 332.18,282.13 332.27,282.36 332.35,283.66 332.44,280.55 332.52,282.83 332.61,283.17 332.70,284.99 332.78,283.01 332.87,282.44 332.96,282.45 333.04,282.51 333.13,283.84 333.21,285.26 333.30,282.88" fill="none" stroke="#3566B2" stroke-width="0.72" stroke-linejoin="round"/>
<text transform="translate(247.40,242.50) rotate(0.03)" textLength="25.30" lengthAdjust="spacingAndGlyphs" font-size="6.7" fill="#15171c" stroke="#15171c" stroke-width="0.2">Thailand</text>
<text transform="translate(184.20,255.13) rotate(0.03) scale(0.88,1)" text-anchor="end" font-size="6.1" fill="#111" stroke="#111" stroke-width="0.24">10</text>
<text transform="translate(184.20,269.67) rotate(0.03) scale(0.88,1)" text-anchor="end" font-size="6.1" fill="#111" stroke="#111" stroke-width="0.24">5</text>
<text transform="translate(184.20,284.21) rotate(0.03) scale(0.88,1)" text-anchor="end" font-size="6.1" fill="#111" stroke="#111" stroke-width="0.24">0</text>
<text transform="translate(184.20,298.75) rotate(0.03) scale(0.88,1)" text-anchor="end" font-size="6.1" fill="#111" stroke="#111" stroke-width="0.24">-5</text>
<text transform="translate(184.20,313.29) rotate(0.03) scale(0.88,1)" text-anchor="end" font-size="6.1" fill="#111" stroke="#111" stroke-width="0.24">-10</text>
<text transform="translate(184.20,327.83) rotate(0.03) scale(0.88,1)" text-anchor="end" font-size="6.1" fill="#111" stroke="#111" stroke-width="0.24">-15</text>
<text transform="translate(196.35,336.10) rotate(-59) scale(0.96,1)" text-anchor="middle" y="1.95" font-size="5.5" fill="#000" stroke="#000" stroke-width="0.1">18Q3</text>
<text transform="translate(211.71,336.10) rotate(-59) scale(0.96,1)" text-anchor="middle" y="1.95" font-size="5.5" fill="#000" stroke="#000" stroke-width="0.1">19Q1</text>
<text transform="translate(227.07,336.10) rotate(-59) scale(0.96,1)" text-anchor="middle" y="1.95" font-size="5.5" fill="#000" stroke="#000" stroke-width="0.1">19Q3</text>
<text transform="translate(242.43,336.10) rotate(-59) scale(0.96,1)" text-anchor="middle" y="1.95" font-size="5.5" fill="#000" stroke="#000" stroke-width="0.1">20Q1</text>
<text transform="translate(257.79,336.10) rotate(-59) scale(0.96,1)" text-anchor="middle" y="1.95" font-size="5.5" fill="#000" stroke="#000" stroke-width="0.1">20Q3</text>
<text transform="translate(273.15,336.10) rotate(-59) scale(0.96,1)" text-anchor="middle" y="1.95" font-size="5.5" fill="#000" stroke="#000" stroke-width="0.1">21Q1</text>
<text transform="translate(288.51,336.10) rotate(-59) scale(0.96,1)" text-anchor="middle" y="1.95" font-size="5.5" fill="#000" stroke="#000" stroke-width="0.1">21Q3</text>
<text transform="translate(303.87,336.10) rotate(-59) scale(0.96,1)" text-anchor="middle" y="1.95" font-size="5.5" fill="#000" stroke="#000" stroke-width="0.1">22Q1</text>
<text transform="translate(319.23,336.10) rotate(-59) scale(0.96,1)" text-anchor="middle" y="1.95" font-size="5.5" fill="#000" stroke="#000" stroke-width="0.1">22Q3</text>
</g>
</svg>
</body></html>
